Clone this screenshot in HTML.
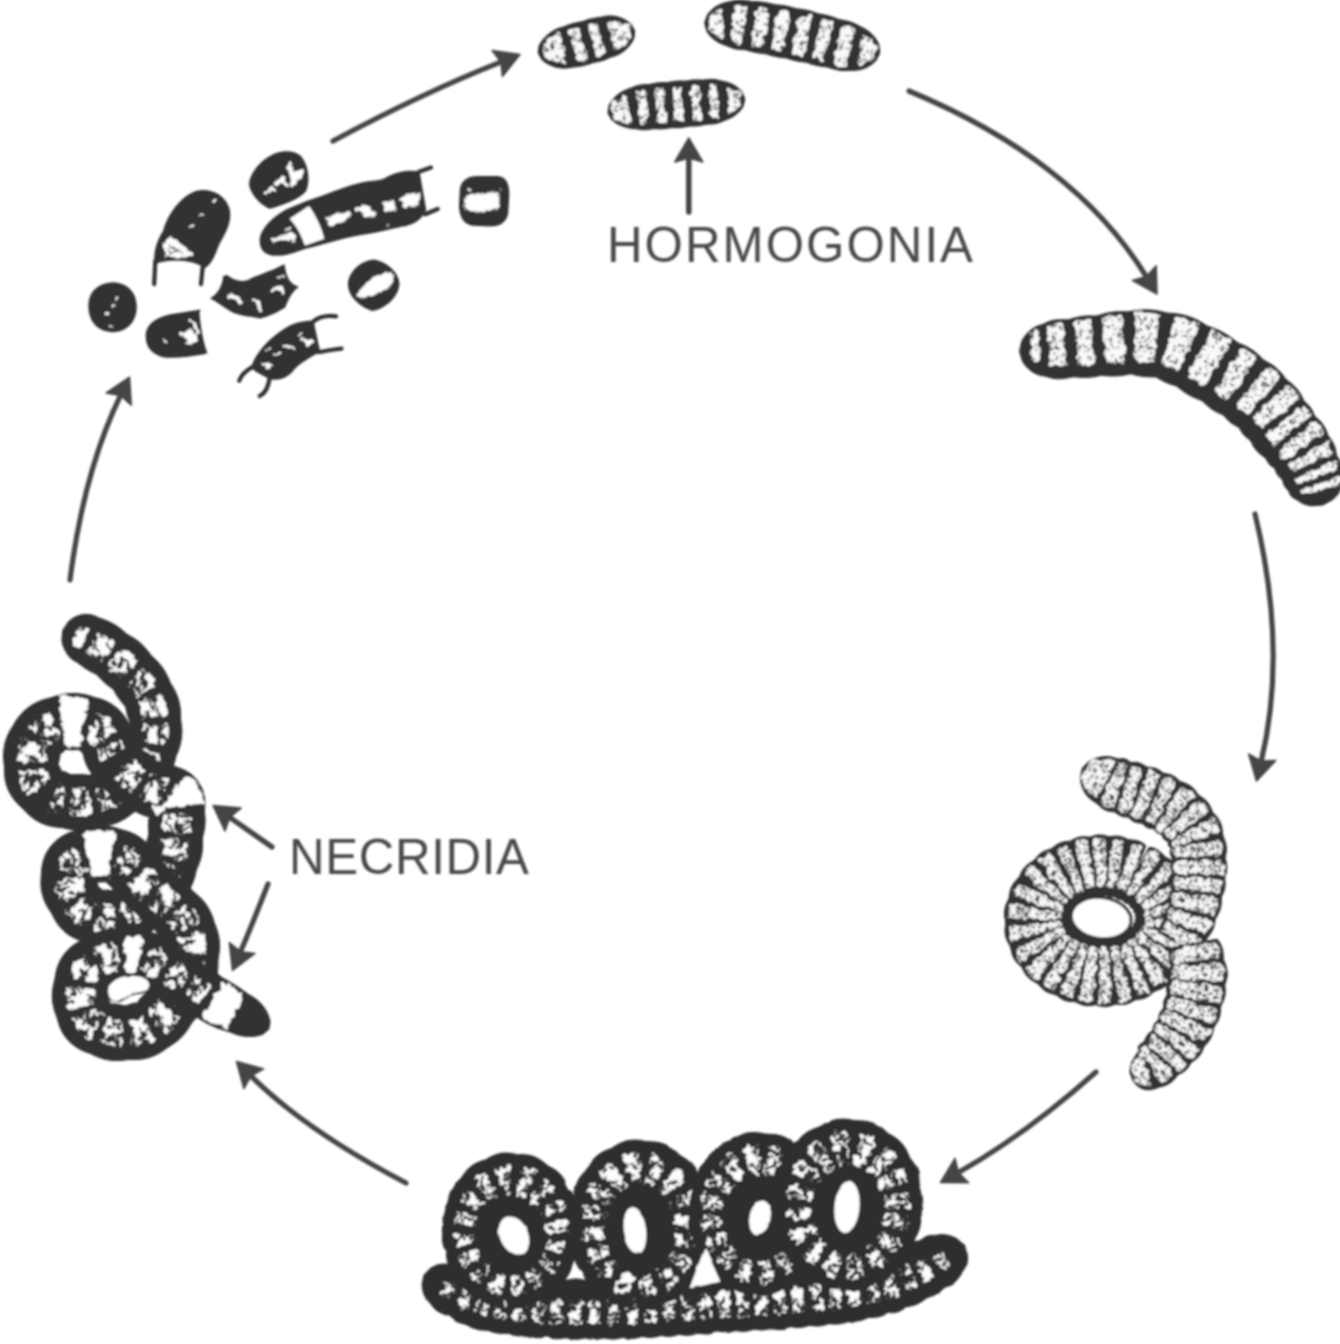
<!DOCTYPE html>
<html><head><meta charset="utf-8"><title>Life cycle</title>
<style>
html,body{margin:0;padding:0;background:#fff;}
body{width:1340px;height:1344px;overflow:hidden;font-family:"Liberation Sans",sans-serif;}
svg{display:block;}
</style></head><body>
<svg width="1340" height="1344" viewBox="0 0 1340 1344">
<defs>
<filter id="soft" x="-2%" y="-2%" width="104%" height="104%"><feGaussianBlur stdDeviation="1.3"/></filter>
<filter id="rough" x="-5%" y="-5%" width="110%" height="110%"><feTurbulence type="fractalNoise" baseFrequency="0.11" numOctaves="2" seed="3" result="n"/><feDisplacementMap in="SourceGraphic" in2="n" scale="7" xChannelSelector="R" yChannelSelector="G"/></filter>
<filter id="rough2" x="-5%" y="-5%" width="110%" height="110%"><feTurbulence type="fractalNoise" baseFrequency="0.2" numOctaves="2" seed="8" result="n"/><feDisplacementMap in="SourceGraphic" in2="n" scale="5" xChannelSelector="R" yChannelSelector="G"/></filter>
<filter id="rough6" x="-5%" y="-5%" width="110%" height="110%"><feTurbulence type="fractalNoise" baseFrequency="0.16" numOctaves="2" seed="4" result="n"/><feDisplacementMap in="SourceGraphic" in2="n" scale="9" xChannelSelector="R" yChannelSelector="G"/></filter>
<filter id="rough7" x="-5%" y="-5%" width="110%" height="110%"><feTurbulence type="fractalNoise" baseFrequency="0.14" numOctaves="2" seed="9" result="n"/><feDisplacementMap in="SourceGraphic" in2="n" scale="8" xChannelSelector="R" yChannelSelector="G"/></filter>
<filter id="wob" x="-5%" y="-5%" width="110%" height="110%"><feTurbulence type="fractalNoise" baseFrequency="0.05" numOctaves="2" seed="5" result="n"/><feDisplacementMap in="SourceGraphic" in2="n" scale="3" xChannelSelector="R" yChannelSelector="G"/></filter>
<pattern id="spk" width="48" height="48" patternUnits="userSpaceOnUse"><rect width="48" height="48" fill="#fbfbfb"/><circle cx="6.4" cy="40.7" r="0.9" fill="#3c3c3c"/><circle cx="12.2" cy="23.8" r="0.8" fill="#3c3c3c"/><circle cx="31.3" cy="37.9" r="0.6" fill="#3c3c3c"/><circle cx="1.4" cy="40.1" r="0.8" fill="#3c3c3c"/><circle cx="36.6" cy="0.1" r="0.8" fill="#3c3c3c"/><circle cx="36.6" cy="48.1" r="0.8" fill="#3c3c3c"/><circle cx="34.6" cy="11" r="1" fill="#3c3c3c"/><circle cx="43.3" cy="1.5" r="0.6" fill="#3c3c3c"/><circle cx="26" cy="45.1" r="0.8" fill="#3c3c3c"/><circle cx="10.4" cy="20.3" r="0.6" fill="#3c3c3c"/><circle cx="10.6" cy="21" r="0.8" fill="#3c3c3c"/><circle cx="11.2" cy="11.1" r="0.7" fill="#3c3c3c"/><circle cx="22.1" cy="13.9" r="0.6" fill="#3c3c3c"/><circle cx="40.2" cy="26.7" r="0.9" fill="#3c3c3c"/><circle cx="8.9" cy="-0.4" r="1" fill="#3c3c3c"/><circle cx="8.9" cy="47.6" r="1" fill="#3c3c3c"/><circle cx="5.8" cy="16" r="0.9" fill="#3c3c3c"/><circle cx="34.1" cy="44.9" r="0.8" fill="#3c3c3c"/><circle cx="39.8" cy="32.2" r="0.7" fill="#3c3c3c"/><circle cx="28.2" cy="42.4" r="1" fill="#3c3c3c"/><circle cx="24.3" cy="28.3" r="0.6" fill="#3c3c3c"/><circle cx="11.7" cy="38.3" r="0.8" fill="#3c3c3c"/><circle cx="8.3" cy="26.3" r="0.9" fill="#3c3c3c"/><circle cx="32.4" cy="18" r="0.8" fill="#3c3c3c"/><circle cx="24.4" cy="37.4" r="0.8" fill="#3c3c3c"/><circle cx="18.9" cy="23.5" r="0.6" fill="#3c3c3c"/><circle cx="2.1" cy="33.8" r="1" fill="#3c3c3c"/><circle cx="28.5" cy="18.9" r="0.7" fill="#3c3c3c"/><circle cx="24.1" cy="-0.9" r="0.9" fill="#3c3c3c"/><circle cx="24.1" cy="47.1" r="0.9" fill="#3c3c3c"/><circle cx="25.9" cy="41.3" r="0.7" fill="#3c3c3c"/><circle cx="24.7" cy="45.7" r="0.9" fill="#3c3c3c"/><circle cx="22" cy="12.9" r="0.8" fill="#3c3c3c"/><circle cx="45.9" cy="0.3" r="1" fill="#3c3c3c"/><circle cx="45.9" cy="48.3" r="1" fill="#3c3c3c"/><circle cx="39.4" cy="42.5" r="0.9" fill="#3c3c3c"/><circle cx="38.8" cy="24.9" r="0.9" fill="#3c3c3c"/><circle cx="20.5" cy="2.7" r="1" fill="#3c3c3c"/><circle cx="27.4" cy="9.6" r="0.8" fill="#3c3c3c"/><circle cx="23.3" cy="17.1" r="0.8" fill="#3c3c3c"/><circle cx="25.8" cy="29.9" r="0.9" fill="#3c3c3c"/><circle cx="22" cy="1.3" r="0.7" fill="#3c3c3c"/><circle cx="8.5" cy="28.1" r="1" fill="#3c3c3c"/><circle cx="38.3" cy="38.3" r="1" fill="#3c3c3c"/><circle cx="12.3" cy="40.4" r="0.9" fill="#3c3c3c"/><circle cx="4" cy="0.8" r="0.6" fill="#3c3c3c"/><circle cx="36.3" cy="12" r="0.6" fill="#3c3c3c"/><circle cx="30" cy="16.5" r="0.6" fill="#3c3c3c"/><circle cx="7.7" cy="25.3" r="0.7" fill="#3c3c3c"/><circle cx="13.1" cy="34.2" r="0.8" fill="#3c3c3c"/><circle cx="15.5" cy="22.7" r="0.6" fill="#3c3c3c"/><circle cx="18.6" cy="20.2" r="0.7" fill="#3c3c3c"/><circle cx="5.2" cy="43.2" r="0.8" fill="#3c3c3c"/><circle cx="10" cy="29.1" r="1" fill="#3c3c3c"/><circle cx="1" cy="0.9" r="0.7" fill="#3c3c3c"/><circle cx="34.5" cy="7.7" r="0.9" fill="#3c3c3c"/><circle cx="32.6" cy="26.1" r="0.7" fill="#3c3c3c"/><circle cx="46.8" cy="38.3" r="0.8" fill="#3c3c3c"/><circle cx="10.7" cy="31.1" r="0.8" fill="#3c3c3c"/><circle cx="27.6" cy="15.4" r="0.9" fill="#3c3c3c"/><circle cx="2.8" cy="14.3" r="1" fill="#3c3c3c"/><circle cx="42" cy="14.7" r="1" fill="#3c3c3c"/><circle cx="14.9" cy="45.1" r="0.9" fill="#3c3c3c"/><circle cx="20" cy="12.1" r="0.6" fill="#3c3c3c"/><circle cx="42.2" cy="1.8" r="1" fill="#3c3c3c"/><circle cx="46.2" cy="27.4" r="0.7" fill="#3c3c3c"/><circle cx="41.7" cy="46.7" r="0.9" fill="#3c3c3c"/><circle cx="24.4" cy="18.1" r="0.8" fill="#3c3c3c"/><circle cx="9.9" cy="32.4" r="0.8" fill="#3c3c3c"/><circle cx="9.3" cy="5" r="0.9" fill="#3c3c3c"/><circle cx="14.2" cy="24" r="0.7" fill="#3c3c3c"/><circle cx="41.8" cy="43.2" r="0.6" fill="#3c3c3c"/><circle cx="9.6" cy="15.7" r="1" fill="#3c3c3c"/><circle cx="37.6" cy="16.3" r="0.7" fill="#3c3c3c"/><circle cx="32.4" cy="40.2" r="1" fill="#3c3c3c"/><circle cx="16.5" cy="42.4" r="0.9" fill="#3c3c3c"/><circle cx="23.3" cy="-0.7" r="0.7" fill="#3c3c3c"/><circle cx="23.3" cy="47.3" r="0.7" fill="#3c3c3c"/><circle cx="34.8" cy="4.1" r="0.7" fill="#3c3c3c"/><circle cx="43.7" cy="10.2" r="0.9" fill="#3c3c3c"/><circle cx="28.8" cy="40.4" r="0.8" fill="#3c3c3c"/><circle cx="16.3" cy="14" r="1" fill="#3c3c3c"/><circle cx="29" cy="45.8" r="1" fill="#3c3c3c"/><circle cx="6.5" cy="26.5" r="0.6" fill="#3c3c3c"/><circle cx="1.9" cy="3.5" r="1" fill="#3c3c3c"/><circle cx="37.8" cy="39.8" r="0.8" fill="#3c3c3c"/><circle cx="29.5" cy="37.5" r="0.8" fill="#3c3c3c"/><circle cx="27.4" cy="10.7" r="0.6" fill="#3c3c3c"/><circle cx="12.8" cy="42.8" r="0.9" fill="#3c3c3c"/><circle cx="44.4" cy="22" r="0.7" fill="#3c3c3c"/><circle cx="37.8" cy="39.7" r="0.6" fill="#3c3c3c"/><circle cx="32.2" cy="4.4" r="0.7" fill="#3c3c3c"/><circle cx="42.5" cy="1.9" r="0.7" fill="#3c3c3c"/><circle cx="-0.6" cy="20.2" r="0.7" fill="#3c3c3c"/><circle cx="47.4" cy="20.2" r="0.7" fill="#3c3c3c"/><circle cx="8" cy="11.6" r="0.9" fill="#3c3c3c"/><circle cx="4.9" cy="43.7" r="0.8" fill="#3c3c3c"/><circle cx="46.6" cy="43.6" r="0.7" fill="#3c3c3c"/><circle cx="12.2" cy="22.9" r="0.6" fill="#3c3c3c"/><circle cx="31.3" cy="1.9" r="0.6" fill="#3c3c3c"/><circle cx="-0.8" cy="14.2" r="0.9" fill="#3c3c3c"/><circle cx="47.2" cy="14.2" r="0.9" fill="#3c3c3c"/></pattern>
<pattern id="spk5" width="48" height="48" patternUnits="userSpaceOnUse"><rect width="48" height="48" fill="#f6f6f6"/><circle cx="29.9" cy="35.6" r="1.2" fill="#383838"/><circle cx="45.2" cy="35.5" r="1.3" fill="#383838"/><circle cx="1.4" cy="22.3" r="1.3" fill="#383838"/><circle cx="31.2" cy="43.2" r="0.8" fill="#383838"/><circle cx="22.5" cy="11.8" r="1" fill="#383838"/><circle cx="27.5" cy="0.6" r="0.8" fill="#383838"/><circle cx="27.5" cy="48.6" r="0.8" fill="#383838"/><circle cx="13.4" cy="44" r="1.2" fill="#383838"/><circle cx="7.7" cy="38.3" r="0.8" fill="#383838"/><circle cx="29.6" cy="6.1" r="0.7" fill="#383838"/><circle cx="41.8" cy="10.1" r="0.8" fill="#383838"/><circle cx="-0.8" cy="41.9" r="0.9" fill="#383838"/><circle cx="47.2" cy="41.9" r="0.9" fill="#383838"/><circle cx="46.2" cy="25.9" r="1.1" fill="#383838"/><circle cx="9.8" cy="45.2" r="1.1" fill="#383838"/><circle cx="46.4" cy="42.9" r="0.9" fill="#383838"/><circle cx="17.3" cy="8" r="0.8" fill="#383838"/><circle cx="3.1" cy="14.5" r="1.1" fill="#383838"/><circle cx="0.2" cy="32.5" r="0.9" fill="#383838"/><circle cx="48.2" cy="32.5" r="0.9" fill="#383838"/><circle cx="14.9" cy="39.3" r="1" fill="#383838"/><circle cx="15.2" cy="23.1" r="1.1" fill="#383838"/><circle cx="2.7" cy="46.8" r="0.7" fill="#383838"/><circle cx="36" cy="40.6" r="0.7" fill="#383838"/><circle cx="37.8" cy="17.6" r="1" fill="#383838"/><circle cx="0.4" cy="2.2" r="0.8" fill="#383838"/><circle cx="48.4" cy="2.2" r="0.8" fill="#383838"/><circle cx="45.8" cy="9.4" r="1.2" fill="#383838"/><circle cx="44.6" cy="45.2" r="0.9" fill="#383838"/><circle cx="17" cy="25.2" r="1.2" fill="#383838"/><circle cx="5.2" cy="35.9" r="1.2" fill="#383838"/><circle cx="41.3" cy="1.8" r="1.3" fill="#383838"/><circle cx="4.4" cy="16.4" r="1.1" fill="#383838"/><circle cx="44.1" cy="16.3" r="1.3" fill="#383838"/><circle cx="26.2" cy="15" r="0.9" fill="#383838"/><circle cx="8.5" cy="3.8" r="0.8" fill="#383838"/><circle cx="33.1" cy="-0.2" r="0.8" fill="#383838"/><circle cx="33.1" cy="47.8" r="0.8" fill="#383838"/><circle cx="2.3" cy="-0.6" r="1" fill="#383838"/><circle cx="2.3" cy="47.4" r="1" fill="#383838"/><circle cx="19.5" cy="11.4" r="1.1" fill="#383838"/><circle cx="39.7" cy="21.9" r="1" fill="#383838"/><circle cx="2.7" cy="44" r="0.7" fill="#383838"/><circle cx="23.7" cy="40.2" r="0.8" fill="#383838"/><circle cx="35.1" cy="45.6" r="1.1" fill="#383838"/><circle cx="37.8" cy="5.1" r="1" fill="#383838"/><circle cx="7.2" cy="40.5" r="0.9" fill="#383838"/><circle cx="21.8" cy="-0" r="1.2" fill="#383838"/><circle cx="21.8" cy="48" r="1.2" fill="#383838"/><circle cx="46.8" cy="21.8" r="1" fill="#383838"/><circle cx="35" cy="23" r="0.9" fill="#383838"/><circle cx="19.4" cy="7" r="0.9" fill="#383838"/><circle cx="-0.6" cy="46.1" r="1.1" fill="#383838"/><circle cx="47.4" cy="46.1" r="1.1" fill="#383838"/><circle cx="24" cy="16.2" r="0.8" fill="#383838"/><circle cx="13.1" cy="37.5" r="1.2" fill="#383838"/><circle cx="17.3" cy="37.7" r="1.2" fill="#383838"/><circle cx="33.3" cy="31.9" r="1.2" fill="#383838"/><circle cx="17.4" cy="33.8" r="0.9" fill="#383838"/><circle cx="23.3" cy="36.9" r="1.1" fill="#383838"/><circle cx="14.1" cy="45.4" r="1.1" fill="#383838"/><circle cx="27.9" cy="0.6" r="1" fill="#383838"/><circle cx="27.9" cy="48.6" r="1" fill="#383838"/><circle cx="12" cy="32.2" r="1" fill="#383838"/><circle cx="39.2" cy="31.1" r="1.2" fill="#383838"/><circle cx="16.7" cy="30.9" r="1.1" fill="#383838"/><circle cx="39.8" cy="16.8" r="1.2" fill="#383838"/><circle cx="41.8" cy="33" r="1.3" fill="#383838"/><circle cx="45.9" cy="24.9" r="1" fill="#383838"/><circle cx="8" cy="40.2" r="1.3" fill="#383838"/><circle cx="22.9" cy="33.2" r="1.1" fill="#383838"/><circle cx="35.1" cy="8.2" r="1.2" fill="#383838"/><circle cx="27.9" cy="31.9" r="1" fill="#383838"/><circle cx="29.9" cy="37.2" r="1.1" fill="#383838"/><circle cx="34.6" cy="1.3" r="0.8" fill="#383838"/><circle cx="21.2" cy="31.2" r="0.8" fill="#383838"/><circle cx="32.9" cy="30.3" r="0.7" fill="#383838"/><circle cx="22.6" cy="10.9" r="0.7" fill="#383838"/><circle cx="6.4" cy="15.2" r="0.8" fill="#383838"/><circle cx="9.3" cy="1.7" r="1" fill="#383838"/><circle cx="18.3" cy="29.4" r="1.1" fill="#383838"/><circle cx="11.4" cy="43.4" r="0.7" fill="#383838"/><circle cx="19.5" cy="13.4" r="0.9" fill="#383838"/><circle cx="5.5" cy="39.9" r="0.9" fill="#383838"/><circle cx="1.7" cy="29.5" r="0.8" fill="#383838"/><circle cx="26.2" cy="16.3" r="1" fill="#383838"/><circle cx="46" cy="39.3" r="1" fill="#383838"/><circle cx="39" cy="30.8" r="0.9" fill="#383838"/><circle cx="6.8" cy="28.6" r="1" fill="#383838"/><circle cx="45.9" cy="46.5" r="1.1" fill="#383838"/><circle cx="16.9" cy="42.9" r="0.7" fill="#383838"/><circle cx="5.2" cy="27.2" r="1.1" fill="#383838"/><circle cx="6.8" cy="30.2" r="1.2" fill="#383838"/><circle cx="18" cy="20.7" r="0.8" fill="#383838"/><circle cx="14" cy="46.7" r="0.9" fill="#383838"/><circle cx="46.1" cy="43.9" r="1.1" fill="#383838"/><circle cx="12.5" cy="-0.9" r="1" fill="#383838"/><circle cx="12.5" cy="47.1" r="1" fill="#383838"/><circle cx="19.9" cy="15.3" r="1.3" fill="#383838"/><circle cx="23.6" cy="13.7" r="1" fill="#383838"/><circle cx="5.9" cy="29.8" r="1" fill="#383838"/><circle cx="14.1" cy="37.5" r="1.2" fill="#383838"/><circle cx="0.6" cy="25.6" r="0.9" fill="#383838"/><circle cx="48.6" cy="25.6" r="0.9" fill="#383838"/><circle cx="44.9" cy="37.5" r="0.8" fill="#383838"/><circle cx="12.8" cy="7.4" r="1.3" fill="#383838"/><circle cx="14.1" cy="29.2" r="1" fill="#383838"/><circle cx="31" cy="29" r="1.1" fill="#383838"/><circle cx="5.7" cy="36.5" r="0.9" fill="#383838"/><circle cx="25.6" cy="16.1" r="0.9" fill="#383838"/><circle cx="25.4" cy="22.3" r="0.9" fill="#383838"/><circle cx="35.8" cy="28.4" r="0.7" fill="#383838"/><circle cx="12.1" cy="21.9" r="1.2" fill="#383838"/><circle cx="42.6" cy="26.2" r="0.7" fill="#383838"/><circle cx="37.4" cy="20.5" r="1" fill="#383838"/><circle cx="34" cy="30.3" r="1" fill="#383838"/><circle cx="43.8" cy="18.5" r="0.9" fill="#383838"/><circle cx="40.9" cy="9.4" r="0.9" fill="#383838"/><circle cx="39.8" cy="3.2" r="1.2" fill="#383838"/><circle cx="33.3" cy="20.8" r="0.9" fill="#383838"/><circle cx="37.5" cy="43.7" r="0.8" fill="#383838"/><circle cx="23" cy="26.4" r="1" fill="#383838"/><circle cx="15.9" cy="7.4" r="1.1" fill="#383838"/><circle cx="39" cy="3.3" r="0.8" fill="#383838"/><circle cx="39.3" cy="38" r="1.1" fill="#383838"/><circle cx="1.2" cy="34.7" r="1.3" fill="#383838"/><circle cx="49.2" cy="34.7" r="1.3" fill="#383838"/><circle cx="-0.1" cy="33.7" r="0.7" fill="#383838"/><circle cx="47.9" cy="33.7" r="0.7" fill="#383838"/><circle cx="40.4" cy="10.5" r="1.1" fill="#383838"/><circle cx="45.7" cy="34.2" r="0.8" fill="#383838"/><circle cx="14" cy="44.1" r="0.8" fill="#383838"/><circle cx="29.3" cy="19.9" r="0.8" fill="#383838"/><circle cx="29.9" cy="2.1" r="0.8" fill="#383838"/><circle cx="18.2" cy="3.5" r="0.7" fill="#383838"/><circle cx="27.6" cy="35.6" r="1.2" fill="#383838"/><circle cx="6.4" cy="20.7" r="0.9" fill="#383838"/><circle cx="28.8" cy="23.5" r="1.3" fill="#383838"/><circle cx="18" cy="2.7" r="1.1" fill="#383838"/><circle cx="7.3" cy="30.3" r="1" fill="#383838"/><circle cx="43.7" cy="26.6" r="1.1" fill="#383838"/><circle cx="12.6" cy="26.5" r="0.9" fill="#383838"/><circle cx="36" cy="24.8" r="0.8" fill="#383838"/><circle cx="11.3" cy="17.8" r="1.1" fill="#383838"/><circle cx="8.6" cy="34.2" r="1.1" fill="#383838"/><circle cx="4.1" cy="32.1" r="0.8" fill="#383838"/><circle cx="6" cy="28.5" r="0.8" fill="#383838"/><circle cx="42.1" cy="23.1" r="0.9" fill="#383838"/><circle cx="38.2" cy="1.4" r="1.1" fill="#383838"/><circle cx="2.6" cy="7.2" r="1.3" fill="#383838"/><circle cx="32.7" cy="10.7" r="0.8" fill="#383838"/><circle cx="46.7" cy="31.9" r="1.2" fill="#383838"/><circle cx="6.7" cy="30" r="0.9" fill="#383838"/><circle cx="11.3" cy="16" r="1.1" fill="#383838"/><circle cx="16.7" cy="18.5" r="0.8" fill="#383838"/><circle cx="39.9" cy="31.1" r="1.2" fill="#383838"/><circle cx="20.8" cy="40.9" r="1" fill="#383838"/><circle cx="28.4" cy="27.5" r="1.1" fill="#383838"/><circle cx="19" cy="4.7" r="0.7" fill="#383838"/><circle cx="9.7" cy="1.9" r="1.2" fill="#383838"/><circle cx="23.1" cy="36.5" r="0.7" fill="#383838"/><circle cx="22.6" cy="42.7" r="1.1" fill="#383838"/><circle cx="20.6" cy="22.3" r="0.8" fill="#383838"/><circle cx="7.4" cy="7.6" r="0.9" fill="#383838"/><circle cx="18.5" cy="42.3" r="0.8" fill="#383838"/><circle cx="12.2" cy="13.3" r="0.8" fill="#383838"/><circle cx="13.8" cy="11.3" r="1" fill="#383838"/><circle cx="1.5" cy="44.4" r="0.9" fill="#383838"/><circle cx="45" cy="33" r="1.1" fill="#383838"/><circle cx="22.6" cy="45.4" r="0.8" fill="#383838"/><circle cx="32.1" cy="14" r="1.1" fill="#383838"/><circle cx="35" cy="7.8" r="0.8" fill="#383838"/><circle cx="1.2" cy="11.1" r="0.7" fill="#383838"/><circle cx="19.3" cy="46.7" r="0.9" fill="#383838"/><circle cx="15" cy="22.5" r="0.9" fill="#383838"/><circle cx="35.2" cy="34.5" r="0.8" fill="#383838"/><circle cx="11.5" cy="32.3" r="1.3" fill="#383838"/><circle cx="31" cy="20.7" r="1.3" fill="#383838"/><circle cx="0.3" cy="2.9" r="1.2" fill="#383838"/><circle cx="48.3" cy="2.9" r="1.2" fill="#383838"/><circle cx="19.7" cy="2.2" r="1" fill="#383838"/><circle cx="-0.5" cy="24.9" r="0.9" fill="#383838"/><circle cx="47.5" cy="24.9" r="0.9" fill="#383838"/><circle cx="4.5" cy="3.4" r="1.2" fill="#383838"/><circle cx="23.6" cy="44.9" r="0.7" fill="#383838"/><circle cx="11.7" cy="2.4" r="0.9" fill="#383838"/><circle cx="2.9" cy="12.3" r="0.9" fill="#383838"/><circle cx="14.7" cy="2.5" r="0.7" fill="#383838"/><circle cx="46.6" cy="8.6" r="1" fill="#383838"/><circle cx="19.3" cy="25.5" r="0.8" fill="#383838"/><circle cx="15.1" cy="5.2" r="1" fill="#383838"/><circle cx="44.2" cy="28.7" r="1.2" fill="#383838"/><circle cx="10.3" cy="0.8" r="1" fill="#383838"/><circle cx="10.3" cy="48.8" r="1" fill="#383838"/><circle cx="23.4" cy="27.4" r="0.9" fill="#383838"/><circle cx="30" cy="34.8" r="1.2" fill="#383838"/><circle cx="14.8" cy="21.6" r="1.2" fill="#383838"/><circle cx="10.8" cy="5.6" r="0.9" fill="#383838"/><circle cx="4.2" cy="37.1" r="1.2" fill="#383838"/><circle cx="15" cy="6.2" r="0.7" fill="#383838"/><circle cx="11.8" cy="4" r="1" fill="#383838"/><circle cx="27.7" cy="11.8" r="0.7" fill="#383838"/><circle cx="33.6" cy="2.3" r="0.8" fill="#383838"/><circle cx="13.7" cy="17.9" r="0.8" fill="#383838"/><circle cx="20.2" cy="15.1" r="1.2" fill="#383838"/><circle cx="26.7" cy="43" r="1.1" fill="#383838"/><circle cx="36.5" cy="27.6" r="1" fill="#383838"/><circle cx="39.2" cy="31.5" r="1.3" fill="#383838"/><circle cx="34.9" cy="33.7" r="0.9" fill="#383838"/><circle cx="39" cy="18.4" r="0.8" fill="#383838"/><circle cx="3.2" cy="8.1" r="0.9" fill="#383838"/><circle cx="32.4" cy="13.7" r="0.7" fill="#383838"/><circle cx="36.7" cy="26.7" r="0.7" fill="#383838"/><circle cx="2.4" cy="6.2" r="0.9" fill="#383838"/><circle cx="41.3" cy="45.6" r="1.1" fill="#383838"/><circle cx="11.1" cy="20.6" r="0.9" fill="#383838"/><circle cx="15.9" cy="0.6" r="1.1" fill="#383838"/><circle cx="15.9" cy="48.6" r="1.1" fill="#383838"/><circle cx="39.7" cy="34.9" r="0.8" fill="#383838"/><circle cx="25.5" cy="8.2" r="1.1" fill="#383838"/><circle cx="21.4" cy="45" r="1.2" fill="#383838"/><circle cx="5.7" cy="15.2" r="1.2" fill="#383838"/><circle cx="22.1" cy="20.8" r="1" fill="#383838"/><circle cx="36.8" cy="44.9" r="1" fill="#383838"/><circle cx="46.5" cy="28.6" r="0.8" fill="#383838"/><circle cx="39.1" cy="20.1" r="0.7" fill="#383838"/><circle cx="46.9" cy="1.6" r="1" fill="#383838"/></pattern>
<pattern id="spk2" width="48" height="48" patternUnits="userSpaceOnUse"><rect width="48" height="48" fill="#f9f9f9"/><circle cx="45.9" cy="45.5" r="0.7" fill="#383838"/><circle cx="4.1" cy="40.1" r="1.1" fill="#383838"/><circle cx="32.1" cy="14.8" r="1" fill="#383838"/><circle cx="29.1" cy="27.9" r="0.7" fill="#383838"/><circle cx="20.7" cy="18.9" r="1" fill="#383838"/><circle cx="-0.2" cy="45.6" r="0.9" fill="#383838"/><circle cx="47.8" cy="45.6" r="0.9" fill="#383838"/><circle cx="21.4" cy="12.9" r="0.7" fill="#383838"/><circle cx="1.3" cy="22.3" r="0.8" fill="#383838"/><circle cx="18.2" cy="42.8" r="0.9" fill="#383838"/><circle cx="26.9" cy="11.3" r="0.7" fill="#383838"/><circle cx="15.6" cy="6.6" r="0.9" fill="#383838"/><circle cx="-0.1" cy="32.4" r="0.8" fill="#383838"/><circle cx="47.9" cy="32.4" r="0.8" fill="#383838"/><circle cx="42.9" cy="38.2" r="1.1" fill="#383838"/><circle cx="43.5" cy="36.6" r="1.1" fill="#383838"/><circle cx="17" cy="-0.9" r="1.2" fill="#383838"/><circle cx="17" cy="47.1" r="1.2" fill="#383838"/><circle cx="7.7" cy="36.2" r="1" fill="#383838"/><circle cx="22.1" cy="25.5" r="0.9" fill="#383838"/><circle cx="44.4" cy="24" r="1.1" fill="#383838"/><circle cx="17" cy="42.4" r="1.1" fill="#383838"/><circle cx="22.1" cy="27.2" r="1.2" fill="#383838"/><circle cx="34.7" cy="23.4" r="0.8" fill="#383838"/><circle cx="15.6" cy="33.6" r="0.7" fill="#383838"/><circle cx="43.6" cy="12.9" r="1.2" fill="#383838"/><circle cx="14.9" cy="46" r="1" fill="#383838"/><circle cx="24.2" cy="24.9" r="1" fill="#383838"/><circle cx="28.2" cy="15" r="0.8" fill="#383838"/><circle cx="24.6" cy="44.8" r="1" fill="#383838"/><circle cx="3.6" cy="39.4" r="1" fill="#383838"/><circle cx="43.6" cy="9.2" r="1.1" fill="#383838"/><circle cx="2.8" cy="31.3" r="0.8" fill="#383838"/><circle cx="10.9" cy="42" r="0.7" fill="#383838"/><circle cx="25.1" cy="41" r="0.8" fill="#383838"/><circle cx="10.1" cy="42.3" r="0.9" fill="#383838"/><circle cx="34.4" cy="1.5" r="0.8" fill="#383838"/><circle cx="8.3" cy="32.3" r="0.7" fill="#383838"/><circle cx="45.8" cy="1.2" r="1.1" fill="#383838"/><circle cx="1" cy="12.3" r="1.1" fill="#383838"/><circle cx="49" cy="12.3" r="1.1" fill="#383838"/><circle cx="7.5" cy="8.8" r="1" fill="#383838"/><circle cx="18.5" cy="2.1" r="1.2" fill="#383838"/><circle cx="7.3" cy="1.7" r="0.8" fill="#383838"/><circle cx="29.5" cy="35.6" r="0.7" fill="#383838"/><circle cx="16.2" cy="1.5" r="0.9" fill="#383838"/><circle cx="36.8" cy="35.5" r="1.1" fill="#383838"/><circle cx="36.3" cy="41.4" r="1" fill="#383838"/><circle cx="22.7" cy="10.8" r="1" fill="#383838"/><circle cx="15.2" cy="4.9" r="0.9" fill="#383838"/><circle cx="42" cy="6.1" r="1" fill="#383838"/><circle cx="18.9" cy="24.7" r="0.7" fill="#383838"/><circle cx="46.1" cy="12.4" r="1" fill="#383838"/><circle cx="20.1" cy="0.9" r="1" fill="#383838"/><circle cx="20.1" cy="48.9" r="1" fill="#383838"/><circle cx="6.7" cy="2.7" r="0.7" fill="#383838"/><circle cx="7.7" cy="4.6" r="1" fill="#383838"/><circle cx="24.4" cy="-0.8" r="1.2" fill="#383838"/><circle cx="24.4" cy="47.2" r="1.2" fill="#383838"/><circle cx="-0.3" cy="11.2" r="0.9" fill="#383838"/><circle cx="47.7" cy="11.2" r="0.9" fill="#383838"/><circle cx="12" cy="28.4" r="1" fill="#383838"/><circle cx="38.4" cy="34.1" r="0.8" fill="#383838"/><circle cx="20.3" cy="25.3" r="0.7" fill="#383838"/><circle cx="1.7" cy="19.6" r="0.7" fill="#383838"/><circle cx="34.7" cy="11.6" r="0.7" fill="#383838"/><circle cx="8.7" cy="11.1" r="0.8" fill="#383838"/><circle cx="25" cy="22.3" r="0.8" fill="#383838"/><circle cx="30.8" cy="10.2" r="1.1" fill="#383838"/><circle cx="46.2" cy="35" r="0.9" fill="#383838"/><circle cx="24.6" cy="27.9" r="0.7" fill="#383838"/><circle cx="20.1" cy="25.2" r="0.7" fill="#383838"/><circle cx="4.5" cy="38.5" r="0.9" fill="#383838"/><circle cx="24.9" cy="44.2" r="1" fill="#383838"/><circle cx="13.9" cy="-0.8" r="0.9" fill="#383838"/><circle cx="13.9" cy="47.2" r="0.9" fill="#383838"/><circle cx="0.9" cy="32.9" r="0.7" fill="#383838"/><circle cx="14.7" cy="40.3" r="1" fill="#383838"/><circle cx="0.8" cy="21.7" r="0.9" fill="#383838"/><circle cx="48.8" cy="21.7" r="0.9" fill="#383838"/><circle cx="23.3" cy="10" r="1" fill="#383838"/><circle cx="3.5" cy="13.6" r="0.9" fill="#383838"/><circle cx="44.9" cy="3.7" r="1.1" fill="#383838"/><circle cx="9.2" cy="27.4" r="0.9" fill="#383838"/><circle cx="22.2" cy="36.2" r="0.9" fill="#383838"/><circle cx="5.8" cy="5.8" r="0.7" fill="#383838"/><circle cx="40.8" cy="30.8" r="1.2" fill="#383838"/><circle cx="33.2" cy="1.2" r="1" fill="#383838"/><circle cx="37.3" cy="34.7" r="0.9" fill="#383838"/><circle cx="17.2" cy="21.9" r="1.1" fill="#383838"/><circle cx="12.9" cy="25.3" r="0.9" fill="#383838"/><circle cx="45.8" cy="38.6" r="1.2" fill="#383838"/><circle cx="40.1" cy="14.2" r="0.8" fill="#383838"/><circle cx="23.5" cy="12.5" r="0.9" fill="#383838"/><circle cx="32.6" cy="44.1" r="1" fill="#383838"/><circle cx="39.3" cy="4.6" r="0.8" fill="#383838"/><circle cx="-0.1" cy="7" r="0.9" fill="#383838"/><circle cx="47.9" cy="7" r="0.9" fill="#383838"/><circle cx="3.2" cy="4.1" r="1.1" fill="#383838"/><circle cx="-0.5" cy="31.1" r="0.7" fill="#383838"/><circle cx="47.5" cy="31.1" r="0.7" fill="#383838"/><circle cx="14.2" cy="11.1" r="1" fill="#383838"/><circle cx="32.7" cy="21.1" r="0.9" fill="#383838"/><circle cx="5.4" cy="26" r="1.2" fill="#383838"/><circle cx="36.3" cy="4.6" r="0.9" fill="#383838"/><circle cx="34.3" cy="12.3" r="1.1" fill="#383838"/><circle cx="22.1" cy="33.8" r="0.9" fill="#383838"/><circle cx="-0.2" cy="37.6" r="1" fill="#383838"/><circle cx="47.8" cy="37.6" r="1" fill="#383838"/><circle cx="6.9" cy="21.2" r="0.7" fill="#383838"/><circle cx="28.6" cy="42.3" r="0.7" fill="#383838"/><circle cx="24.5" cy="23.2" r="0.9" fill="#383838"/><circle cx="34.1" cy="45" r="1" fill="#383838"/><circle cx="22.7" cy="46.2" r="0.8" fill="#383838"/><circle cx="35.8" cy="31.6" r="1.1" fill="#383838"/><circle cx="40.9" cy="10.8" r="1" fill="#383838"/><circle cx="19.3" cy="32" r="1.2" fill="#383838"/><circle cx="30.5" cy="0.6" r="0.9" fill="#383838"/><circle cx="30.5" cy="48.6" r="0.9" fill="#383838"/><circle cx="34.2" cy="42.4" r="1" fill="#383838"/><circle cx="39.2" cy="0.8" r="1.2" fill="#383838"/><circle cx="39.2" cy="48.8" r="1.2" fill="#383838"/><circle cx="35" cy="29.1" r="1.1" fill="#383838"/><circle cx="42.5" cy="4.8" r="1.1" fill="#383838"/><circle cx="36.8" cy="9.6" r="1.1" fill="#383838"/><circle cx="28.1" cy="9.2" r="1.1" fill="#383838"/><circle cx="6.6" cy="29.4" r="0.9" fill="#383838"/><circle cx="12.2" cy="27.2" r="0.9" fill="#383838"/><circle cx="9.8" cy="46.4" r="0.7" fill="#383838"/><circle cx="0.1" cy="23.3" r="1.1" fill="#383838"/><circle cx="48.1" cy="23.3" r="1.1" fill="#383838"/><circle cx="31.6" cy="36.2" r="0.9" fill="#383838"/><circle cx="32.4" cy="16.1" r="0.8" fill="#383838"/><circle cx="24.1" cy="1.3" r="0.7" fill="#383838"/><circle cx="36.2" cy="8.3" r="1.1" fill="#383838"/><circle cx="37.7" cy="19.4" r="1" fill="#383838"/><circle cx="37.8" cy="41.5" r="0.7" fill="#383838"/><circle cx="7.8" cy="18.3" r="0.9" fill="#383838"/><circle cx="14.2" cy="0.5" r="1" fill="#383838"/><circle cx="14.2" cy="48.5" r="1" fill="#383838"/><circle cx="46.4" cy="17.6" r="0.9" fill="#383838"/><circle cx="18.4" cy="21.3" r="1.1" fill="#383838"/><circle cx="14.8" cy="31.2" r="0.9" fill="#383838"/><circle cx="25.9" cy="43.9" r="0.7" fill="#383838"/><circle cx="39.6" cy="14.6" r="1" fill="#383838"/><circle cx="38.2" cy="31.4" r="0.9" fill="#383838"/></pattern>
<pattern id="hat6" width="60" height="60" patternUnits="userSpaceOnUse"><rect width="60" height="60" fill="#fdfdfd"/><path d="M30.7,32.7 L23.6,34.4" stroke="#2e2e2e" stroke-width="3.1" stroke-linecap="round"/><path d="M35.4,6.9 L35.1,15.3" stroke="#2e2e2e" stroke-width="3.7" stroke-linecap="round"/><path d="M1,16.8 L10.3,19.6" stroke="#2e2e2e" stroke-width="3.5" stroke-linecap="round"/><path d="M61,16.8 L70.3,19.6" stroke="#2e2e2e" stroke-width="3.5" stroke-linecap="round"/><path d="M6.8,-1.5 L-1.7,-0.6" stroke="#2e2e2e" stroke-width="3.4" stroke-linecap="round"/><path d="M6.8,58.5 L-1.7,59.4" stroke="#2e2e2e" stroke-width="3.4" stroke-linecap="round"/><path d="M66.8,-1.5 L58.3,-0.6" stroke="#2e2e2e" stroke-width="3.4" stroke-linecap="round"/><path d="M66.8,58.5 L58.3,59.4" stroke="#2e2e2e" stroke-width="3.4" stroke-linecap="round"/><path d="M9.6,-1.3 L9.3,3.1" stroke="#2e2e2e" stroke-width="2.4" stroke-linecap="round"/><path d="M9.6,58.7 L9.3,63.1" stroke="#2e2e2e" stroke-width="2.4" stroke-linecap="round"/><path d="M14.1,-1.7 L14.9,5.3" stroke="#2e2e2e" stroke-width="3.9" stroke-linecap="round"/><path d="M14.1,58.3 L14.9,65.3" stroke="#2e2e2e" stroke-width="3.9" stroke-linecap="round"/><path d="M31.1,34.1 L31.2,42.7" stroke="#2e2e2e" stroke-width="3" stroke-linecap="round"/><path d="M21.6,-0.2 L11.7,-0.1" stroke="#2e2e2e" stroke-width="3.6" stroke-linecap="round"/><path d="M21.6,59.8 L11.7,59.9" stroke="#2e2e2e" stroke-width="3.6" stroke-linecap="round"/><path d="M17.5,12 L20.3,15.6" stroke="#2e2e2e" stroke-width="3.7" stroke-linecap="round"/><path d="M22.2,-14.2 L25.9,-4.2" stroke="#2e2e2e" stroke-width="3.9" stroke-linecap="round"/><path d="M22.2,45.8 L25.9,55.8" stroke="#2e2e2e" stroke-width="3.9" stroke-linecap="round"/><path d="M3.5,11.6 L-3.5,13.6" stroke="#2e2e2e" stroke-width="4.2" stroke-linecap="round"/><path d="M63.5,11.6 L56.5,13.6" stroke="#2e2e2e" stroke-width="4.2" stroke-linecap="round"/><path d="M25.7,0 L22,8.7" stroke="#2e2e2e" stroke-width="2.6" stroke-linecap="round"/><path d="M25.7,60 L22,68.7" stroke="#2e2e2e" stroke-width="2.6" stroke-linecap="round"/><path d="M9.9,19.4 L0.6,20.5" stroke="#2e2e2e" stroke-width="2.3" stroke-linecap="round"/><path d="M69.9,19.4 L60.6,20.5" stroke="#2e2e2e" stroke-width="2.3" stroke-linecap="round"/><path d="M10.1,5.2 L19.5,7" stroke="#2e2e2e" stroke-width="2.4" stroke-linecap="round"/><path d="M10.1,65.2 L19.5,67" stroke="#2e2e2e" stroke-width="2.4" stroke-linecap="round"/><path d="M29.8,24.3 L37.3,29.4" stroke="#2e2e2e" stroke-width="2.3" stroke-linecap="round"/><path d="M37.9,4.3 L39.3,9.7" stroke="#2e2e2e" stroke-width="2.6" stroke-linecap="round"/><path d="M-4.7,44 L1.2,52.4" stroke="#2e2e2e" stroke-width="2.5" stroke-linecap="round"/><path d="M55.3,44 L61.2,52.4" stroke="#2e2e2e" stroke-width="2.5" stroke-linecap="round"/><path d="M24.7,49.1 L22.6,53.4" stroke="#2e2e2e" stroke-width="4.2" stroke-linecap="round"/><path d="M15.2,13.4 L10.4,17.6" stroke="#2e2e2e" stroke-width="2.7" stroke-linecap="round"/><path d="M5.1,2.7 L3.7,8.2" stroke="#2e2e2e" stroke-width="3.3" stroke-linecap="round"/><path d="M5.1,62.7 L3.7,68.2" stroke="#2e2e2e" stroke-width="3.3" stroke-linecap="round"/><path d="M65.1,2.7 L63.7,8.2" stroke="#2e2e2e" stroke-width="3.3" stroke-linecap="round"/><path d="M65.1,62.7 L63.7,68.2" stroke="#2e2e2e" stroke-width="3.3" stroke-linecap="round"/><path d="M26,26.7 L18.6,27.7" stroke="#2e2e2e" stroke-width="3.3" stroke-linecap="round"/><path d="M-12.6,8.6 L-3.4,13.4" stroke="#2e2e2e" stroke-width="3.8" stroke-linecap="round"/><path d="M47.4,8.6 L56.6,13.4" stroke="#2e2e2e" stroke-width="3.8" stroke-linecap="round"/><path d="M18.6,7.5 L11.4,15.3" stroke="#2e2e2e" stroke-width="2.4" stroke-linecap="round"/><path d="M-1.9,49.6 L-4.1,56.2" stroke="#2e2e2e" stroke-width="2.2" stroke-linecap="round"/><path d="M58.1,49.6 L55.9,56.2" stroke="#2e2e2e" stroke-width="2.2" stroke-linecap="round"/><path d="M-0.9,-5.3 L5.6,0.8" stroke="#2e2e2e" stroke-width="2.6" stroke-linecap="round"/><path d="M-0.9,54.7 L5.6,60.8" stroke="#2e2e2e" stroke-width="2.6" stroke-linecap="round"/><path d="M59.1,-5.3 L65.6,0.8" stroke="#2e2e2e" stroke-width="2.6" stroke-linecap="round"/><path d="M59.1,54.7 L65.6,60.8" stroke="#2e2e2e" stroke-width="2.6" stroke-linecap="round"/><path d="M47.8,33.7 L51,37.9" stroke="#2e2e2e" stroke-width="3.6" stroke-linecap="round"/><path d="M5.1,8.8 L3.2,18.6" stroke="#2e2e2e" stroke-width="3.4" stroke-linecap="round"/><path d="M65.1,8.8 L63.2,18.6" stroke="#2e2e2e" stroke-width="3.4" stroke-linecap="round"/><path d="M15.2,53.8 L18.5,56.3" stroke="#2e2e2e" stroke-width="2.6" stroke-linecap="round"/><path d="M23.9,1.9 L29.5,5.4" stroke="#2e2e2e" stroke-width="3.3" stroke-linecap="round"/><path d="M23.9,61.9 L29.5,65.4" stroke="#2e2e2e" stroke-width="3.3" stroke-linecap="round"/><path d="M13,19.9 L2.8,23.6" stroke="#2e2e2e" stroke-width="3.4" stroke-linecap="round"/><path d="M73,19.9 L62.8,23.6" stroke="#2e2e2e" stroke-width="3.4" stroke-linecap="round"/><path d="M39.6,34.2 L43.4,36" stroke="#2e2e2e" stroke-width="2" stroke-linecap="round"/><path d="M56.7,41.8 L52.6,42.3" stroke="#2e2e2e" stroke-width="3.4" stroke-linecap="round"/><path d="M26,39.2 L31.9,48.5" stroke="#2e2e2e" stroke-width="2.2" stroke-linecap="round"/><path d="M37.1,42.8 L28.4,45.6" stroke="#2e2e2e" stroke-width="3.5" stroke-linecap="round"/><path d="M45.6,-9 L49.6,-1.2" stroke="#2e2e2e" stroke-width="4" stroke-linecap="round"/><path d="M45.6,51 L49.6,58.8" stroke="#2e2e2e" stroke-width="4" stroke-linecap="round"/><path d="M-3.8,22 L-11.7,28.1" stroke="#2e2e2e" stroke-width="3.3" stroke-linecap="round"/><path d="M56.2,22 L48.3,28.1" stroke="#2e2e2e" stroke-width="3.3" stroke-linecap="round"/><path d="M38.6,18.9 L36.4,26.9" stroke="#2e2e2e" stroke-width="2.2" stroke-linecap="round"/><path d="M42.6,-2.1 L34.1,1.3" stroke="#2e2e2e" stroke-width="2.9" stroke-linecap="round"/><path d="M42.6,57.9 L34.1,61.3" stroke="#2e2e2e" stroke-width="2.9" stroke-linecap="round"/><path d="M43.2,30 L45,39.7" stroke="#2e2e2e" stroke-width="2.2" stroke-linecap="round"/><path d="M46.2,-1.7 L43.9,5.3" stroke="#2e2e2e" stroke-width="2.5" stroke-linecap="round"/><path d="M46.2,58.3 L43.9,65.3" stroke="#2e2e2e" stroke-width="2.5" stroke-linecap="round"/><path d="M43.7,24.9 L40.1,34.7" stroke="#2e2e2e" stroke-width="2.6" stroke-linecap="round"/><path d="M2.1,15.8 L-0.8,20.4" stroke="#2e2e2e" stroke-width="2.4" stroke-linecap="round"/><path d="M62.1,15.8 L59.2,20.4" stroke="#2e2e2e" stroke-width="2.4" stroke-linecap="round"/><path d="M-6.6,34.6 L-4.7,44.6" stroke="#2e2e2e" stroke-width="2.7" stroke-linecap="round"/><path d="M53.4,34.6 L55.3,44.6" stroke="#2e2e2e" stroke-width="2.7" stroke-linecap="round"/><path d="M38.9,7.2 L41,16.6" stroke="#2e2e2e" stroke-width="4" stroke-linecap="round"/><path d="M53.6,20.1 L52,26.1" stroke="#2e2e2e" stroke-width="2.3" stroke-linecap="round"/><path d="M33.8,48.2 L25.8,52.3" stroke="#2e2e2e" stroke-width="4.1" stroke-linecap="round"/><path d="M16.2,7.2 L17.1,13.1" stroke="#2e2e2e" stroke-width="2.5" stroke-linecap="round"/><path d="M24.8,34.4 L24.9,40.6" stroke="#2e2e2e" stroke-width="3.8" stroke-linecap="round"/><path d="M-3.1,26.7 L1,27.6" stroke="#2e2e2e" stroke-width="3.9" stroke-linecap="round"/><path d="M56.9,26.7 L61,27.6" stroke="#2e2e2e" stroke-width="3.9" stroke-linecap="round"/><path d="M3.2,39.5 L1.8,45.5" stroke="#2e2e2e" stroke-width="3.7" stroke-linecap="round"/><path d="M63.2,39.5 L61.8,45.5" stroke="#2e2e2e" stroke-width="3.7" stroke-linecap="round"/><path d="M0.9,6.1 L1.4,10.2" stroke="#2e2e2e" stroke-width="3.8" stroke-linecap="round"/><path d="M60.9,6.1 L61.4,10.2" stroke="#2e2e2e" stroke-width="3.8" stroke-linecap="round"/><path d="M10.1,7.8 L18.4,9.1" stroke="#2e2e2e" stroke-width="3" stroke-linecap="round"/><path d="M42.2,36.3 L33.4,42.3" stroke="#2e2e2e" stroke-width="3.5" stroke-linecap="round"/><path d="M10.2,27.4 L13.7,29.6" stroke="#2e2e2e" stroke-width="3" stroke-linecap="round"/><path d="M40.7,8.3 L45,13.2" stroke="#2e2e2e" stroke-width="3.5" stroke-linecap="round"/><path d="M33.7,34.5 L28.8,39.2" stroke="#2e2e2e" stroke-width="3.7" stroke-linecap="round"/><path d="M-1.2,4.3 L-10.1,6.2" stroke="#2e2e2e" stroke-width="2.3" stroke-linecap="round"/><path d="M-1.2,64.3 L-10.1,66.2" stroke="#2e2e2e" stroke-width="2.3" stroke-linecap="round"/><path d="M58.8,4.3 L49.9,6.2" stroke="#2e2e2e" stroke-width="2.3" stroke-linecap="round"/><path d="M58.8,64.3 L49.9,66.2" stroke="#2e2e2e" stroke-width="2.3" stroke-linecap="round"/><path d="M30.4,36.6 L24,38.5" stroke="#2e2e2e" stroke-width="3.3" stroke-linecap="round"/><path d="M-3.7,47.2 L-10.8,48.4" stroke="#2e2e2e" stroke-width="3.4" stroke-linecap="round"/><path d="M56.3,47.2 L49.2,48.4" stroke="#2e2e2e" stroke-width="3.4" stroke-linecap="round"/><path d="M15.9,41 L8.7,45.6" stroke="#2e2e2e" stroke-width="3.6" stroke-linecap="round"/><path d="M18.2,-6.3 L7.4,-5.7" stroke="#2e2e2e" stroke-width="3.2" stroke-linecap="round"/><path d="M18.2,53.7 L7.4,54.3" stroke="#2e2e2e" stroke-width="3.2" stroke-linecap="round"/><path d="M52.2,17.8 L42.7,20.6" stroke="#2e2e2e" stroke-width="2.8" stroke-linecap="round"/><path d="M5.7,21.8 L4.2,31.1" stroke="#2e2e2e" stroke-width="3.1" stroke-linecap="round"/><path d="M65.7,21.8 L64.2,31.1" stroke="#2e2e2e" stroke-width="3.1" stroke-linecap="round"/><path d="M-3,47.6 L6.4,49.5" stroke="#2e2e2e" stroke-width="2.4" stroke-linecap="round"/><path d="M57,47.6 L66.4,49.5" stroke="#2e2e2e" stroke-width="2.4" stroke-linecap="round"/><path d="M17.8,46.2 L22.4,48.4" stroke="#2e2e2e" stroke-width="3.1" stroke-linecap="round"/><path d="M46.4,-14 L40.4,-5.2" stroke="#2e2e2e" stroke-width="3.1" stroke-linecap="round"/><path d="M46.4,46 L40.4,54.8" stroke="#2e2e2e" stroke-width="3.1" stroke-linecap="round"/></pattern>
<pattern id="hat7" width="60" height="60" patternUnits="userSpaceOnUse"><rect width="60" height="60" fill="#fdfdfd"/><path d="M29.7,37.3 L27.2,41.6" stroke="#323232" stroke-width="1.8" stroke-linecap="round"/><path d="M26.1,14 L18.8,18.9" stroke="#323232" stroke-width="3" stroke-linecap="round"/><path d="M30.3,38.1 L36.7,41.2" stroke="#323232" stroke-width="2.1" stroke-linecap="round"/><path d="M56.3,2.3 L52.5,4.7" stroke="#323232" stroke-width="3.2" stroke-linecap="round"/><path d="M56.3,62.3 L52.5,64.7" stroke="#323232" stroke-width="3.2" stroke-linecap="round"/><path d="M22,23.3 L18.4,25.3" stroke="#323232" stroke-width="1.9" stroke-linecap="round"/><path d="M-10.3,29 L0.1,32.1" stroke="#323232" stroke-width="3.7" stroke-linecap="round"/><path d="M49.7,29 L60.1,32.1" stroke="#323232" stroke-width="3.7" stroke-linecap="round"/><path d="M3.9,24.1 L9.6,26.7" stroke="#323232" stroke-width="3" stroke-linecap="round"/><path d="M7.2,41.4 L12.4,42.2" stroke="#323232" stroke-width="3.4" stroke-linecap="round"/><path d="M25.1,21.6 L22.9,28.6" stroke="#323232" stroke-width="2.6" stroke-linecap="round"/><path d="M7.2,43 L-3.6,44.1" stroke="#323232" stroke-width="3.1" stroke-linecap="round"/><path d="M67.2,43 L56.4,44.1" stroke="#323232" stroke-width="3.1" stroke-linecap="round"/><path d="M23.8,18.2 L18.9,25.4" stroke="#323232" stroke-width="2" stroke-linecap="round"/><path d="M14.3,17 L13.9,26.6" stroke="#323232" stroke-width="2.8" stroke-linecap="round"/><path d="M0.9,45.6 L2.5,53.1" stroke="#323232" stroke-width="2.2" stroke-linecap="round"/><path d="M60.9,45.6 L62.5,53.1" stroke="#323232" stroke-width="2.2" stroke-linecap="round"/><path d="M27.4,21.7 L23.9,24.8" stroke="#323232" stroke-width="2.9" stroke-linecap="round"/><path d="M7.7,41.4 L13.6,42.1" stroke="#323232" stroke-width="2.5" stroke-linecap="round"/><path d="M37.9,0.4 L38.6,5.8" stroke="#323232" stroke-width="2.4" stroke-linecap="round"/><path d="M37.9,60.4 L38.6,65.8" stroke="#323232" stroke-width="2.4" stroke-linecap="round"/><path d="M28.3,-7.8 L28.9,2.9" stroke="#323232" stroke-width="2.1" stroke-linecap="round"/><path d="M28.3,52.2 L28.9,62.9" stroke="#323232" stroke-width="2.1" stroke-linecap="round"/><path d="M-8.4,19.3 L-0.7,24.4" stroke="#323232" stroke-width="3.6" stroke-linecap="round"/><path d="M51.6,19.3 L59.3,24.4" stroke="#323232" stroke-width="3.6" stroke-linecap="round"/><path d="M2.8,14 L-2,18.2" stroke="#323232" stroke-width="2.3" stroke-linecap="round"/><path d="M62.8,14 L58,18.2" stroke="#323232" stroke-width="2.3" stroke-linecap="round"/><path d="M2.5,-2.7 L-1.5,7.5" stroke="#323232" stroke-width="3.8" stroke-linecap="round"/><path d="M2.5,57.3 L-1.5,67.5" stroke="#323232" stroke-width="3.8" stroke-linecap="round"/><path d="M62.5,-2.7 L58.5,7.5" stroke="#323232" stroke-width="3.8" stroke-linecap="round"/><path d="M62.5,57.3 L58.5,67.5" stroke="#323232" stroke-width="3.8" stroke-linecap="round"/><path d="M27.7,-2.6 L32.7,5.5" stroke="#323232" stroke-width="3.5" stroke-linecap="round"/><path d="M27.7,57.4 L32.7,65.5" stroke="#323232" stroke-width="3.5" stroke-linecap="round"/><path d="M38.7,10.1 L38.1,17.4" stroke="#323232" stroke-width="3.1" stroke-linecap="round"/><path d="M18.2,-4 L13.3,-2.4" stroke="#323232" stroke-width="2.4" stroke-linecap="round"/><path d="M18.2,56 L13.3,57.6" stroke="#323232" stroke-width="2.4" stroke-linecap="round"/><path d="M56.1,16 L48.6,17.4" stroke="#323232" stroke-width="3.2" stroke-linecap="round"/><path d="M40.5,10.6 L44.1,15.1" stroke="#323232" stroke-width="3.2" stroke-linecap="round"/><path d="M44.9,6.7 L38.4,9.1" stroke="#323232" stroke-width="2.3" stroke-linecap="round"/><path d="M26.9,-5.3 L25.3,2.9" stroke="#323232" stroke-width="3.6" stroke-linecap="round"/><path d="M26.9,54.7 L25.3,62.9" stroke="#323232" stroke-width="3.6" stroke-linecap="round"/><path d="M-3.3,41.7 L-1.2,49.6" stroke="#323232" stroke-width="3.6" stroke-linecap="round"/><path d="M56.7,41.7 L58.8,49.6" stroke="#323232" stroke-width="3.6" stroke-linecap="round"/><path d="M45.8,31.9 L48.9,37.7" stroke="#323232" stroke-width="3.3" stroke-linecap="round"/><path d="M37,-3.1 L30.6,5.1" stroke="#323232" stroke-width="3.4" stroke-linecap="round"/><path d="M37,56.9 L30.6,65.1" stroke="#323232" stroke-width="3.4" stroke-linecap="round"/><path d="M-5.6,-10.1 L-6.7,-0.6" stroke="#323232" stroke-width="2.6" stroke-linecap="round"/><path d="M-5.6,49.9 L-6.7,59.4" stroke="#323232" stroke-width="2.6" stroke-linecap="round"/><path d="M54.4,-10.1 L53.3,-0.6" stroke="#323232" stroke-width="2.6" stroke-linecap="round"/><path d="M54.4,49.9 L53.3,59.4" stroke="#323232" stroke-width="2.6" stroke-linecap="round"/><path d="M3,16.8 L8.8,25.6" stroke="#323232" stroke-width="3.2" stroke-linecap="round"/><path d="M63,16.8 L68.8,25.6" stroke="#323232" stroke-width="3.2" stroke-linecap="round"/><path d="M28.9,35.8 L36.1,38.8" stroke="#323232" stroke-width="3.2" stroke-linecap="round"/><path d="M22.7,11.7 L24.6,17.7" stroke="#323232" stroke-width="3.2" stroke-linecap="round"/><path d="M6,1.7 L11,9.1" stroke="#323232" stroke-width="3.3" stroke-linecap="round"/><path d="M6,61.7 L11,69.1" stroke="#323232" stroke-width="3.3" stroke-linecap="round"/><path d="M66,1.7 L71,9.1" stroke="#323232" stroke-width="3.3" stroke-linecap="round"/><path d="M66,61.7 L71,69.1" stroke="#323232" stroke-width="3.3" stroke-linecap="round"/><path d="M38.7,-5.8 L40.4,-2" stroke="#323232" stroke-width="2.8" stroke-linecap="round"/><path d="M38.7,54.2 L40.4,58" stroke="#323232" stroke-width="2.8" stroke-linecap="round"/><path d="M28.2,8 L25,13.5" stroke="#323232" stroke-width="2.3" stroke-linecap="round"/><path d="M16.4,-3.5 L22.9,-3.3" stroke="#323232" stroke-width="2.4" stroke-linecap="round"/><path d="M16.4,56.5 L22.9,56.7" stroke="#323232" stroke-width="2.4" stroke-linecap="round"/><path d="M8.1,22.6 L16.1,29.3" stroke="#323232" stroke-width="2.8" stroke-linecap="round"/><path d="M41.4,5.6 L42.3,13.8" stroke="#323232" stroke-width="3.5" stroke-linecap="round"/><path d="M19.4,25.4 L10.6,29.7" stroke="#323232" stroke-width="2.3" stroke-linecap="round"/><path d="M30.9,41.6 L33.7,49.8" stroke="#323232" stroke-width="3.1" stroke-linecap="round"/><path d="M0.1,30.5 L-3.4,36" stroke="#323232" stroke-width="3.3" stroke-linecap="round"/><path d="M60.1,30.5 L56.6,36" stroke="#323232" stroke-width="3.3" stroke-linecap="round"/><path d="M18,27.2 L20.6,32.8" stroke="#323232" stroke-width="2.1" stroke-linecap="round"/><path d="M12,31.1 L15.1,34.2" stroke="#323232" stroke-width="3.4" stroke-linecap="round"/><path d="M18.2,-7 L16.1,-0.6" stroke="#323232" stroke-width="3.5" stroke-linecap="round"/><path d="M18.2,53 L16.1,59.4" stroke="#323232" stroke-width="3.5" stroke-linecap="round"/><path d="M-10.1,17.6 L-2.3,20.9" stroke="#323232" stroke-width="3.5" stroke-linecap="round"/><path d="M49.9,17.6 L57.7,20.9" stroke="#323232" stroke-width="3.5" stroke-linecap="round"/><path d="M35.4,43.1 L37.6,51.1" stroke="#323232" stroke-width="2.3" stroke-linecap="round"/><path d="M23.2,19.6 L25.6,26" stroke="#323232" stroke-width="3.4" stroke-linecap="round"/><path d="M6.4,8.4 L14,16.2" stroke="#323232" stroke-width="2.8" stroke-linecap="round"/><path d="M66.4,8.4 L74,16.2" stroke="#323232" stroke-width="2.8" stroke-linecap="round"/><path d="M7.7,48.2 L-1.3,52" stroke="#323232" stroke-width="2.5" stroke-linecap="round"/><path d="M67.7,48.2 L58.7,52" stroke="#323232" stroke-width="2.5" stroke-linecap="round"/><path d="M39.5,16.2 L48.6,20.4" stroke="#323232" stroke-width="3.5" stroke-linecap="round"/><path d="M9.6,52.6 L15.7,53" stroke="#323232" stroke-width="1.8" stroke-linecap="round"/><path d="M12.2,7.4 L8.4,12.2" stroke="#323232" stroke-width="2.2" stroke-linecap="round"/><path d="M14.8,17 L7.3,20.4" stroke="#323232" stroke-width="2" stroke-linecap="round"/><path d="M40.5,28.4 L41.7,36" stroke="#323232" stroke-width="3.1" stroke-linecap="round"/><path d="M49.5,27 L46.5,33.6" stroke="#323232" stroke-width="3.1" stroke-linecap="round"/><path d="M23.5,20.4 L23.1,29.4" stroke="#323232" stroke-width="2.4" stroke-linecap="round"/><path d="M-0.5,27.6 L-8.5,31.4" stroke="#323232" stroke-width="3.7" stroke-linecap="round"/><path d="M59.5,27.6 L51.5,31.4" stroke="#323232" stroke-width="3.7" stroke-linecap="round"/><path d="M39.7,21.7 L42.1,29.6" stroke="#323232" stroke-width="3.3" stroke-linecap="round"/><path d="M48,7.3 L52.7,8.2" stroke="#323232" stroke-width="2" stroke-linecap="round"/><path d="M1.7,-1.2 L5.1,2.2" stroke="#323232" stroke-width="3.2" stroke-linecap="round"/><path d="M1.7,58.8 L5.1,62.2" stroke="#323232" stroke-width="3.2" stroke-linecap="round"/><path d="M61.7,-1.2 L65.1,2.2" stroke="#323232" stroke-width="3.2" stroke-linecap="round"/><path d="M61.7,58.8 L65.1,62.2" stroke="#323232" stroke-width="3.2" stroke-linecap="round"/><path d="M41.5,-2.6 L32.4,-1.5" stroke="#323232" stroke-width="3.7" stroke-linecap="round"/><path d="M41.5,57.4 L32.4,58.5" stroke="#323232" stroke-width="3.7" stroke-linecap="round"/><path d="M5.2,12.8 L-1.9,14.5" stroke="#323232" stroke-width="2.2" stroke-linecap="round"/><path d="M65.2,12.8 L58.1,14.5" stroke="#323232" stroke-width="2.2" stroke-linecap="round"/><path d="M45.8,22.3 L45,28.5" stroke="#323232" stroke-width="2.3" stroke-linecap="round"/><path d="M10.6,35.6 L-0.2,37.2" stroke="#323232" stroke-width="3.3" stroke-linecap="round"/><path d="M70.6,35.6 L59.8,37.2" stroke="#323232" stroke-width="3.3" stroke-linecap="round"/><path d="M-7.1,17.5 L-0.9,25.9" stroke="#323232" stroke-width="3" stroke-linecap="round"/><path d="M52.9,17.5 L59.1,25.9" stroke="#323232" stroke-width="3" stroke-linecap="round"/><path d="M37.4,-1.7 L42.9,3.2" stroke="#323232" stroke-width="3.3" stroke-linecap="round"/><path d="M37.4,58.3 L42.9,63.2" stroke="#323232" stroke-width="3.3" stroke-linecap="round"/><path d="M47.9,42.5 L51.2,48.4" stroke="#323232" stroke-width="3.5" stroke-linecap="round"/><path d="M-4.1,26.7 L2.8,31.5" stroke="#323232" stroke-width="2.9" stroke-linecap="round"/><path d="M55.9,26.7 L62.8,31.5" stroke="#323232" stroke-width="2.9" stroke-linecap="round"/><path d="M20.2,10 L23.2,17.7" stroke="#323232" stroke-width="2.1" stroke-linecap="round"/><path d="M34.5,-4.9 L30.5,-0.8" stroke="#323232" stroke-width="2.6" stroke-linecap="round"/><path d="M34.5,55.1 L30.5,59.2" stroke="#323232" stroke-width="2.6" stroke-linecap="round"/></pattern>
</defs>
<rect width="1340" height="1344" fill="#ffffff"/>
<g filter="url(#soft)">
<g id="arrows">
<path d="M333,141 Q425,92 501.8,61.7" fill="none" stroke="#454545" stroke-width="5.2" stroke-linecap="round"/><path d="M520,54.5 L502.4,76.5 L500.9,62 L492.1,50.5 Z" fill="#454545" stroke="#454545" stroke-width="1.5" stroke-linejoin="round"/>
<path d="M909,91 Q1075,160 1146.8,277.3" fill="none" stroke="#454545" stroke-width="5.2" stroke-linecap="round"/><path d="M1157,294 L1132.3,280.4 L1146.3,276.5 L1156.2,265.8 Z" fill="#454545" stroke="#454545" stroke-width="1.5" stroke-linejoin="round"/>
<path d="M1255,514 Q1288,650 1261.1,761.9" fill="none" stroke="#454545" stroke-width="5.2" stroke-linecap="round"/><path d="M1256.5,781 L1248.6,753.9 L1261.3,761.1 L1275.8,760.5 Z" fill="#454545" stroke="#454545" stroke-width="1.5" stroke-linejoin="round"/>
<path d="M1096,1072 Q1025,1135 957.6,1172.9" fill="none" stroke="#454545" stroke-width="5.2" stroke-linecap="round"/><path d="M940.5,1182.5 L955,1158.3 L958.4,1172.5 L968.7,1182.7 Z" fill="#454545" stroke="#454545" stroke-width="1.5" stroke-linejoin="round"/>
<path d="M406,1183 Q305,1130 250.4,1075.4" fill="none" stroke="#454545" stroke-width="5.2" stroke-linecap="round"/><path d="M236.5,1061.5 L263.7,1068.9 L251,1076 L243.9,1088.7 Z" fill="#454545" stroke="#454545" stroke-width="1.5" stroke-linejoin="round"/>
<path d="M70,580 Q84,470 120.9,394.6" fill="none" stroke="#454545" stroke-width="5.2" stroke-linecap="round"/><path d="M129.5,377 L131.3,405.2 L120.5,395.4 L106.2,392.9 Z" fill="#454545" stroke="#454545" stroke-width="1.5" stroke-linejoin="round"/>
<path d="M688.8,212 Q688.8,190 688.8,157.2" fill="none" stroke="#454545" stroke-width="5.5" stroke-linecap="round"/><path d="M688.8,138 L702.8,162 L688.8,158 L674.8,162 Z" fill="#454545" stroke="#454545" stroke-width="1.5" stroke-linejoin="round"/>
<path d="M272,847 Q245,828 229,816.8" fill="none" stroke="#454545" stroke-width="5.2" stroke-linecap="round"/><path d="M213,805.5 L241.1,808.1 L229.8,817.3 L225,831 Z" fill="#454545" stroke="#454545" stroke-width="1.5" stroke-linejoin="round"/>
<path d="M268,884 Q252,925 240.2,952.5" fill="none" stroke="#454545" stroke-width="5.2" stroke-linecap="round"/><path d="M232.5,970.5 L229.3,942.5 L240.6,951.7 L255,953.5 Z" fill="#454545" stroke="#454545" stroke-width="1.5" stroke-linejoin="round"/>
</g>
<g id="frags"><g transform="translate(70,130) scale(0.223881)"><path d="M82,790 C80,725 120,685 190,680 C262,682 300,730 298,795 C296,860 250,905 185,903 C120,900 84,855 82,790Z" fill="#323232"/><path d="M378,600 C370,545 388,495 416,450 C432,385 490,297 562,272 C630,255 698,292 714,356 C724,410 696,460 670,505 C650,548 642,592 602,618 C560,582 450,570 378,600Z" fill="#323232"/><path d="M381,585 L376,688 M594,600 L585,688" stroke="#323232" stroke-width="19" stroke-linecap="round" fill="none"/><path d="M800,245 C798,200 850,130 920,103 C962,88 1012,93 1034,120 C1064,158 1074,222 1056,270 C1034,304 962,332 892,352 C860,342 806,292 800,245Z" fill="#323232"/><path d="M625,752 C652,740 682,700 684,652 L702,648 C742,680 782,682 812,660 C862,640 922,620 957,598 L966,640 C976,672 992,690 1022,700 C992,722 972,760 962,792 C932,812 892,832 850,842 C800,832 760,832 720,812 C690,792 660,772 625,752Z" fill="#323232"/><path d="M338,922 C338,860 400,830 470,820 L584,802 L578,816 C582,862 592,940 614,996 L600,1002 C540,1012 470,1022 420,1016 C368,1002 338,972 338,922Z" fill="#323232"/><path d="M808,1062 C830,990 900,920 970,880 C1000,862 1050,850 1088,853 L1118,992 C1080,1012 1022,1042 992,1082 C962,1112 920,1122 890,1112 C860,1096 830,1082 808,1062Z" fill="#323232"/><path d="M1085,857 C1110,836 1150,828 1188,832 M1112,992 C1150,986 1190,976 1213,976 M812,1060 C780,1080 762,1100 756,1120 M892,1106 C886,1150 872,1176 848,1188" stroke="#323232" stroke-width="19" stroke-linecap="round" fill="none"/></g><g transform="translate(240,130) scale(0.223881)"><path d="M88,500 C84,450 140,390 210,353 L300,316 C380,293 460,253 530,238 C580,223 620,230 650,213 C700,183 760,178 802,184 L832,357 C812,402 770,427 720,432 C680,442 620,457 570,464 C500,472 400,502 290,532 C240,552 170,572 130,557 C100,547 90,527 88,500Z" fill="#323232"/><path d="M797,188 L853,168 M827,376 L883,353" stroke="#323232" stroke-width="19" stroke-linecap="round" fill="none"/><path d="M222,396 L308,340 C338,382 362,430 376,486 L290,516 C274,468 254,430 222,396Z" fill="#fff"/><path d="M982,262 C988,226 1020,206 1060,206 L1150,206 C1188,208 1203,240 1203,290 L1198,372 C1192,412 1160,431 1120,431 L1040,428 C1000,422 980,392 978,340Z" fill="#323232"/><path d="M482,690 C482,640 530,585 597,578 C660,588 712,640 712,690 C708,745 650,800 590,808 C535,790 484,745 482,690Z" fill="#323232"/></g><g filter="url(#rough2)"><g transform="translate(70,130) scale(0.223881)"><path d="M420,505 L450,478 L548,552 L524,568 L428,562Z" fill="#fff" stroke="#fff" stroke-width="6" stroke-linejoin="round"/><path d="M445,515 L470,530 M455,545 L480,540 M490,535 L500,552 M440,535 L448,550" stroke="#323232" stroke-width="7" stroke-linecap="round" fill="none"/><path d="M160,822 L172,812" fill="#fff" stroke="#fff" stroke-width="9" stroke-linecap="round" stroke-linejoin="round"/><path d="M186,790 L196,782" fill="#fff" stroke="#fff" stroke-width="9" stroke-linecap="round" stroke-linejoin="round"/><path d="M206,762 L212,748" fill="#fff" stroke="#fff" stroke-width="8" stroke-linecap="round" stroke-linejoin="round"/><path d="M178,876 L192,876" fill="#fff" stroke="#fff" stroke-width="8" stroke-linecap="round" stroke-linejoin="round"/><path d="M540,432 L552,425" fill="#fff" stroke="#fff" stroke-width="8" stroke-linecap="round" stroke-linejoin="round"/><path d="M578,384 L590,376" fill="#fff" stroke="#fff" stroke-width="8" stroke-linecap="round" stroke-linejoin="round"/><path d="M640,322 L650,312" fill="#fff" stroke="#fff" stroke-width="10" stroke-linecap="round" stroke-linejoin="round"/><path d="M878,282 L900,262 L912,270" fill="#fff" stroke="#fff" stroke-width="16" stroke-linecap="round" stroke-linejoin="round"/><path d="M920,238 L950,218 L965,240" fill="#fff" stroke="#fff" stroke-width="18" stroke-linecap="round" stroke-linejoin="round"/><path d="M975,170 L1000,200 L1035,185 L1010,225 L990,245" fill="#fff" stroke="#fff" stroke-width="20" stroke-linecap="round" stroke-linejoin="round"/><path d="M980,150 L990,170" fill="#fff" stroke="#fff" stroke-width="12" stroke-linecap="round" stroke-linejoin="round"/><path d="M715,742 L745,748 L760,772" fill="#fff" stroke="#fff" stroke-width="16" stroke-linecap="round" stroke-linejoin="round"/><path d="M822,760 L845,770 L848,802" fill="#fff" stroke="#fff" stroke-width="13" stroke-linecap="round" stroke-linejoin="round"/><path d="M905,712 L945,700 L948,722" fill="#fff" stroke="#fff" stroke-width="16" stroke-linecap="round" stroke-linejoin="round"/><path d="M935,660 L955,650" fill="#fff" stroke="#fff" stroke-width="8" stroke-linecap="round" stroke-linejoin="round"/><path d="M500,912 L540,900 L565,935 L530,948" fill="#fff" stroke="#fff" stroke-width="20" stroke-linecap="round" stroke-linejoin="round"/><path d="M535,850 L560,870 L570,905" fill="#fff" stroke="#fff" stroke-width="12" stroke-linecap="round" stroke-linejoin="round"/><path d="M420,940 L430,942" fill="#fff" stroke="#fff" stroke-width="9" stroke-linecap="round" stroke-linejoin="round"/><path d="M862,1045 L900,1050 L880,1062" fill="#fff" stroke="#fff" stroke-width="13" stroke-linecap="round" stroke-linejoin="round"/><path d="M915,1003 L935,995" fill="#fff" stroke="#fff" stroke-width="10" stroke-linecap="round" stroke-linejoin="round"/><path d="M960,965 L1000,975" fill="#fff" stroke="#fff" stroke-width="12" stroke-linecap="round" stroke-linejoin="round"/><path d="M1035,935 L1080,948 L1060,960" fill="#fff" stroke="#fff" stroke-width="14" stroke-linecap="round" stroke-linejoin="round"/><path d="M880,985 L892,975" fill="#fff" stroke="#fff" stroke-width="7" stroke-linecap="round" stroke-linejoin="round"/><path d="M1020,918 L1035,912" fill="#fff" stroke="#fff" stroke-width="7" stroke-linecap="round" stroke-linejoin="round"/></g><g transform="translate(240,130) scale(0.223881)"><path d="M150,492 L190,478 L235,462 L238,492" fill="#fff" stroke="#fff" stroke-width="16" stroke-linecap="round" stroke-linejoin="round"/><path d="M205,448 L225,440" fill="#fff" stroke="#fff" stroke-width="8" stroke-linecap="round" stroke-linejoin="round"/><path d="M392,398 L430,385 L485,372 L470,395 L400,420" fill="#fff" stroke="#fff" stroke-width="20" stroke-linecap="round" stroke-linejoin="round"/><path d="M522,352 L560,345 L600,375 L560,378" fill="#fff" stroke="#fff" stroke-width="20" stroke-linecap="round" stroke-linejoin="round"/><path d="M645,330 L680,322 L685,352 L650,355" fill="#fff" stroke="#fff" stroke-width="18" stroke-linecap="round" stroke-linejoin="round"/><path d="M722,312 L760,295 L795,290 L790,325 L735,335" fill="#fff" stroke="#fff" stroke-width="22" stroke-linecap="round" stroke-linejoin="round"/><path d="M655,425 L660,425" fill="#fff" stroke="#fff" stroke-width="7" stroke-linecap="round" stroke-linejoin="round"/><path d="M1015,305 L1060,295 L1145,290 L1145,338 L1080,356 L1015,346 L1015,305 L1080,320 L1135,320" fill="#fff" stroke="#fff" stroke-width="26" stroke-linecap="round" stroke-linejoin="round"/><path d="M1020,265 L1025,268" fill="#fff" stroke="#fff" stroke-width="10" stroke-linecap="round" stroke-linejoin="round"/><path d="M1165,268 L1168,270" fill="#fff" stroke="#fff" stroke-width="7" stroke-linecap="round" stroke-linejoin="round"/><path d="M540,735 L580,690 L640,655 L670,650 L660,690 L600,720 L560,735 L610,690" fill="#fff" stroke="#fff" stroke-width="30" stroke-linecap="round" stroke-linejoin="round"/></g></g></g>
<g id="hormogonia"><path d="M538.1,52.9 L541.8,59.5 L544.7,62 L547.6,63.8 L550.4,65.2 L553.2,66.3 L555.9,67.2 L558.6,67.7 L561.3,68.1 L564,68.2 L566.8,68.1 L569.4,67.8 L572,67.3 L574.6,66.9 L577.1,66.7 L579.7,66.3 L582.2,65.9 L584.7,65.3 L587.1,64.6 L589.5,63.9 L591.9,63 L594.4,62.4 L596.9,61.9 L599.5,61.4 L601.9,60.7 L604.2,60 L606.5,59.1 L608.8,58.1 L610.9,57.1 L613.2,56.5 L615.4,55.8 L617.5,54.9 L619.7,53.8 L621.9,52.5 L624,51 L626.1,49.1 L628.2,47.1 L630.2,44.7 L632.1,41.9 L633.9,38.3 L634.8,30.6 L634.8,30.6 L630.8,24 L627.7,21.5 L624.8,19.7 L622,18.4 L619.2,17.3 L616.4,16.6 L613.7,16.1 L611,15.9 L608.4,15.9 L605.7,16.2 L603.1,16.7 L600.5,17.3 L597.9,17.6 L595.3,18 L592.8,18.4 L590.4,19 L588,19.6 L585.8,20.3 L583.5,21.2 L581.2,21.8 L578.8,22.2 L576.4,22.7 L574,23.2 L571.6,23.9 L569.3,24.6 L567.1,25.5 L564.9,26.4 L562.6,27.1 L560.4,27.7 L558.1,28.5 L556,29.4 L553.9,30.5 L551.7,31.8 L549.5,33.4 L547.4,35.1 L545.3,37.1 L543.2,39.4 L541.2,42.1 L539.2,45.5 L538.1,52.9Z" fill="#323232" stroke="#323232" stroke-width="1" stroke-linejoin="round"/><g filter="url(#rough)"><path d="M545.3,56.3 L547.8,57.7 L550.2,58.8 L552.6,59.7 L555,60.4 L557.4,60.9 L559.7,61.2 L562.1,61.4 L564.4,61.3 L558.9,35.6 L557,36.5 L555,37.5 L553.1,38.7 L551.2,40 L549.2,41.5 L547.3,43.2 L545.5,45.1 L543.6,47.3Z" fill="url(#spk2)" stroke="url(#spk2)" stroke-width="4" stroke-linejoin="round"/><path d="M578.3,59.5 L580.5,59.1 L582.6,58.6 L584.6,58.1 L577.3,29.6 L575.3,30.1 L573.3,30.7 L571.3,31.3Z" fill="url(#spk2)" stroke="url(#spk2)" stroke-width="4" stroke-linejoin="round"/><path d="M597.9,54.6 L599.7,54.1 L601.4,53.6 L603.1,53 L595.4,25 L593.6,25.4 L591.9,25.8 L590.2,26.3Z" fill="url(#spk2)" stroke="url(#spk2)" stroke-width="4" stroke-linejoin="round"/><path d="M615.3,48.4 L617.4,47.4 L619.5,46.2 L621.6,44.8 L623.6,43.2 L625.6,41.4 L627.6,39.3 L629.5,36.8 L627.4,27.2 L624.7,25.7 L622,24.6 L619.4,23.8 L616.8,23.2 L614.2,22.9 L611.7,22.7 L609.2,22.8Z" fill="url(#spk2)" stroke="url(#spk2)" stroke-width="4" stroke-linejoin="round"/></g><path d="M704.6,23.1 L706.9,31.4 L709.3,34.8 L711.7,37.4 L714.1,39.5 L716.5,41.2 L718.9,42.6 L721.3,43.8 L723.6,44.7 L725.9,45.5 L728.2,46.4 L730.3,47.3 L732.5,48.1 L734.8,48.8 L737.1,49.2 L739.3,49.4 L741.4,49.6 L743.5,49.7 L745.7,49.8 L747.8,50.5 L750.1,51.1 L752.3,51.7 L754.6,52.3 L756.9,52.7 L759.3,53.1 L761.6,53.4 L764,53.6 L766.4,54 L768.7,54.8 L771.1,55.5 L773.4,56.1 L775.8,56.6 L778.2,57.1 L780.6,57.4 L783,57.7 L785.4,57.9 L787.8,58.5 L790.1,59.3 L792.4,59.9 L794.7,60.5 L797,61 L799.2,61.4 L801.5,61.7 L803.8,62 L806.2,62.3 L808.5,63.1 L810.8,63.9 L813.2,64.6 L815.6,65.2 L818.2,65.8 L820.7,66.2 L823.1,66.5 L825.5,66.8 L827.9,67.2 L830.3,68 L832.7,68.7 L835.1,69.3 L837.7,69.9 L840.2,70.4 L842.8,70.6 L845.5,70.7 L848.2,70.6 L850.9,70.4 L853.6,70.4 L856.2,70.2 L858.9,69.9 L861.6,69.2 L864.3,68.4 L867.1,67.2 L869.9,65.6 L872.8,63.6 L875.8,60.8 L879.8,53.2 L879.8,53.2 L878.9,44.7 L877.1,40.9 L875.1,38 L873.1,35.5 L871,33.4 L868.8,31.6 L866.7,30 L864.5,28.7 L862.3,27.5 L860.1,26.6 L858,25.3 L855.8,24.2 L853.7,23.2 L851.5,22.3 L849.2,21.6 L846.9,21 L844.5,20.5 L842.1,20 L839.7,19.6 L837.3,18.9 L835,17.9 L832.5,17.1 L830.2,16.3 L827.9,15.7 L825.6,15.1 L823.2,14.6 L820.7,14.2 L818.2,13.8 L815.8,12.9 L813.2,12 L810.7,11.2 L808.1,10.5 L805.6,10 L803,9.5 L800.5,9.2 L798,8.9 L795.5,8.5 L793.1,7.8 L790.6,7.1 L788.2,6.5 L785.7,5.9 L783.2,5.5 L780.7,5.2 L778.2,5 L775.6,4.8 L773.2,4.3 L770.7,3.7 L768.2,3.1 L765.7,2.6 L763.1,2.2 L760.5,1.9 L757.9,1.7 L755.2,1.6 L752.4,1.6 L749.7,1 L746.9,0.5 L744.1,0.2 L741.3,-0 L738.7,0 L736.1,0.3 L733.3,0.7 L730.5,1.4 L727.8,2.1 L725.2,2.6 L722.6,3.4 L720.1,4.4 L717.5,5.7 L714.9,7.2 L712.4,9.2 L709.9,11.7 L707.3,15 L704.6,23.1Z" fill="#323232" stroke="#323232" stroke-width="1" stroke-linejoin="round"/><g filter="url(#rough)"><path d="M711.2,29.5 L713.5,31.7 L715.9,33.5 L718.3,35 L720.6,36.2 L721.5,10.9 L718.9,12 L716.4,13.3 L713.9,15 L711.5,17.1Z" fill="url(#spk2)" stroke="url(#spk2)" stroke-width="4" stroke-linejoin="round"/><path d="M733.3,41 L735.1,41.5 L737,41.9 L738.8,42.2 L740.6,42.3 L744.2,7.4 L742,7.2 L739.9,7.1 L737.9,7.2 L735.8,7.4Z" fill="url(#spk2)" stroke="url(#spk2)" stroke-width="4" stroke-linejoin="round"/><path d="M752.9,44.5 L754.7,44.9 L756.6,45.3 L758.4,45.7 L760.3,46 L766.7,10.1 L764.7,9.7 L762.7,9.4 L760.7,9.1 L758.6,8.9Z" fill="url(#spk2)" stroke="url(#spk2)" stroke-width="4" stroke-linejoin="round"/><path d="M773.3,48.6 L775.2,49.1 L777.1,49.5 L779,49.9 L780.9,50.2 L788.1,13.9 L786.2,13.4 L784.2,13 L782.3,12.7 L780.3,12.4Z" fill="url(#spk2)" stroke="url(#spk2)" stroke-width="4" stroke-linejoin="round"/><path d="M793.9,52.9 L795.8,53.4 L797.6,53.8 L799.4,54.1 L801.3,54.4 L809.6,18.4 L807.6,17.8 L805.6,17.3 L803.6,16.9 L801.6,16.6Z" fill="url(#spk2)" stroke="url(#spk2)" stroke-width="4" stroke-linejoin="round"/><path d="M814.1,57.4 L816,57.9 L818,58.4 L820,58.8 L822,59.1 L830.5,23.9 L828.6,23.4 L826.8,22.8 L824.9,22.3 L823,21.9Z" fill="url(#spk2)" stroke="url(#spk2)" stroke-width="4" stroke-linejoin="round"/><path d="M835.1,61.9 L837.5,62.5 L839.9,63 L842.4,63.4 L844.9,63.6 L852.5,30.4 L850.3,29.5 L848.1,28.8 L845.8,28.2 L843.5,27.6Z" fill="url(#spk2)" stroke="url(#spk2)" stroke-width="4" stroke-linejoin="round"/><path d="M859.3,63 L861.8,62.5 L864.3,61.8 L866.8,60.8 L869.4,59.6 L872.1,58 L874.4,45.9 L872.5,43.5 L870.6,41.4 L868.6,39.6 L866.6,38 L864.5,36.6Z" fill="url(#spk2)" stroke="url(#spk2)" stroke-width="4" stroke-linejoin="round"/></g><path d="M607.9,113.1 L611.7,119.7 L614.7,122.1 L617.5,123.9 L620.2,125.3 L622.9,126.3 L625.5,127.2 L628,127.8 L630.4,128.3 L632.9,128.6 L635.2,128.8 L637.5,129 L639.8,129.4 L642,129.7 L644.4,129.8 L646.6,129.7 L648.9,129.4 L651.3,129 L653.6,128.7 L656.1,128.8 L658.5,128.9 L660.9,128.9 L663.4,128.8 L665.8,128.6 L668.2,128.2 L670.7,127.7 L673.2,127.7 L675.7,127.8 L678.2,127.7 L680.7,127.6 L683.1,127.3 L685.5,126.9 L687.9,126.4 L690.3,126.1 L692.8,126.1 L695.3,126.1 L697.7,125.9 L700.1,125.6 L702.6,125.1 L705,124.6 L707.5,124.2 L709.9,124.1 L712.4,124 L714.9,123.7 L717.3,123.2 L719.7,122.5 L722.1,121.5 L724.5,120.4 L726.9,119.6 L729.3,118.6 L731.7,117.4 L734,116 L736.3,114.2 L738.6,112.2 L740.9,109.7 L743.1,106.4 L744.9,98.9 L744.9,98.9 L741.9,91.7 L739.2,88.9 L736.5,86.8 L733.9,85.1 L731.3,83.8 L728.8,82.8 L726.2,82 L723.7,81.4 L721.2,81 L718.7,80.3 L716.2,79.7 L713.7,79.4 L711.2,79.3 L708.8,79.4 L706.3,79.7 L703.9,80.1 L701.4,80 L699,79.9 L696.5,79.9 L694,79.9 L691.6,80.1 L689.1,80.5 L686.7,80.9 L684.2,81.1 L681.7,81 L679.2,80.9 L676.7,81.1 L674.3,81.3 L671.9,81.7 L669.5,82.1 L667.1,82.5 L664.6,82.5 L662.1,82.5 L659.7,82.6 L657.2,82.9 L654.7,83.3 L652.2,83.8 L649.8,84.4 L647.2,84.5 L644.7,84.6 L642.1,84.8 L639.4,85.2 L636.9,85.8 L634.2,86.7 L631.6,87.8 L629.1,88.7 L626.6,89.6 L624.2,90.7 L621.7,92 L619.4,93.5 L617.1,95.3 L614.9,97.3 L612.8,99.6 L610.8,102.3 L609,105.6 L607.9,113.1Z" fill="#323232" stroke="#323232" stroke-width="1" stroke-linejoin="round"/><g filter="url(#rough)"><path d="M615.2,116.4 L617.6,117.8 L620,118.8 L622.3,119.7 L624.6,120.4 L626.8,121 L629,121.4 L625,97.8 L623,98.9 L620.9,100.2 L619,101.7 L617.1,103.3 L615.2,105.2 L613.4,107.4Z" fill="url(#spk2)" stroke="url(#spk2)" stroke-width="4" stroke-linejoin="round"/><path d="M642.2,122.8 L644.2,122.8 L646.4,122.7 L643.2,91.7 L640.9,92 L638.6,92.5Z" fill="url(#spk2)" stroke="url(#spk2)" stroke-width="4" stroke-linejoin="round"/><path d="M659.5,122 L661.7,121.9 L663.9,121.7 L661.4,89.5 L659.1,89.7 L656.9,90Z" fill="url(#spk2)" stroke="url(#spk2)" stroke-width="4" stroke-linejoin="round"/><path d="M677.5,120.8 L679.7,120.6 L681.9,120.4 L679.1,87.9 L676.9,88.1 L674.7,88.3Z" fill="url(#spk2)" stroke="url(#spk2)" stroke-width="4" stroke-linejoin="round"/><path d="M695.2,119.1 L697.4,118.9 L699.6,118.6 L697.1,86.8 L694.9,86.9 L692.7,87.1Z" fill="url(#spk2)" stroke="url(#spk2)" stroke-width="4" stroke-linejoin="round"/><path d="M713.1,116.9 L715.3,116.6 L717.4,116.1 L715,86.5 L712.8,86.3 L710.6,86.3Z" fill="url(#spk2)" stroke="url(#spk2)" stroke-width="4" stroke-linejoin="round"/><path d="M730.6,110.7 L732.7,109.5 L734.8,108.1 L736.8,106.4 L738.9,104.4 L738,94.5 L735.7,92.8 L733.4,91.5 L731.1,90.4 L728.8,89.5Z" fill="url(#spk2)" stroke="url(#spk2)" stroke-width="4" stroke-linejoin="round"/></g></g>
<g id="worm4"><path d="M1019.5,351.5 L1022.4,361.1 L1025,365.1 L1027.7,368 L1030.3,370.3 L1032.9,372.2 L1035.5,373.6 L1038.2,374.7 L1040.8,375.5 L1043.5,375.9 L1046,376.3 L1048.7,377.2 L1051.4,377.9 L1054,378.5 L1056.7,378.8 L1059.3,378.8 L1061.9,378.7 L1064.4,378.4 L1066.9,378 L1069.5,377.5 L1072,377 L1074.6,376.8 L1077.1,377.1 L1079.7,377.3 L1082.2,377.4 L1084.7,377.5 L1087.2,377.4 L1089.7,377.3 L1092.2,377 L1094.6,376.7 L1097.1,376.2 L1099.4,375.7 L1101.9,375.3 L1104.3,375.6 L1106.9,375.8 L1109.7,376 L1112.5,376 L1115.1,376 L1117.6,375.9 L1120,375.7 L1122.3,375.4 L1124.6,375.1 L1126.7,374.7 L1128.6,374.3 L1130.4,373.9 L1132.5,374.2 L1134.2,374.7 L1135.8,375.2 L1137.8,375.6 L1140.1,376 L1142.3,376.3 L1144.3,376.6 L1146.6,376.7 L1148.4,376.8 L1150.2,376.9 L1151.9,376.9 L1154,376.9 L1155.5,376.9 L1156.9,377.6 L1158.7,378.5 L1159.8,379.3 L1161.5,380.2 L1162.6,380.8 L1164.2,381.6 L1165.4,382.2 L1167.2,382.9 L1168.7,383.5 L1170.7,384.2 L1172.7,384.9 L1174.5,385.4 L1176.6,386.1 L1178.2,387.4 L1180.1,388.9 L1181.9,390.3 L1183.7,391.6 L1185.7,392.9 L1187.8,394.2 L1189.8,395.4 L1192,396.5 L1194.2,397.5 L1196.3,398.4 L1198.2,399.2 L1200.4,400 L1202.5,401 L1204,402.5 L1205.8,404.2 L1207.4,405.6 L1209.2,407.1 L1210.9,408.5 L1212.8,409.8 L1214.7,410.9 L1216.6,412 L1218.7,413 L1220.8,413.9 L1222.9,414.8 L1224.6,416.4 L1226.1,418.1 L1227.6,419.7 L1229.1,421.2 L1230.6,422.5 L1231.9,423.5 L1233.6,424.5 L1235.3,425.5 L1237,426.4 L1238.8,427.3 L1239.9,429 L1240.9,430.7 L1241.7,432.1 L1242.6,433.4 L1243.7,434.8 L1245.1,436.1 L1246.6,437.5 L1248.4,438.9 L1250.3,440.4 L1251.5,442.5 L1252.6,444.7 L1253.9,447 L1255.6,449.3 L1257.6,451.6 L1259.7,453.6 L1262,455.5 L1264.3,457.2 L1266.2,459 L1267.4,461.2 L1268.5,463 L1269.5,464.4 L1270.5,465.5 L1271.6,466.3 L1273,467.2 L1274.7,468.4 L1275.4,470 L1275.9,471.7 L1276.7,473.4 L1277.8,475.1 L1279.2,476.7 L1280.9,478.4 L1282.6,479.9 L1283.1,481.9 L1283.7,484 L1284.5,485.9 L1285.7,487.7 L1287.2,489.5 L1288.9,491.2 L1289.6,493.4 L1290.6,495.5 L1292.2,497.1 L1294.4,498.5 L1297.3,500.1 L1299.8,501.7 L1302.4,503.4 L1306.2,504.8 L1311.4,505.9 L1323,505 L1323,505 L1333.1,499.4 L1336.9,495.6 L1339.2,492.3 L1340.4,489.2 L1341.4,486 L1342.7,482.8 L1343.4,479.5 L1343.3,476.4 L1342.6,473.8 L1341.6,471.3 L1341.5,468.4 L1341.2,465.5 L1340.5,462.6 L1339.4,459.9 L1338,457.5 L1336.3,454.9 L1335.9,451.9 L1335.4,449.1 L1334.5,446.2 L1333.3,443.5 L1331.8,440.8 L1329.9,438.1 L1328,435.4 L1327,432.4 L1325.6,429.2 L1323.8,425.9 L1321.8,423 L1319.6,420.6 L1317.5,418.6 L1315.4,416.9 L1314.1,414.9 L1313.2,412.8 L1312.3,410.8 L1311.3,409 L1310.2,407.3 L1308.8,405.7 L1307.1,403.9 L1305.3,402.2 L1303.5,400.3 L1302.4,397.8 L1301.1,395.2 L1299.6,392.6 L1297.8,390.1 L1295.7,387.6 L1293.3,385.2 L1290.7,382.9 L1288.2,381 L1285.8,379.2 L1284,376.6 L1282.1,374.1 L1280,371.7 L1277.8,369.5 L1275.3,367.3 L1273,365.5 L1270.5,363.9 L1268,362.5 L1265.5,361.1 L1263.2,359.8 L1261.3,357.7 L1259.3,355.7 L1257.3,353.9 L1255.1,352.1 L1252.9,350.4 L1250.6,349 L1248.2,347.5 L1245.8,346.3 L1243.2,345.1 L1240.7,344 L1238,342.9 L1235.8,341.3 L1233.7,339.6 L1231.3,337.8 L1229.1,336.3 L1226.9,334.8 L1224.7,333.5 L1222.4,332.2 L1220.1,331 L1217.7,329.9 L1215.1,328.9 L1212.6,327.9 L1210,327 L1207.2,326 L1204.8,324.5 L1202.2,322.8 L1199.7,321.4 L1197.1,320 L1194,318.6 L1191.2,317.4 L1187.7,316.2 L1184.6,315.4 L1180.9,314.5 L1177.8,314 L1174.1,313.5 L1171,313.3 L1167.4,313.1 L1164.1,312.3 L1161.2,311.6 L1157.9,310.9 L1154.7,310.4 L1151.6,310.1 L1148.9,309.9 L1145.9,309.9 L1143.1,309.9 L1140.5,310.1 L1137.5,310.4 L1134.1,310.8 L1130.7,311.3 L1127.8,311.8 L1124.7,311.7 L1121.6,311.6 L1118.7,311.7 L1116,311.8 L1113.3,312.1 L1110.7,312.4 L1108.3,312.8 L1105.9,313.3 L1103.7,313.9 L1101.6,314.5 L1099.2,315.2 L1096.6,315.9 L1094.1,315.9 L1091.5,315.9 L1089,315.9 L1086.4,316 L1083.9,316.2 L1081.4,316.5 L1078.9,317 L1076.5,317.5 L1074,318.1 L1071.6,318.8 L1069.2,319.5 L1066.8,319.8 L1064.3,319.8 L1061.9,319.7 L1059.4,319.8 L1057,319.9 L1054.6,320.1 L1052.2,320.6 L1049.9,321.2 L1047.6,322.1 L1045.3,323.2 L1042.9,324.4 L1040.5,325 L1038.2,325.8 L1035.8,326.8 L1033.5,328.1 L1031.1,329.8 L1028.7,331.9 L1026.3,334.4 L1023.9,337.5 L1021.6,341.7 L1019.5,351.5Z" fill="#323232" stroke="#323232" stroke-width="1" stroke-linejoin="round"/><g filter="url(#rough)"><path d="M1033.5,357.9 L1035.3,358.9 L1037.1,359.6 L1035.8,332.1 L1034.1,333.1 L1032.4,334.1Z" fill="url(#spk2)" stroke="url(#spk2)" stroke-width="4" stroke-linejoin="round"/><path d="M1052.6,363.5 L1055,363.8 L1057.4,363.9 L1059.8,363.8 L1062.1,363.6 L1064.4,363.2 L1061.2,324.9 L1058.9,325 L1056.6,325.1 L1054.4,325.4 L1052.2,325.9 L1050,326.5Z" fill="url(#spk2)" stroke="url(#spk2)" stroke-width="4" stroke-linejoin="round"/><path d="M1079.6,362.4 L1081.8,362.5 L1084.1,362.6 L1086.4,362.5 L1088.6,362.3 L1090.8,362.1 L1093,361.8 L1089.2,321.1 L1087,321.2 L1084.7,321.4 L1082.4,321.6 L1080.2,322 L1078,322.4 L1075.8,323Z" fill="url(#spk2)" stroke="url(#spk2)" stroke-width="4" stroke-linejoin="round"/><path d="M1108.1,360.8 L1110.3,360.8 L1112.6,360.8 L1114.9,360.7 L1117.1,360.5 L1119.2,360.2 L1121.3,359.9 L1123.3,359.6 L1119.5,316.9 L1117,317 L1114.6,317.1 L1112.4,317.4 L1110.2,317.7 L1108.1,318.2 L1106.1,318.6 L1104,319.1Z" fill="url(#spk2)" stroke="url(#spk2)" stroke-width="4" stroke-linejoin="round"/><path d="M1136.4,359.3 L1138.6,359.7 L1141,360.1 L1143.3,360.3 L1145.5,360.5 L1147.8,360.7 L1150,360.7 L1152.1,360.7 L1157.3,316.1 L1154.3,315.6 L1151.3,315.3 L1148.6,315.1 L1145.7,315.1 L1143,315.1 L1140.4,315.3 L1137.5,315.6Z" fill="url(#spk2)" stroke="url(#spk2)" stroke-width="4" stroke-linejoin="round"/><path d="M1164.2,363.3 L1166.2,364.2 L1167.8,365 L1169.8,365.9 L1171.5,366.6 L1173.5,367.4 L1175.4,368 L1177.6,368.8 L1197.3,326 L1194.8,324.7 L1191.9,323.3 L1189.1,322.2 L1185.8,321.1 L1182.9,320.3 L1179.4,319.5 L1176.4,319Z" fill="url(#spk2)" stroke="url(#spk2)" stroke-width="4" stroke-linejoin="round"/><path d="M1190,375 L1192,376.4 L1193.9,377.6 L1196,378.9 L1198.1,380 L1200.3,381.1 L1202.6,382.1 L1204.7,383 L1228.4,342.1 L1226.1,340.5 L1224,339.1 L1221.9,337.8 L1219.7,336.6 L1217.4,335.5 L1214.9,334.3 L1212.5,333.4Z" fill="url(#spk2)" stroke="url(#spk2)" stroke-width="4" stroke-linejoin="round"/><path d="M1216.8,390.3 L1218.5,391.7 L1220.2,393 L1221.9,394.2 L1223.8,395.3 L1225.6,396.4 L1227.6,397.4 L1254.8,358.6 L1253,357 L1251,355.5 L1249,354.1 L1246.9,352.7 L1244.8,351.6 L1242.6,350.5Z" fill="url(#spk2)" stroke="url(#spk2)" stroke-width="4" stroke-linejoin="round"/><path d="M1239.2,405.4 L1240.8,406.8 L1242.4,408.1 L1244.1,409.3 L1245.9,410.5 L1247.7,411.5 L1278.4,377.8 L1276.6,375.6 L1274.6,373.6 L1272.5,371.7 L1270.3,370 L1268,368.4Z" fill="url(#spk2)" stroke="url(#spk2)" stroke-width="4" stroke-linejoin="round"/><path d="M1254.9,418.1 L1255.9,419.8 L1257,421.4 L1258.2,423.1 L1259.7,424.7 L1261.2,426.3 L1297,398.5 L1295.6,396.1 L1294.2,393.9 L1292.3,391.6 L1290.2,389.4 L1287.9,387.3Z" fill="url(#spk2)" stroke="url(#spk2)" stroke-width="4" stroke-linejoin="round"/><path d="M1267.4,435 L1268.7,437.3 L1270.2,439.4 L1272,441.6 L1274,443.4 L1308.6,414.9 L1307.6,412.9 L1306.7,411.3 L1305.3,409.5 L1303.8,407.8Z" fill="url(#spk2)" stroke="url(#spk2)" stroke-width="4" stroke-linejoin="round"/><path d="M1281,451.9 L1282,453.4 L1283,454.8 L1284,456.1 L1285,457.1 L1321.3,432.1 L1319.8,429.4 L1318.4,427.3 L1316.9,425.3 L1315.3,423.5Z" fill="url(#spk2)" stroke="url(#spk2)" stroke-width="4" stroke-linejoin="round"/><path d="M1290,464.9 L1290.7,466.5 L1291.7,468.1 L1292.8,469.6 L1330.6,451 L1329.9,448.7 L1329.1,446.5 L1327.9,444.3Z" fill="url(#spk2)" stroke="url(#spk2)" stroke-width="4" stroke-linejoin="round"/><path d="M1297.3,478.7 L1297.9,480.6 L1298.7,482.3 L1336.3,467.2 L1335.7,464.8 L1334.9,462.7Z" fill="url(#spk2)" stroke="url(#spk2)" stroke-width="4" stroke-linejoin="round"/><path d="M1303.3,491.7 L1303.9,492.5 L1304.8,493.3 L1338.4,482 L1338.6,480.6 L1338.5,479.1Z" fill="url(#spk2)" stroke="url(#spk2)" stroke-width="4" stroke-linejoin="round"/></g></g>
<g id="worm5"><path d="M1120.9,898.6 L1123,900.8 L1124.6,902.4 L1125.9,903.4 L1126.6,903.5 L1128,903.6 L1129.3,904.1 L1129.7,905.7 L1130.1,906.8 L1130.8,907.6 L1131.9,908.3 L1133.2,908.5 L1133.7,909.4 L1133.7,910.9 L1133.7,911.9 L1134.2,912.6 L1135,913.2 L1136.2,913.6 L1135.8,914.6 L1135.3,915.6 L1135.1,916.5 L1135.4,917.1 L1136.1,917.5 L1136.9,918.2 L1135.8,919 L1135.1,919.6 L1134.7,920.3 L1134.9,921 L1135.6,921.6 L1135.6,922.4 L1134.4,922.8 L1133.5,923.3 L1133.1,923.9 L1133.2,924.8 L1133.5,926 L1132.6,926.8 L1131.3,926.9 L1130.4,927.3 L1129.7,928.1 L1129.5,929.2 L1129.4,930.6 L1127.9,930.7 L1126.4,930.8 L1125.4,931.1 L1124.5,932 L1123.8,933.3 L1123.1,934.4 L1121.5,934.1 L1120,934 L1118.7,934.3 L1117.6,935.2 L1116.6,936.4 L1115.3,937 L1113.7,936.4 L1112.2,936.1 L1110.9,936.4 L1109.7,937.2 L1108.4,938.3 L1106.9,938.1 L1105.3,937.3 L1103.9,936.9 L1102.5,937.1 L1101.1,937.8 L1099.6,938.8 L1098.3,937.7 L1097,936.8 L1095.7,936.3 L1094.1,936.4 L1092.6,937 L1091.1,937.2 L1090,935.9 L1089,934.9 L1087.7,934.4 L1086.3,934.4 L1084.7,934.7 L1083.7,934.3 L1083,932.9 L1082.1,931.9 L1081,931.3 L1079.8,931.3 L1078.1,931.5 L1077.5,930.3 L1077.3,929.1 L1076.7,928.1 L1075.9,927.6 L1074.5,927.4 L1073.2,927.3 L1073.4,926 L1073.5,925 L1073.2,924.3 L1072.4,923.7 L1071.2,923.4 L1070.5,922.9 L1071.2,922.2 L1071.5,921.4 L1071.3,920.8 L1070.6,920.2 L1069.6,919.7 L1069.6,919 L1070.4,918.3 L1070.8,918 L1070.7,917.3 L1070.1,916.5 L1069.2,915.6 L1070,915 L1071,914.5 L1071.4,913.9 L1071.5,913.1 L1071.1,911.9 L1070.9,910.7 L1072.2,910.5 L1073.3,909.9 L1074,909.2 L1074.3,908.2 L1074.5,906.7 L1075.1,905.7 L1076.6,905.5 L1077.8,905.2 L1078.8,904.4 L1079.6,903.1 L1080.3,901.6 L1081.5,901.2 L1083.1,901.3 L1084.5,901 L1085.7,900.2 L1086.8,899.1 L1087.9,897.7 L1089.6,897.9 L1091.2,898.2 L1092.6,898.1 L1094,897.5 L1095.4,896.4 L1096.8,895.6 L1098.6,896.3 L1100.1,896.8 L1101.6,896.8 L1103.2,896.4 L1104.7,895.6 L1106.3,895.6 L1107.7,896.6 L1109.1,897.2 L1110.8,897.4 L1112.4,897.1 L1114,896.6 L1115.4,897.4 L1116.6,898.6 L1117.2,899.2 L1118.9,899.6 L1121.1,899.8 L1124.1,900.1 L1145.8,845.9 L1144.2,844.2 L1141.8,842.5 L1138.8,841.2 L1134.8,840.2 L1131.1,839.9 L1127.7,839.5 L1124.5,837.8 L1121.1,836.7 L1117.9,836.1 L1114.4,836.1 L1110.8,836.6 L1107.4,836.3 L1104,835.4 L1100.5,834.9 L1097,835.1 L1093.6,835.9 L1090.4,837.1 L1086.9,836.9 L1083.3,836.7 L1079.8,837 L1076.4,838 L1073.2,839.5 L1070.1,841.2 L1066.4,841.4 L1062.9,842 L1059.5,843.2 L1056.4,844.9 L1053.5,847.2 L1050.3,849.2 L1046.7,850.2 L1043.3,851.7 L1040.2,853.7 L1037.4,856.4 L1035.1,859.4 L1032,861.8 L1028.7,863.8 L1025.6,866.4 L1023,869.6 L1021.1,872.9 L1019.5,876.8 L1016.7,879.8 L1013.9,883 L1011.7,886.6 L1010.3,890.6 L1009.5,894.8 L1008.8,899 L1006.8,902.9 L1005.3,907 L1004.5,911.3 L1004.6,916 L1005.3,920.3 L1005.6,924.6 L1005,929 L1005.1,933.4 L1006,937.6 L1007.7,941.7 L1010,945.7 L1011.2,949.8 L1012.1,954 L1013.6,957.8 L1015.9,961.3 L1018.8,964.5 L1022,967.2 L1023.8,971 L1025.8,974.5 L1028.4,977.6 L1031.5,980 L1035,982 L1038.3,984 L1040.7,987 L1043.7,989.8 L1046.8,991.9 L1050.3,993.3 L1054,994.2 L1057.5,995.8 L1060.5,998.2 L1063.7,1000 L1067.2,1001.1 L1070.9,1001.6 L1074.6,1001.6 L1078,1003 L1081.3,1004.6 L1084.7,1005.5 L1088.3,1005.8 L1092,1005.4 L1095.6,1004.7 L1099.1,1005.9 L1102.7,1006.6 L1106.3,1006.7 L1109.9,1006.1 L1113.2,1004.9 L1116.7,1004.1 L1120.4,1004.5 L1124,1004.5 L1127.6,1003.7 L1131,1002.3 L1134.2,1000.3 L1137.6,999.4 L1141.4,999 L1144.9,998 L1148.2,996.4 L1151.2,994.1 L1154,991.5 L1157.7,990.1 L1161.2,988.8 L1164.4,986.9 L1167.5,984.2 L1169.9,981.2 L1172.1,978.1 L1175.7,976.1 L1178.9,973.5 L1181.5,970.7 L1183.7,967.2 L1185.4,963.3 L1187.3,959.9 L1190.1,956.8 L1192.5,953.2 L1194.1,949.3 L1195.1,945.2 L1195.5,940.8 L1196.8,936.8 L1198.5,932.6 L1199.5,928.4 L1199.7,924.1 L1199.1,919.7 L1198,915.5 L1198.4,911.2 L1198.4,906.7 L1197.8,902.5 L1196.4,898.4 L1194.3,894.7 L1192.3,891 L1191.4,886.9 L1190,882.9 L1188,879.3 L1185.4,876.2 L1182.5,873.6 L1179.9,870.5 L1178,867 L1175.7,863.9 L1172.8,861.3 L1169.5,859.1 L1166.1,857.5 L1163.4,855 L1160.7,852.2 L1157.1,849.7 L1154.2,848.2 L1151.3,847.5 L1149,847.4Z" fill="#323232" stroke="#323232" stroke-width="1" stroke-linejoin="round"/><g filter="url(#rough)"><path d="M1129.2,891.4 L1130.7,892.8 L1132.2,893.7 L1133.5,894.1 L1158.6,857.2 L1155.6,854.8 L1152.8,853.2 L1150.1,852.2Z" fill="url(#spk5)" stroke="url(#spk5)" stroke-width="3" stroke-linejoin="round"/><path d="M1137.3,897.2 L1138.1,898.6 L1139.2,899.7 L1140.5,900.6 L1174.2,870.4 L1172.2,867.6 L1169.7,865.3 L1166.8,863.4Z" fill="url(#spk5)" stroke="url(#spk5)" stroke-width="3" stroke-linejoin="round"/><path d="M1143.2,904.2 L1143.5,905.8 L1144.1,907 L1145.2,908.1 L1186.5,888.1 L1185.2,884.7 L1183.3,881.5 L1181,878.8Z" fill="url(#spk5)" stroke="url(#spk5)" stroke-width="3" stroke-linejoin="round"/><path d="M1146.4,911.9 L1146.3,913.4 L1146.4,914.6 L1147,915.8 L1193.5,909.6 L1193.2,905.7 L1192.3,902 L1190.9,898.6Z" fill="url(#spk5)" stroke="url(#spk5)" stroke-width="3" stroke-linejoin="round"/><path d="M1147,919.5 L1146.4,920.9 L1146.1,922 L1146.3,923.3 L1193.2,932.6 L1194.2,928.8 L1194.6,924.9 L1194.3,921.2Z" fill="url(#spk5)" stroke="url(#spk5)" stroke-width="3" stroke-linejoin="round"/><path d="M1145,927 L1144,927.9 L1143.5,929 L1143.2,930.4 L1185.9,954 L1187.9,951 L1189.4,947.4 L1190.3,943.7Z" fill="url(#spk5)" stroke="url(#spk5)" stroke-width="3" stroke-linejoin="round"/><path d="M1140.7,933.8 L1139.4,934.5 L1138.4,935.5 L1137.7,936.9 L1173.1,971.7 L1175.8,969.5 L1178.2,966.6 L1180,963.5Z" fill="url(#spk5)" stroke="url(#spk5)" stroke-width="3" stroke-linejoin="round"/><path d="M1134.2,939.7 L1132.7,940.2 L1131.4,941 L1130.3,942.2 L1157,985.1 L1160.1,983.6 L1162.9,981.6 L1165.3,979Z" fill="url(#spk5)" stroke="url(#spk5)" stroke-width="3" stroke-linejoin="round"/><path d="M1126,944.4 L1124.2,944.6 L1122.8,945.1 L1121.4,946.1 L1139.1,994.3 L1142.4,993.5 L1145.5,992.1 L1148.1,990.3Z" fill="url(#spk5)" stroke="url(#spk5)" stroke-width="3" stroke-linejoin="round"/><path d="M1116.6,947.5 L1114.9,947.3 L1113.2,947.6 L1111.7,948.4 L1120.1,999.5 L1123.4,999.4 L1126.5,998.7 L1129.6,997.4Z" fill="url(#spk5)" stroke="url(#spk5)" stroke-width="3" stroke-linejoin="round"/><path d="M1106.6,948.9 L1104.9,948.5 L1103.2,948.5 L1101.5,949 L1100.6,1001.1 L1103.9,1001.6 L1107,1001.5 L1110.3,1000.8Z" fill="url(#spk5)" stroke="url(#spk5)" stroke-width="3" stroke-linejoin="round"/><path d="M1096.4,948.6 L1094.8,947.9 L1093.2,947.6 L1091.4,947.8 L1081.2,999.1 L1084.2,1000.2 L1087.5,1000.7 L1090.7,1000.6Z" fill="url(#spk5)" stroke="url(#spk5)" stroke-width="3" stroke-linejoin="round"/><path d="M1086.6,946.7 L1085.1,945.7 L1083.6,945.1 L1082,945.1 L1062.1,993.3 L1065,995 L1068.2,996.1 L1071.4,996.6Z" fill="url(#spk5)" stroke="url(#spk5)" stroke-width="3" stroke-linejoin="round"/><path d="M1077.5,943 L1076.4,941.9 L1075,941.1 L1073.5,940.7 L1044.3,983.5 L1046.9,985.9 L1049.8,987.7 L1053,988.9Z" fill="url(#spk5)" stroke="url(#spk5)" stroke-width="3" stroke-linejoin="round"/><path d="M1069.9,938.1 L1069.1,936.8 L1068,935.8 L1066.6,935.1 L1028.5,969.3 L1030.5,972.3 L1033,974.8 L1035.9,976.9Z" fill="url(#spk5)" stroke="url(#spk5)" stroke-width="3" stroke-linejoin="round"/><path d="M1064,932 L1063.6,930.6 L1062.9,929.6 L1061.8,928.7 L1016.4,950.7 L1017.5,954.2 L1019.4,957.6 L1021.7,960.4Z" fill="url(#spk5)" stroke="url(#spk5)" stroke-width="3" stroke-linejoin="round"/><path d="M1060.3,925.3 L1060.3,923.9 L1060,922.8 L1059.3,921.8 L1010.1,928.3 L1010.2,932.3 L1010.9,936.2 L1012.3,939.7Z" fill="url(#spk5)" stroke="url(#spk5)" stroke-width="3" stroke-linejoin="round"/><path d="M1058.8,918.2 L1059.3,916.9 L1059.4,915.8 L1059,914.5 L1011.3,905.1 L1010.1,908.8 L1009.5,912.7 L1009.7,916.5Z" fill="url(#spk5)" stroke="url(#spk5)" stroke-width="3" stroke-linejoin="round"/><path d="M1059.8,910.7 L1060.7,909.7 L1061.1,908.6 L1061.3,907 L1019.5,884 L1017.4,886.9 L1015.7,890.4 L1014.6,894.1Z" fill="url(#spk5)" stroke="url(#spk5)" stroke-width="3" stroke-linejoin="round"/><path d="M1063.4,903.4 L1064.6,902.4 L1065.5,901.3 L1066.1,899.8 L1032.9,867 L1030.1,869.2 L1027.6,871.9 L1025.8,874.9Z" fill="url(#spk5)" stroke="url(#spk5)" stroke-width="3" stroke-linejoin="round"/><path d="M1069.5,896.5 L1071,895.9 L1072.3,894.9 L1073.3,893.6 L1049.1,854.6 L1046.1,856 L1043.3,857.8 L1040.8,860.2Z" fill="url(#spk5)" stroke="url(#spk5)" stroke-width="3" stroke-linejoin="round"/><path d="M1077.7,890.9 L1079.5,890.5 L1081,889.8 L1082.4,888.7 L1066.9,846.3 L1063.7,847 L1060.6,848.3 L1058,849.9Z" fill="url(#spk5)" stroke="url(#spk5)" stroke-width="3" stroke-linejoin="round"/><path d="M1087.5,887 L1089.3,887 L1091.1,886.6 L1092.7,885.8 L1085.4,841.8 L1082.2,841.8 L1079.2,842.4 L1076.1,843.6Z" fill="url(#spk5)" stroke="url(#spk5)" stroke-width="3" stroke-linejoin="round"/><path d="M1098.1,885 L1099.8,885.4 L1101.7,885.3 L1103.5,884.8 L1104.3,840.6 L1101.1,840.1 L1098,840.1 L1094.9,840.7Z" fill="url(#spk5)" stroke="url(#spk5)" stroke-width="3" stroke-linejoin="round"/><path d="M1108.9,885.1 L1110.7,885.8 L1112.4,886 L1114.3,885.9 L1122.9,842.6 L1120,841.6 L1116.8,841.1 L1113.8,841.2Z" fill="url(#spk5)" stroke="url(#spk5)" stroke-width="3" stroke-linejoin="round"/><path d="M1119.5,887.2 L1120.7,888.1 L1122.4,888.8 L1124.4,889.1 L1141.3,848.2 L1138.8,846.7 L1135.9,845.6 L1132.3,844.9Z" fill="url(#spk5)" stroke="url(#spk5)" stroke-width="3" stroke-linejoin="round"/></g><ellipse cx="1101.1" cy="918.1" rx="30" ry="20.5" fill="#fff" stroke="#323232" stroke-width="3" transform="rotate(8 1101.1 918.1)"/><path d="M1082.4,768.1 L1080.4,777 L1080.8,781.5 L1081.6,785.1 L1082.8,788.4 L1084.1,791.2 L1085.7,793.8 L1087.4,796.1 L1089.3,798.1 L1091.5,799.9 L1093.8,801.5 L1096.2,802.9 L1098.5,804.9 L1101,807.3 L1103.4,809.1 L1106.3,810.4 L1109.2,811.2 L1112.2,811.6 L1114.9,812 L1117.1,813.7 L1119.2,815.1 L1121.4,816.2 L1123.5,816.8 L1125.7,817 L1128,817 L1129.6,818.2 L1131,819.7 L1133,821.1 L1135.3,822.2 L1137.8,822.8 L1140.3,823.1 L1142.6,823.7 L1144.3,825.3 L1146.2,826.8 L1147.9,827.8 L1149.7,828.3 L1151.9,828.6 L1153.7,828.6 L1154.6,829.8 L1155.8,831.4 L1156.5,832.3 L1157.4,832.8 L1158.8,833.3 L1160.9,834 L1162,835 L1162.5,836.6 L1163.1,838 L1164,839.1 L1165.1,839.9 L1166.8,841.1 L1168.3,841.6 L1168.3,843.2 L1168.3,844.6 L1168.5,845.7 L1169,846.4 L1169.7,846.7 L1170.8,847.3 L1171,848.3 L1170.5,849.6 L1170.2,851.1 L1170.2,852.6 L1170.6,854.3 L1171.3,856.5 L1172.2,858.5 L1172.1,860.7 L1171.4,863 L1171,865.5 L1170.9,867.5 L1171.1,869.4 L1171.7,871.3 L1172.4,873.6 L1172.1,875.6 L1171.3,877.6 L1170.8,879.6 L1170.6,881.7 L1170.7,884 L1171.1,886.2 L1171.7,888.5 L1171.1,890.6 L1170.2,892.6 L1169.6,894.5 L1169.1,896.4 L1168.8,898.4 L1168.8,900.5 L1168.9,902.7 L1169.1,904.9 L1168,906.8 L1166.9,908.5 L1166,910.5 L1165.3,912.6 L1165,914.8 L1165,916.5 L1165.1,918.4 L1164,919.6 L1162.6,921.1 L1161.4,922.9 L1160.5,924.7 L1159.7,926.9 L1159,929.4 L1158.1,932.6 L1196.7,954.4 L1198.4,953.2 L1200.3,951.5 L1202.1,949.4 L1203.7,947 L1204.9,944.3 L1205.9,941.5 L1207,938.2 L1209.1,935.6 L1211.1,932.7 L1212.5,930.2 L1213.6,927.6 L1214.3,924.9 L1214.8,921.8 L1215.2,919 L1216.8,916.4 L1218.2,913.8 L1219.5,911 L1220.4,908.2 L1221,905.2 L1221.3,902.2 L1221.3,899.3 L1221.5,896.5 L1222.9,893.8 L1224,891.1 L1224.7,888.5 L1225.1,885.6 L1225.1,882.7 L1224.8,879.7 L1224.8,876.7 L1225.8,874 L1226.5,871 L1226.9,867.8 L1226.7,864.9 L1226.3,862.3 L1225.5,859.7 L1225.2,856.9 L1225.9,853.9 L1226.4,851.1 L1226.4,847.8 L1225.9,844.4 L1224.9,840.9 L1223.5,837.3 L1222.5,833.5 L1222.2,829.3 L1221.2,825 L1219.6,821.1 L1217.6,817.8 L1215.1,814.8 L1212.4,812.1 L1211.1,808.6 L1209.8,805.7 L1207.8,802.7 L1205.4,800 L1202.6,797.8 L1199.5,795.9 L1197.1,793.4 L1195.4,790.8 L1193,788.1 L1189.9,785.6 L1186.4,783.7 L1183.4,782.6 L1179.9,781.4 L1177.4,779 L1175.1,777.1 L1172.4,775.5 L1169.6,774.4 L1166.9,773.8 L1164,773.5 L1161.8,772.1 L1159.6,770.4 L1157.5,769.2 L1155.2,768.3 L1152.6,767.8 L1149.4,767.4 L1146.3,766.8 L1143.9,765.2 L1141.4,763.8 L1138.8,762.8 L1136.2,762.3 L1133.6,762.3 L1131,762.4 L1129,761.3 L1127.2,760 L1125.5,759.1 L1123.7,758.7 L1121.5,758.6 L1119.4,758.9 L1117.2,758.8 L1115,758 L1112.9,757.4 L1110.6,756.9 L1108.1,756.6 L1105.5,756.6 L1102.6,756.8 L1099.6,757.3 L1096.3,758.2 L1092.8,759.5 L1088.8,761.5 L1082.4,768.1Z" fill="#323232" stroke="#323232" stroke-width="1" stroke-linejoin="round"/><g filter="url(#rough)"><path d="M1083.2,776.6 L1083.9,779.9 L1084.8,782.9 L1086,785.6 L1087.2,788 L1088.7,790.2 L1090.3,792.2 L1092,793.9 L1093.9,795.5 L1095.8,796.8 L1112.8,762.6 L1110.7,762 L1108.6,761.5 L1106.4,761.2 L1104,761.1 L1101.6,761.2 L1098.9,761.5 L1096.1,762.1 L1093.2,762.9 L1089.9,764.1Z" fill="url(#spk5)" stroke="url(#spk5)" stroke-width="3" stroke-linejoin="round"/><path d="M1102.4,802.1 L1104.7,803.9 L1107.1,805.3 L1109.4,806.1 L1112,806.6 L1126.2,765.3 L1124.6,764.3 L1122.8,763.6 L1121.1,763.3 L1119.3,763.4Z" fill="url(#spk5)" stroke="url(#spk5)" stroke-width="3" stroke-linejoin="round"/><path d="M1119.2,809.2 L1121.1,810.5 L1123.1,811.4 L1125,811.9 L1127.1,812.2 L1141.7,769.7 L1139.6,768.5 L1137.3,767.7 L1135,767.2 L1132.7,767.1Z" fill="url(#spk5)" stroke="url(#spk5)" stroke-width="3" stroke-linejoin="round"/><path d="M1132.6,814.6 L1134.1,815.8 L1136,817 L1138.2,817.8 L1140.4,818.2 L1158.2,775.5 L1156.3,774.3 L1154.4,773.4 L1152.2,772.8 L1149.6,772.3Z" fill="url(#spk5)" stroke="url(#spk5)" stroke-width="3" stroke-linejoin="round"/><path d="M1146.6,820.9 L1148.3,822.2 L1149.9,823 L1151.7,823.7 L1153.4,823.9 L1174.5,783 L1172.2,781.2 L1170,780 L1167.6,779 L1165.2,778.5Z" fill="url(#spk5)" stroke="url(#spk5)" stroke-width="3" stroke-linejoin="round"/><path d="M1157.8,826.3 L1158.9,827.6 L1159.6,828.3 L1161,829.1 L1162.4,829.6 L1192.2,794.9 L1190.2,792.5 L1188.1,790.7 L1185.2,788.8 L1182.6,787.6Z" fill="url(#spk5)" stroke="url(#spk5)" stroke-width="3" stroke-linejoin="round"/><path d="M1166.2,833.1 L1166.8,834.4 L1167.8,835.8 L1168.8,836.7 L1170,837.3 L1206.6,810.5 L1205.1,807.7 L1203.3,805.1 L1201.4,803.2 L1198.9,801.3Z" fill="url(#spk5)" stroke="url(#spk5)" stroke-width="3" stroke-linejoin="round"/><path d="M1172.6,841.2 L1172.7,842.4 L1173.3,843.9 L1173.8,844.6 L1174.6,845.1 L1217.3,830.8 L1216.5,827.1 L1215.3,823.8 L1213.9,821.3 L1211.9,818.7Z" fill="url(#spk5)" stroke="url(#spk5)" stroke-width="3" stroke-linejoin="round"/><path d="M1175.5,848.5 L1175.3,850.1 L1175.2,851.3 L1175.4,852.9 L1175.8,854.3 L1176.4,856.1 L1220.9,853.9 L1221.3,851.6 L1221.4,849 L1221.2,846.6 L1220.6,843.8 L1219.8,841.4Z" fill="url(#spk5)" stroke="url(#spk5)" stroke-width="3" stroke-linejoin="round"/><path d="M1176.6,862.5 L1176.2,864.5 L1176,866.3 L1176,868.1 L1176.2,869.6 L1176.7,871.4 L1220.9,873.2 L1221.4,870.9 L1221.7,868.4 L1221.7,866.1 L1221.5,863.9 L1221,861.9Z" fill="url(#spk5)" stroke="url(#spk5)" stroke-width="3" stroke-linejoin="round"/><path d="M1176.6,877.4 L1176.1,879.2 L1175.7,881 L1175.7,882.7 L1175.8,884.6 L1176.1,886.4 L1218.1,892.6 L1219,890.4 L1219.6,888.3 L1220,885.9 L1220.1,883.7 L1219.9,881.5Z" fill="url(#spk5)" stroke="url(#spk5)" stroke-width="3" stroke-linejoin="round"/><path d="M1175.5,892.9 L1174.9,894.6 L1174.4,896.2 L1174,898 L1173.8,899.7 L1173.7,901.5 L1173.8,903.3 L1212.3,914.4 L1213.5,912.1 L1214.5,909.9 L1215.3,907.5 L1215.8,905.2 L1216.2,902.7 L1216.3,900.3Z" fill="url(#spk5)" stroke="url(#spk5)" stroke-width="3" stroke-linejoin="round"/><path d="M1172.2,909.4 L1171.3,911.1 L1170.6,912.7 L1170.1,914.4 L1169.8,916.1 L1169.7,917.8 L1205.2,932.5 L1206.6,930.5 L1207.7,928.5 L1208.6,926.4 L1209.3,924.2 L1209.7,922Z" fill="url(#spk5)" stroke="url(#spk5)" stroke-width="3" stroke-linejoin="round"/><path d="M1167.7,922.8 L1166.7,924.1 L1165.7,925.6 L1164.9,927.2 L1164.2,929 L1163.6,930.9 L1194.9,949.9 L1196.4,948.4 L1197.8,946.7 L1199,944.8 L1200,942.8 L1200.9,940.6Z" fill="url(#spk5)" stroke="url(#spk5)" stroke-width="3" stroke-linejoin="round"/></g><path d="M1169.8,947.8 L1169.4,950.9 L1169,953.7 L1168.8,956.2 L1168.8,958.4 L1169.1,960.6 L1169.6,962.6 L1170.3,964.5 L1170.7,966.3 L1169.8,968.1 L1168.9,969 L1168.3,970.7 L1167.9,972.2 L1167.8,974 L1168.3,975.6 L1169,977.6 L1169,979.7 L1168.1,981.4 L1167.3,983.4 L1166.8,985.4 L1166.5,987.5 L1166.6,989.5 L1166.8,991.7 L1167.2,993.9 L1166.6,995.7 L1165.5,997.5 L1164.5,999.4 L1164,1001 L1163.7,1002.9 L1163.7,1004.7 L1163.8,1006.7 L1163.3,1008.6 L1162,1009.9 L1160.8,1011.5 L1159.9,1013 L1159.2,1014.9 L1158.9,1016.7 L1158.6,1018.8 L1158.1,1020.5 L1156.4,1021.8 L1155.2,1023 L1154.2,1024.6 L1153.6,1026.2 L1153.2,1028 L1152.8,1030.3 L1151.4,1031.5 L1149.8,1032.6 L1148.2,1034.1 L1147,1035.8 L1145.9,1037.8 L1144.9,1040.2 L1143.7,1042.2 L1141.8,1043.3 L1140.3,1044.3 L1139.3,1045.3 L1138.3,1046.7 L1138.2,1048.1 L1138.4,1049.5 L1138.8,1049.9 L1139,1050.4 L1138.4,1051.6 L1137,1053.5 L1135.5,1055.8 L1133.7,1058.8 L1131.5,1062.8 L1129.8,1072 L1129.8,1072 L1132.9,1080.7 L1135.7,1084.3 L1138.8,1086.9 L1142.2,1088.7 L1145.6,1089.7 L1149.9,1089.8 L1154.7,1088.8 L1159.6,1087 L1164.1,1085.9 L1167.9,1084.3 L1170.7,1082.5 L1173.4,1080.3 L1175.5,1077.9 L1177.1,1075.6 L1179.4,1074 L1181.9,1072.8 L1184.2,1071.4 L1186.4,1069.4 L1188.2,1067.3 L1189.8,1064.7 L1191.6,1062.1 L1194.3,1060.5 L1196.9,1058.4 L1199.2,1056 L1201,1053.5 L1202.5,1050.6 L1203.4,1047.7 L1205.3,1045.1 L1207.4,1042.9 L1209.4,1040.3 L1210.9,1037.8 L1212.1,1034.8 L1212.9,1031.9 L1213.5,1028.6 L1214.7,1025.9 L1216.6,1023.3 L1218.2,1020.4 L1219.3,1017.6 L1220.1,1014.5 L1220.5,1011.5 L1220.5,1008.6 L1221,1005.5 L1222.4,1002.9 L1223.6,1000.3 L1224.5,997.4 L1225.1,994.6 L1225.3,991.7 L1225.2,988.8 L1224.8,985.6 L1225.4,982.7 L1226.4,979.8 L1227.2,976.5 L1227.3,973.4 L1226.9,969.9 L1226.1,966.7 L1224.9,962.7 L1223.5,959.6 L1223.3,956.5 L1223.1,953.5 L1222.8,950.7 L1222.1,948 L1221.1,945.4 L1219.9,943 L1218.6,940.9 L1217.2,939.2Z" fill="#323232" stroke="#323232" stroke-width="1" stroke-linejoin="round"/><g filter="url(#rough)"><path d="M1174.2,951.2 L1173.9,953.7 L1173.8,956.1 L1173.9,958.3 L1174.3,960.4 L1174.8,962.4 L1218.2,955.4 L1217.9,952.6 L1217.4,950 L1216.6,947.4 L1215.5,945.1 L1214.2,942.9Z" fill="url(#spk5)" stroke="url(#spk5)" stroke-width="3" stroke-linejoin="round"/><path d="M1174.6,967.8 L1173.9,969.4 L1173.3,970.9 L1173,972.7 L1173,974.4 L1173.5,976.4 L1221.2,979.8 L1222,977 L1222.2,973.8 L1221.9,970.8 L1221.2,967.5 L1220.2,964.2Z" fill="url(#spk5)" stroke="url(#spk5)" stroke-width="3" stroke-linejoin="round"/><path d="M1173.1,982.2 L1172.3,984.2 L1171.8,986.2 L1171.5,988.3 L1171.6,990.3 L1171.8,992.5 L1217.5,1001.8 L1218.6,999.2 L1219.5,996.5 L1220,993.9 L1220.2,991 L1220.1,988.3Z" fill="url(#spk5)" stroke="url(#spk5)" stroke-width="3" stroke-linejoin="round"/><path d="M1170.6,998.5 L1169.7,1000 L1169.1,1001.6 L1168.7,1003.2 L1168.5,1004.9 L1168.5,1006.6 L1211.6,1021.8 L1213,1019.6 L1214,1017.2 L1214.8,1014.8 L1215.3,1012.4 L1215.5,1009.9Z" fill="url(#spk5)" stroke="url(#spk5)" stroke-width="3" stroke-linejoin="round"/><path d="M1166.7,1011.9 L1165.6,1013.3 L1164.7,1014.8 L1164,1016.3 L1163.6,1017.9 L1163.2,1019.7 L1202.5,1040.9 L1204.1,1039 L1205.5,1036.9 L1206.7,1034.7 L1207.6,1032.3 L1208.2,1029.9Z" fill="url(#spk5)" stroke="url(#spk5)" stroke-width="3" stroke-linejoin="round"/><path d="M1160.5,1024.6 L1159.4,1026 L1158.4,1027.4 L1157.8,1028.9 L1157.3,1030.7 L1191,1056.8 L1193.1,1055.2 L1195.1,1053 L1196.7,1050.8 L1197.9,1048.4Z" fill="url(#spk5)" stroke="url(#spk5)" stroke-width="3" stroke-linejoin="round"/><path d="M1154.1,1035.6 L1152.6,1036.9 L1151.3,1038.3 L1150.3,1040 L1149.3,1042 L1177.7,1069.6 L1179.7,1068.4 L1181.7,1066.8 L1183.5,1065 L1184.9,1063Z" fill="url(#spk5)" stroke="url(#spk5)" stroke-width="3" stroke-linejoin="round"/><path d="M1145.2,1047.1 L1143.7,1048.1 L1142.7,1049.1 L1141.7,1050.4 L1141,1051.9 L1162.2,1081.3 L1165.1,1080.1 L1167.6,1078.6 L1169.8,1076.6 L1171.6,1074.7Z" fill="url(#spk5)" stroke="url(#spk5)" stroke-width="3" stroke-linejoin="round"/><path d="M1140.6,1055 L1139.7,1056 L1138.8,1057.4 L1137.3,1059.2 L1135.7,1061.4 L1133.9,1064.2 L1135,1079 L1137.6,1081.4 L1140.4,1083.2 L1143.3,1084.4 L1146.7,1084.9 L1149.9,1084.8Z" fill="url(#spk5)" stroke="url(#spk5)" stroke-width="3" stroke-linejoin="round"/></g></g>
<g id="worm6"><g filter="url(#wob)"><path d="M424,1275 L422.1,1283.9 L422.4,1288.4 L423.2,1292 L424.3,1295.1 L425.7,1297.8 L427.4,1300.1 L429.3,1302.1 L431.1,1304.3 L432.8,1306.7 L434.8,1308.8 L436.9,1310.7 L439.3,1312.1 L441.8,1313.3 L444.4,1314.4 L447.1,1315.4 L449.5,1317.3 L452,1319.1 L454.7,1320.6 L457.5,1322 L460.5,1323 L463.5,1323.8 L466.4,1324.3 L469.1,1325.5 L471.6,1327 L474.3,1328.2 L477,1329.3 L479.7,1329.9 L482.5,1330.1 L485.4,1330.2 L488.2,1330.4 L490.8,1331.4 L493.4,1332.3 L496.1,1333 L498.8,1333.4 L501.5,1333.5 L504.2,1333.4 L506.9,1333.2 L509.5,1333.9 L512.1,1334.8 L514.7,1335.4 L517.3,1335.8 L519.9,1335.9 L522.5,1335.8 L525.2,1335.5 L527.8,1335.7 L530.4,1336.5 L532.9,1337.1 L535.5,1337.5 L538.2,1337.7 L540.9,1337.6 L543.6,1337.3 L546.3,1336.8 L548.9,1337.5 L551.5,1338.2 L554.1,1338.6 L556.6,1338.8 L559.3,1338.7 L561.9,1338.3 L564.5,1337.9 L567.2,1338 L569.8,1338.6 L572.4,1339 L574.9,1339.2 L577.5,1339.2 L580.1,1338.9 L582.7,1338.4 L585.2,1337.9 L587.8,1338.5 L590.3,1339 L592.9,1339.3 L595.5,1339.3 L598,1339.1 L600.6,1338.6 L603.1,1338 L605.8,1338.2 L608.4,1338.7 L611,1339 L613.5,1339.1 L616.2,1338.9 L618.7,1338.4 L621.3,1337.8 L623.9,1337.4 L626.4,1337.9 L629,1338.2 L631.6,1338.4 L634.1,1338.3 L636.7,1337.9 L639.2,1337.3 L641.7,1336.6 L644.2,1336.8 L646.8,1337.2 L649.3,1337.4 L651.9,1337.4 L654.4,1337.1 L656.9,1336.6 L659.3,1335.9 L661.8,1335.6 L664.4,1336 L666.9,1336.3 L669.4,1336.4 L671.9,1336.2 L674.4,1335.7 L676.8,1335.1 L679.3,1334.3 L681.8,1334.7 L684.3,1335.1 L686.9,1335.3 L689.4,1335.2 L691.9,1334.9 L694.4,1334.3 L696.9,1333.6 L699.4,1333.4 L702,1333.8 L704.5,1334 L707.1,1334.1 L709.6,1333.8 L712,1333.3 L714.5,1332.6 L717,1331.9 L719.6,1332.4 L722.1,1332.7 L724.6,1332.8 L727.1,1332.6 L729.6,1332.2 L732.1,1331.6 L734.5,1330.8 L737.1,1330.8 L739.6,1331.2 L742.1,1331.4 L744.6,1331.4 L747.1,1331.1 L749.6,1330.5 L752,1329.8 L754.5,1329.2 L757.1,1329.6 L759.6,1329.9 L762.1,1330 L764.5,1329.8 L766.9,1329.4 L769.3,1328.8 L771.7,1328 L774.2,1328.1 L776.7,1328.5 L779.2,1328.7 L781.7,1328.7 L784.2,1328.4 L786.6,1327.8 L789.1,1327.1 L791.6,1326.7 L794.1,1327.2 L796.7,1327.5 L799.2,1327.5 L801.7,1327.3 L804.3,1326.8 L806.7,1326.2 L809.3,1325.4 L811.9,1325.7 L814.6,1326 L817.1,1326.1 L819.7,1326 L822.3,1325.5 L825,1324.9 L827.4,1324.1 L830.1,1323.7 L832.8,1324 L835.6,1324.1 L838.4,1324 L840.9,1323.6 L843.6,1322.9 L846.2,1322 L848.9,1321 L851.7,1321.2 L854.4,1321.3 L857.2,1321.1 L859.6,1320.7 L862.3,1320 L864.9,1319 L867.4,1317.9 L870.1,1317.5 L872.9,1317.5 L875.6,1317.3 L878.3,1316.9 L880.9,1316.2 L883.4,1315.2 L885.9,1314 L888.4,1312.9 L891.2,1312.8 L893.9,1312.6 L896.6,1312.2 L899.2,1311.3 L901.6,1310.1 L904,1308.7 L906.3,1307.2 L908.9,1306.4 L912,1305.7 L914.8,1304.9 L917.5,1303.9 L920,1302.5 L922.5,1300.9 L925.1,1299.1 L927.5,1297.5 L930.2,1296.7 L933,1295.7 L935.4,1294.5 L937.8,1293.1 L940.1,1291.4 L942.1,1289.7 L944.1,1287.8 L946.5,1286.8 L948.8,1285.8 L951.1,1284.8 L953.3,1283.4 L955.7,1281.3 L957.6,1279.1 L959.5,1276.4 L961.4,1274 L963.3,1271.8 L965,1269.3 L966.3,1266.3 L967.1,1263 L967.5,1259.1 L967.3,1254.4 L964,1245 L964,1245 L956.5,1238.4 L952.2,1236.5 L948.4,1235.4 L945.2,1234.8 L942.3,1234.6 L939.7,1234.8 L937.4,1235.3 L935.1,1235.4 L932.7,1235.3 L930.2,1235.5 L928.2,1235.8 L926,1236.7 L923.8,1238 L921.8,1239.4 L919.7,1240.7 L917.3,1241.1 L914.9,1241.6 L912.7,1242.1 L910.5,1242.9 L908.5,1243.9 L906.8,1244.9 L904.9,1246.1 L902.7,1246.6 L900.7,1246.6 L898.5,1246.9 L896.4,1247.3 L894.4,1248 L892.5,1248.8 L890.8,1249.7 L888.7,1250.4 L886.2,1250.3 L883.8,1250.4 L881.5,1250.6 L879.2,1251.1 L877.1,1252 L875,1253.1 L873,1254.3 L870.6,1254.5 L868.3,1254.6 L866,1254.8 L863.7,1255.2 L861.6,1255.9 L859.4,1256.8 L857.3,1257.9 L855.1,1258.5 L852.8,1258.4 L850.5,1258.4 L848.2,1258.6 L845.7,1259.1 L843.6,1259.8 L841.4,1260.7 L839.3,1261.7 L837,1261.5 L834.7,1261.3 L832.5,1261.3 L830,1261.6 L827.8,1262.1 L825.7,1262.8 L823.5,1263.7 L821.2,1263.9 L818.6,1263.6 L816.3,1263.4 L813.9,1263.4 L811.6,1263.7 L809.2,1264.3 L806.8,1265.1 L804.5,1265.8 L802,1265.4 L799.5,1265.1 L797.1,1265 L794.6,1265.1 L792.2,1265.5 L789.8,1266.2 L787.3,1267 L784.9,1267 L782.3,1266.6 L779.8,1266.4 L777.3,1266.4 L774.8,1266.7 L772.3,1267.3 L769.8,1268 L767.3,1268.6 L764.8,1268.1 L762.2,1267.9 L759.6,1267.8 L757.1,1268.1 L754.6,1268.5 L752.2,1269.2 L749.7,1270 L747.2,1269.9 L744.7,1269.6 L742.2,1269.4 L739.7,1269.5 L737.2,1269.9 L734.8,1270.5 L732.3,1271.3 L729.9,1271.6 L727.4,1271.2 L724.8,1271 L722.4,1271 L719.9,1271.2 L717.4,1271.7 L715,1272.4 L712.6,1273.2 L710.1,1272.9 L707.6,1272.6 L705.1,1272.5 L702.6,1272.6 L700.2,1272.9 L697.7,1273.6 L695.3,1274.3 L692.8,1274.5 L690.3,1274.1 L687.9,1273.9 L685.4,1273.9 L682.9,1274.1 L680.5,1274.6 L678,1275.3 L675.6,1276 L673.1,1275.5 L670.5,1275.2 L668,1275.1 L665.5,1275.2 L663.1,1275.6 L660.6,1276.2 L658.2,1277 L655.7,1277 L653.2,1276.6 L650.7,1276.4 L648.2,1276.4 L645.7,1276.6 L643.3,1277.2 L640.9,1277.8 L638.4,1278.4 L636,1277.9 L633.5,1277.6 L631.1,1277.5 L628.6,1277.6 L626.2,1278 L623.8,1278.6 L621.3,1279.3 L618.9,1279.1 L616.5,1278.6 L614.1,1278.4 L611.7,1278.4 L609.2,1278.6 L606.9,1279 L604.5,1279.6 L602.2,1279.9 L599.7,1279.4 L597.3,1279 L594.9,1278.8 L592.4,1278.9 L590,1279.2 L587.5,1279.7 L585.1,1280.3 L582.7,1279.8 L580.3,1279.3 L577.9,1279 L575.5,1278.9 L573,1279.1 L570.6,1279.4 L568.3,1280 L565.9,1280 L563.5,1279.4 L561.2,1278.9 L558.8,1278.6 L556.3,1278.6 L554,1278.8 L551.6,1279.2 L549.2,1279.7 L546.9,1279 L544.6,1278.4 L542.3,1277.9 L540,1277.7 L537.7,1277.8 L535.2,1278 L532.8,1278.4 L530.5,1278.1 L528.2,1277.3 L525.9,1276.7 L523.5,1276.3 L521.1,1276.2 L518.8,1276.3 L516.4,1276.5 L514,1276.6 L511.8,1275.8 L509.6,1275 L507.3,1274.5 L505.1,1274.1 L502.8,1274 L500.5,1274.1 L498.2,1274.3 L496.1,1273.7 L494,1272.8 L491.9,1272 L489.8,1271.6 L487.6,1271.5 L485.4,1271.7 L483.1,1271.9 L481,1271.8 L479.1,1271 L477.3,1270.3 L475.6,1269.8 L473.7,1269.4 L471.7,1269.2 L469.6,1269 L467.4,1269 L465.5,1268 L463.6,1266.9 L461.7,1265.9 L459.5,1265.2 L457.2,1264.8 L454.7,1264.6 L452,1264.7 L449.4,1264.5 L447,1264.2 L444.3,1264 L441.3,1264.3 L438,1265 L434.4,1266.2 L430.4,1268.3 L424,1275Z" fill="#2e2e2e" stroke="#2e2e2e" stroke-width="1" stroke-linejoin="round"/></g><g filter="url(#rough6)"><path d="M440.6,1293 L442.4,1294.9 L444.3,1296.6 L446.5,1297.9 L448.7,1298.9 L454.4,1286.9 L452.3,1285.8 L450.1,1285 L447.7,1284.4 L445.2,1284.2Z" fill="url(#hat6)" stroke="url(#hat6)" stroke-width="2" stroke-linejoin="round"/><path d="M457.2,1303.7 L459.4,1305.2 L461.8,1306.4 L464.3,1307.4 L466.8,1308.2 L471.7,1291.6 L469.5,1290.9 L467.4,1290.3 L465.1,1289.8 L462.8,1289.5Z" fill="url(#hat6)" stroke="url(#hat6)" stroke-width="2" stroke-linejoin="round"/><path d="M475.7,1311.6 L478.1,1312.7 L480.5,1313.7 L483,1314.3 L485.5,1314.5 L489.5,1294.3 L487.3,1293.5 L485.1,1293.1 L482.7,1293 L480.4,1293Z" fill="url(#hat6)" stroke="url(#hat6)" stroke-width="2" stroke-linejoin="round"/><path d="M494.8,1316.2 L497.3,1316.9 L499.7,1317.4 L502.2,1317.6 L504.7,1317.7 L507.4,1297.1 L505.1,1296.4 L502.8,1296 L500.5,1295.8 L498.1,1295.8Z" fill="url(#hat6)" stroke="url(#hat6)" stroke-width="2" stroke-linejoin="round"/><path d="M513.8,1318.8 L516.2,1319.5 L518.6,1319.8 L521.1,1320 L523.5,1319.9 L525.6,1299.1 L523.3,1298.5 L520.9,1298.2 L518.6,1298 L516.2,1298.1Z" fill="url(#hat6)" stroke="url(#hat6)" stroke-width="2" stroke-linejoin="round"/><path d="M532.7,1320.8 L535.1,1321.3 L537.6,1321.7 L540,1321.7 L542.5,1321.6 L543.8,1300.5 L541.5,1300 L539.1,1299.7 L536.8,1299.7 L534.4,1299.8Z" fill="url(#hat6)" stroke="url(#hat6)" stroke-width="2" stroke-linejoin="round"/><path d="M551.8,1322.1 L554.1,1322.5 L556.6,1322.8 L559,1322.7 L561.5,1322.5 L562.1,1301.2 L559.7,1300.8 L557.4,1300.6 L555,1300.6 L552.6,1300.9Z" fill="url(#hat6)" stroke="url(#hat6)" stroke-width="2" stroke-linejoin="round"/><path d="M570.7,1322.7 L573.1,1323.1 L575.5,1323.3 L577.9,1323.2 L580.4,1322.9 L580.5,1301.4 L578.1,1301 L575.7,1300.9 L573.4,1301 L571,1301.3Z" fill="url(#hat6)" stroke="url(#hat6)" stroke-width="2" stroke-linejoin="round"/><path d="M589.5,1322.9 L591.9,1323.2 L594.3,1323.3 L596.7,1323.2 L599.2,1322.9 L598.9,1301.2 L596.5,1300.9 L594.1,1300.8 L591.8,1300.9 L589.4,1301.3Z" fill="url(#hat6)" stroke="url(#hat6)" stroke-width="2" stroke-linejoin="round"/><path d="M608.3,1322.7 L610.8,1323 L613.2,1323.1 L615.6,1322.9 L618.1,1322.5 L617.2,1300.6 L614.9,1300.4 L612.5,1300.3 L610.1,1300.5 L607.8,1301Z" fill="url(#hat6)" stroke="url(#hat6)" stroke-width="2" stroke-linejoin="round"/><path d="M627.2,1322.1 L629.6,1322.4 L632,1322.4 L634.4,1322.1 L636.8,1321.7 L635.6,1299.7 L633.2,1299.5 L630.9,1299.5 L628.5,1299.7 L626.1,1300.2Z" fill="url(#hat6)" stroke="url(#hat6)" stroke-width="2" stroke-linejoin="round"/><path d="M645.9,1321.2 L648.3,1321.4 L650.7,1321.4 L653.1,1321.2 L655.5,1320.7 L654.1,1298.5 L651.7,1298.3 L649.3,1298.4 L646.9,1298.6 L644.6,1299.1Z" fill="url(#hat6)" stroke="url(#hat6)" stroke-width="2" stroke-linejoin="round"/><path d="M664.5,1320.2 L666.9,1320.4 L669.3,1320.4 L671.6,1320.1 L674,1319.6 L672.6,1297.2 L670.2,1297.1 L667.8,1297.1 L665.4,1297.4 L663.1,1297.9Z" fill="url(#hat6)" stroke="url(#hat6)" stroke-width="2" stroke-linejoin="round"/><path d="M683,1319.1 L685.4,1319.3 L687.8,1319.3 L690.2,1319 L692.6,1318.5 L691.1,1296 L688.7,1295.8 L686.3,1295.8 L683.9,1296.1 L681.6,1296.6Z" fill="url(#hat6)" stroke="url(#hat6)" stroke-width="2" stroke-linejoin="round"/><path d="M701.6,1317.9 L704,1318.1 L706.4,1318.1 L708.8,1317.8 L711.2,1317.3 L709.5,1294.6 L707.1,1294.4 L704.7,1294.5 L702.4,1294.8 L700,1295.3Z" fill="url(#hat6)" stroke="url(#hat6)" stroke-width="2" stroke-linejoin="round"/><path d="M720.2,1316.7 L722.6,1316.8 L725,1316.8 L727.4,1316.5 L729.8,1316 L728,1293.1 L725.6,1292.9 L723.2,1293 L720.8,1293.3 L718.5,1293.8Z" fill="url(#hat6)" stroke="url(#hat6)" stroke-width="2" stroke-linejoin="round"/><path d="M738.8,1315.3 L741.2,1315.5 L743.6,1315.4 L745.9,1315.1 L748.3,1314.6 L746.4,1291.5 L744,1291.3 L741.6,1291.4 L739.3,1291.8 L736.9,1292.3Z" fill="url(#hat6)" stroke="url(#hat6)" stroke-width="2" stroke-linejoin="round"/><path d="M757.3,1313.9 L759.7,1314.1 L762.1,1314 L764.4,1313.7 L766.8,1313.2 L765,1289.9 L762.5,1289.8 L760.1,1289.8 L757.8,1290.2 L755.4,1290.7Z" fill="url(#hat6)" stroke="url(#hat6)" stroke-width="2" stroke-linejoin="round"/><path d="M775.6,1312.6 L778.1,1312.8 L780.4,1312.7 L782.8,1312.5 L785.2,1312 L783.5,1288.5 L781.1,1288.3 L778.7,1288.4 L776.3,1288.7 L774,1289.2Z" fill="url(#hat6)" stroke="url(#hat6)" stroke-width="2" stroke-linejoin="round"/><path d="M794.2,1311.4 L796.6,1311.6 L799,1311.5 L801.4,1311.2 L803.8,1310.7 L802,1287.1 L799.6,1286.9 L797.2,1287 L794.8,1287.3 L792.5,1287.8Z" fill="url(#hat6)" stroke="url(#hat6)" stroke-width="2" stroke-linejoin="round"/><path d="M812.9,1310 L815.3,1310.2 L817.8,1310.1 L820.2,1309.7 L822.6,1309.2 L820.3,1285.4 L817.8,1285.3 L815.5,1285.4 L813.2,1285.7 L810.8,1286.3Z" fill="url(#hat6)" stroke="url(#hat6)" stroke-width="2" stroke-linejoin="round"/><path d="M831.8,1308.2 L834.4,1308.3 L836.9,1308.1 L839.4,1307.6 L841.7,1307 L838.3,1283.1 L835.8,1283.1 L833.5,1283.3 L831.3,1283.7 L829,1284.4Z" fill="url(#hat6)" stroke="url(#hat6)" stroke-width="2" stroke-linejoin="round"/><path d="M850.9,1305.5 L853.5,1305.4 L856,1305.1 L858.4,1304.6 L860.8,1303.7 L856,1279.9 L853.7,1280 L851.4,1280.4 L849.1,1280.9 L846.9,1281.7Z" fill="url(#hat6)" stroke="url(#hat6)" stroke-width="2" stroke-linejoin="round"/><path d="M869.9,1301.9 L872.4,1301.7 L874.9,1301.2 L877.3,1300.5 L879.6,1299.6 L873.7,1275.9 L871.4,1276.1 L869.1,1276.6 L866.8,1277.2 L864.6,1278.1Z" fill="url(#hat6)" stroke="url(#hat6)" stroke-width="2" stroke-linejoin="round"/><path d="M888.7,1297.3 L891.2,1297 L893.6,1296.4 L895.9,1295.4 L898.2,1294.2 L891.2,1271.4 L888.8,1271.6 L886.5,1271.9 L884.3,1272.7 L882.2,1273.6Z" fill="url(#hat6)" stroke="url(#hat6)" stroke-width="2" stroke-linejoin="round"/><path d="M907,1290.6 L909.5,1289.9 L911.9,1288.9 L914.1,1287.7 L916.3,1286.2 L908.6,1267.1 L906.3,1267.4 L904,1267.9 L901.9,1268.6 L899.8,1269.5Z" fill="url(#hat6)" stroke="url(#hat6)" stroke-width="2" stroke-linejoin="round"/><path d="M924.9,1281.7 L927.2,1280.7 L929.5,1279.6 L931.5,1278.2 L933.5,1276.6 L925.6,1261 L923.3,1261.6 L921,1262.3 L918.9,1263.2 L916.9,1264.3Z" fill="url(#hat6)" stroke="url(#hat6)" stroke-width="2" stroke-linejoin="round"/><path d="M941.3,1271.7 L943.4,1270.7 L945.5,1269.4 L947.5,1267.8 L949.3,1265.7 L942.9,1254.5 L940.5,1254.8 L938.1,1255.4 L936,1256.4 L933.9,1257.6Z" fill="url(#hat6)" stroke="url(#hat6)" stroke-width="2" stroke-linejoin="round"/></g><g filter="url(#wob)"><path d="M512.7,1253.2 L510,1251.9 L508.7,1251.1 L509.2,1250.9 L508.7,1250.7 L508.2,1250.9 L507.3,1251.1 L506.3,1251.2 L506.1,1250.1 L506.1,1249.3 L505.7,1248.6 L504.9,1247.9 L504.1,1247.6 L503,1247.2 L502.2,1246.6 L502.2,1245.3 L502.2,1244.2 L502,1243.2 L501.4,1242.2 L500.7,1241.4 L499.7,1240.4 L499.2,1239.2 L499.6,1238 L499.9,1236.7 L500,1235.4 L499.7,1234.4 L499.2,1233.2 L498.6,1231.9 L498.8,1230.6 L499.8,1229.6 L500.7,1228.5 L501.4,1227.4 L501.7,1226.5 L501.8,1225.3 L501.6,1224.2 L502.4,1223.3 L503.7,1222.9 L504.8,1222.3 L505.5,1221.8 L506,1221 L506.1,1220.1 L506.1,1219.2 L507,1219.1 L508.1,1219.3 L508.9,1219.5 L509.4,1219.4 L509.7,1219 L509.5,1218.5 L509.6,1217.6 L510.3,1218.1 L510.5,1218.9 L510.9,1219.3 L510.9,1219.4 L511.1,1219 L511,1218.4 L511.4,1217.6 L511.3,1218.4 L511.2,1219.1 L511.3,1219.4 L511.6,1219.5 L511.9,1219.1 L512.6,1218.5 L513.4,1218.2 L513.4,1219.1 L513.3,1219.7 L513.6,1220.2 L514.3,1220.6 L515.2,1220.7 L516.3,1220.7 L517.3,1221 L517.3,1222.2 L517.3,1223.1 L517.6,1223.9 L518.4,1224.7 L519.4,1225.5 L520.6,1226.1 L521.3,1227.2 L521,1228.2 L520.9,1229.5 L521.1,1230.6 L521.6,1231.6 L522.4,1232.8 L523.3,1234.1 L523.4,1235.4 L522.6,1236.4 L521.9,1237.6 L521.5,1238.8 L521.5,1239.8 L521.6,1241.1 L521.8,1242.5 L521.3,1243.4 L520.1,1244.2 L519.3,1244.9 L518.7,1245.6 L518.3,1246.6 L518.2,1247.7 L518.2,1248.8 L517.3,1249.2 L516.3,1249.3 L515.4,1249.5 L514.8,1249.8 L514.4,1250.5 L514.3,1251.2 L513.9,1252.1 L513.1,1251.8 L512.6,1251.3 L511.9,1251.1 L511.7,1251.2 L512.1,1251.4 L510.8,1252 L507.9,1252.7 L507.1,1307 L509.2,1307.8 L512.8,1308.4 L518.3,1308.4 L522.9,1307.6 L527.1,1306.3 L531.4,1304.4 L535.2,1302.3 L539.4,1301.2 L543.6,1299.5 L547.4,1297.4 L550.8,1294.9 L553.8,1291.9 L556.4,1288.6 L558.9,1285.3 L562.1,1282.7 L565,1279.7 L567.3,1276.6 L569.3,1273.1 L570.8,1269.4 L571.8,1265.7 L573.2,1261.9 L575.1,1258.6 L576.6,1255.2 L577.8,1251.4 L578.4,1247.7 L578.5,1244 L578.2,1240 L578.6,1236.3 L579.6,1232.7 L580.2,1228.9 L580.4,1224.9 L580,1221.2 L579.1,1217.5 L577.8,1213.7 L577.3,1209.9 L577,1205.8 L576.3,1201.9 L575.1,1198.2 L573.2,1194.5 L570.9,1191 L568.3,1187.9 L566.4,1184.1 L564.5,1180.2 L562.1,1176.5 L559.4,1173.4 L556,1170.5 L552,1168 L548,1166 L544.5,1163 L540.8,1160.2 L536.6,1157.7 L532.2,1156 L527.6,1155 L522.6,1154.6 L517.6,1154.8 L513,1153.7 L508,1153 L503.2,1153.1 L498.2,1153.9 L493.8,1155.4 L489.3,1157.6 L485.3,1160 L480.8,1161.2 L476.4,1163.1 L472.4,1165.4 L468.9,1168.2 L465.9,1171.5 L463.3,1175.1 L460.8,1178.6 L457.6,1181.5 L454.7,1184.6 L452.5,1187.9 L450.6,1191.7 L449.3,1195.5 L448.5,1199.6 L447.4,1203.3 L445.6,1206.9 L444.2,1210.5 L443.3,1214.4 L443,1218.2 L443.1,1222 L443.6,1226 L443.5,1229.6 L442.8,1233.3 L442.4,1237 L442.5,1241 L443.2,1244.7 L444.3,1248.3 L445.8,1251.9 L446.5,1255.6 L447,1259.3 L447.9,1263.2 L449.3,1266.8 L451.3,1270.3 L453.7,1273.5 L456.3,1276.4 L458.2,1279.9 L460.2,1283.5 L462.6,1286.9 L465.3,1289.8 L468.6,1292.4 L472.4,1294.8 L476.3,1296.6 L479.6,1299.3 L483.1,1301.9 L487.1,1304.1 L491.2,1305.6 L496.5,1306.7 L500.2,1306.9 L502.4,1306.5Z" fill="#2e2e2e" stroke="#2e2e2e" stroke-width="1" stroke-linejoin="round"/></g><g filter="url(#rough6)"><path d="M503.6,1276.7 L501.9,1275.9 L500.2,1275.2 L498.4,1274.7 L496.5,1274.2 L488.9,1289.7 L491.3,1291.1 L493.9,1292.3 L496.9,1293.2 L500,1293.6Z" fill="url(#hat6)" stroke="url(#hat6)" stroke-width="2" stroke-linejoin="round"/><path d="M489.5,1269.6 L488.3,1268.1 L487,1266.7 L485.6,1265.4 L484.1,1264.1 L470.7,1275.1 L472.3,1277.4 L474.1,1279.5 L476.1,1281.3 L478.4,1282.9Z" fill="url(#hat6)" stroke="url(#hat6)" stroke-width="2" stroke-linejoin="round"/><path d="M479.3,1257.1 L478.8,1255.2 L478.1,1253.4 L477.2,1251.7 L476.2,1250 L459.9,1255.7 L460.5,1258.3 L461.4,1260.7 L462.6,1263.1 L464.1,1265.2Z" fill="url(#hat6)" stroke="url(#hat6)" stroke-width="2" stroke-linejoin="round"/><path d="M474.1,1241.7 L474.2,1239.7 L474.1,1237.8 L473.8,1235.9 L473.4,1234 L456.1,1234.2 L455.9,1236.8 L456,1239.4 L456.4,1242 L457.1,1244.5Z" fill="url(#hat6)" stroke="url(#hat6)" stroke-width="2" stroke-linejoin="round"/><path d="M474.4,1225.4 L475.3,1223.7 L476,1221.9 L476.5,1220.1 L476.9,1218.2 L457.9,1212.4 L457,1214.9 L456.5,1217.5 L456.3,1220.1 L456.4,1222.8Z" fill="url(#hat6)" stroke="url(#hat6)" stroke-width="2" stroke-linejoin="round"/><path d="M480.8,1210.9 L482.1,1209.5 L483.3,1208.1 L484.3,1206.7 L485.2,1205.1 L466.8,1191.2 L465,1193.4 L463.5,1195.8 L462.3,1198.4 L461.5,1201Z" fill="url(#hat6)" stroke="url(#hat6)" stroke-width="2" stroke-linejoin="round"/><path d="M491,1199.8 L492.6,1199.1 L494.1,1198.3 L495.6,1197.3 L496.8,1196.2 L484.4,1174.2 L481.6,1175.5 L479.2,1177.1 L476.9,1179.2 L474.9,1181.5Z" fill="url(#hat6)" stroke="url(#hat6)" stroke-width="2" stroke-linejoin="round"/><path d="M503.8,1193.7 L505.5,1193.8 L507.1,1193.7 L508.6,1193.4 L510.2,1192.9 L509.4,1166.6 L506.2,1166.4 L503,1166.7 L499.9,1167.5 L496.9,1168.6Z" fill="url(#hat6)" stroke="url(#hat6)" stroke-width="2" stroke-linejoin="round"/><path d="M517.3,1193.7 L518.8,1194.4 L520.3,1195 L521.8,1195.5 L523.5,1195.8 L535,1172.4 L532.5,1170.8 L529.6,1169.4 L526.6,1168.5 L523.4,1168Z" fill="url(#hat6)" stroke="url(#hat6)" stroke-width="2" stroke-linejoin="round"/><path d="M530,1199.5 L531.1,1200.8 L532.3,1202 L533.7,1203.1 L535.2,1204.1 L554,1188.6 L552.4,1186.1 L550.7,1183.8 L548.6,1181.8 L546.1,1180Z" fill="url(#hat6)" stroke="url(#hat6)" stroke-width="2" stroke-linejoin="round"/><path d="M540.1,1210.3 L540.8,1212 L541.6,1213.6 L542.6,1215.2 L543.7,1216.7 L564.1,1209.6 L563.7,1206.9 L562.9,1204.2 L561.8,1201.7 L560.4,1199.4Z" fill="url(#hat6)" stroke="url(#hat6)" stroke-width="2" stroke-linejoin="round"/><path d="M546.6,1224.5 L546.7,1226.4 L547,1228.3 L547.5,1230.1 L548.1,1232 L566.4,1231.8 L566.8,1229.1 L566.9,1226.5 L566.7,1223.9 L566.2,1221.3Z" fill="url(#hat6)" stroke="url(#hat6)" stroke-width="2" stroke-linejoin="round"/><path d="M548.1,1240.6 L547.4,1242.5 L546.9,1244.3 L546.6,1246.2 L546.4,1248.2 L562.9,1253.2 L563.9,1250.8 L564.7,1248.3 L565.1,1245.7 L565.2,1243.1Z" fill="url(#hat6)" stroke="url(#hat6)" stroke-width="2" stroke-linejoin="round"/><path d="M543.2,1256.1 L542,1257.6 L540.9,1259.2 L539.9,1260.9 L539.1,1262.6 L552.9,1273 L554.7,1271.1 L556.3,1268.8 L557.6,1266.5 L558.5,1264Z" fill="url(#hat6)" stroke="url(#hat6)" stroke-width="2" stroke-linejoin="round"/><path d="M533.3,1268.9 L531.7,1269.8 L530.1,1270.9 L528.6,1272 L527.1,1273.3 L535.6,1288.3 L538.3,1287.2 L540.6,1285.7 L542.8,1283.9 L544.8,1281.8Z" fill="url(#hat6)" stroke="url(#hat6)" stroke-width="2" stroke-linejoin="round"/><path d="M519.4,1276.5 L517.5,1276.6 L515.6,1276.8 L513.8,1277.1 L512,1277.5 L512.1,1294.8 L515.2,1295 L518.3,1294.8 L521.2,1294.2 L523.9,1293.2Z" fill="url(#hat6)" stroke="url(#hat6)" stroke-width="2" stroke-linejoin="round"/></g><ellipse cx="511" cy="1233" rx="18" ry="25" fill="#2e2e2e"/><g filter="url(#wob)"><ellipse cx="514" cy="1235.5" rx="14" ry="20" fill="#fff" transform="rotate(-25 514 1235.5)"/></g><g filter="url(#wob)"><path d="M642.3,1252.3 L639.5,1251 L638.5,1250.2 L639,1250 L638.7,1249.8 L638.2,1249.8 L637.6,1250 L636.7,1250.2 L636.2,1249.8 L636.1,1248.8 L635.8,1247.8 L635.3,1247 L634.7,1246.5 L633.8,1245.9 L632.6,1245.3 L631.6,1244.6 L631.6,1243.2 L631.6,1241.9 L631.4,1240.7 L631,1239.5 L630.3,1238.3 L629.4,1237.2 L628.4,1235.9 L628.4,1234.6 L628.8,1233.2 L629,1231.6 L629,1230.3 L628.8,1228.8 L628.3,1227.4 L627.7,1226 L627.5,1224.5 L628.5,1223.2 L629.4,1221.8 L630.2,1220.6 L630.7,1219.3 L630.9,1218.1 L630.9,1216.8 L630.8,1215.3 L631.8,1214.4 L633.1,1213.6 L634.1,1212.9 L634.9,1212.2 L635.4,1211.3 L635.7,1210.3 L635.8,1209.2 L636.3,1208.5 L637.6,1208.4 L638.5,1208.5 L639.3,1208.4 L639.6,1208.2 L639.7,1207.8 L639.6,1207.2 L639.5,1206.4 L640,1207.1 L640.4,1207.7 L640.5,1208.2 L640.5,1208.4 L640.1,1208.2 L640,1207.7 L640,1206.9 L639.7,1206.9 L639.6,1207.6 L639.5,1208.2 L639.4,1208.4 L639.6,1208.3 L639.9,1207.9 L640.5,1207.4 L641.3,1207 L641.2,1207.8 L641.3,1208.6 L641.5,1209.2 L642.1,1209.7 L642.9,1210.1 L643.9,1210.2 L645.2,1210.6 L645.7,1211.5 L645.7,1212.6 L646,1213.9 L646.4,1214.9 L647.1,1215.9 L648,1216.8 L649.3,1217.9 L650.2,1218.9 L650,1220.5 L649.9,1221.8 L650,1223.2 L650.3,1224.5 L650.9,1225.9 L651.7,1227.2 L652.6,1228.8 L652.2,1230.1 L651.4,1231.5 L650.8,1232.8 L650.4,1234.2 L650.3,1235.5 L650.4,1237 L650.7,1238.4 L650.5,1239.7 L649.3,1240.8 L648.4,1241.7 L647.6,1242.7 L647.1,1243.7 L646.8,1244.8 L646.6,1246 L646.6,1247.3 L645.6,1247.7 L644.5,1248 L643.5,1248.4 L643,1248.7 L642.6,1249.2 L642.5,1249.9 L642.3,1250.7 L641.9,1251.1 L641.2,1250.6 L640.8,1250.3 L640.4,1250.1 L640.1,1250.2 L641,1250.5 L639.8,1251.1 L636.8,1251.7 L636,1307.9 L638,1308.7 L641.8,1309.3 L647.7,1309.3 L652.3,1308.6 L656.8,1307.3 L661,1305.4 L665,1303.1 L669,1301.2 L673.2,1299.5 L677.2,1297.5 L680.8,1295 L684,1292 L686.6,1288.9 L688.9,1285.6 L691.1,1282 L694,1279.3 L696.6,1276.4 L698.9,1273.3 L700.7,1269.9 L702.1,1266.4 L703.2,1262.7 L703.8,1259.1 L705.2,1255.7 L706.9,1252.4 L708.2,1249.1 L709.1,1245.5 L709.6,1242 L709.6,1238.3 L709.4,1234.8 L709.3,1231.1 L710.3,1227.7 L711,1224 L711.4,1220.5 L711.3,1216.8 L710.8,1213.3 L709.9,1209.7 L708.7,1206.3 L708.5,1202.5 L708.4,1198.8 L707.8,1195 L706.8,1191.2 L705.3,1187.6 L703.5,1184.4 L701.2,1181.2 L699.2,1177.8 L697.8,1173.9 L695.9,1170 L693.6,1166.5 L690.9,1163.3 L687.6,1160.3 L684,1157.8 L680,1155.5 L676.7,1152.2 L673.1,1149 L669,1146.4 L664.6,1144.3 L659.8,1142.8 L654.9,1142 L649.9,1141.8 L644.6,1141.3 L639.7,1140.3 L634.6,1140 L629.3,1140.5 L624.4,1141.6 L619.7,1143.4 L615.4,1145.8 L611.3,1148.5 L606.8,1150.1 L602.5,1152.1 L598.6,1154.6 L595.1,1157.6 L592.2,1160.8 L589.6,1164.5 L587.6,1168.2 L585.1,1171.4 L582.3,1174.4 L579.9,1177.6 L577.9,1181 L576.4,1184.7 L575.4,1188.5 L574.7,1192.4 L574.1,1196.2 L572.5,1199.4 L571.2,1202.9 L570.3,1206.6 L569.8,1210.1 L569.8,1213.9 L570.2,1217.4 L570.8,1221.1 L570.4,1224.6 L569.7,1228.2 L569.4,1231.7 L569.5,1235.2 L570,1238.8 L570.9,1242.2 L572.2,1245.7 L573.2,1249.2 L573.5,1252.8 L574,1256.5 L574.9,1260 L576.3,1263.5 L578.1,1266.8 L580.3,1269.9 L582.8,1272.9 L584.3,1276.5 L586,1280 L588,1283.4 L590.6,1286.7 L593.5,1289.5 L596.8,1292 L600.5,1294.3 L604,1296.8 L607.3,1299.8 L611,1302.4 L615,1304.6 L619.3,1306.2 L624.6,1307.4 L628.5,1307.6 L630.6,1307.3Z" fill="#2e2e2e" stroke="#2e2e2e" stroke-width="1" stroke-linejoin="round"/></g><g filter="url(#rough6)"><path d="M632.7,1275.7 L630.8,1274.7 L629,1273.9 L627,1273.1 L624.9,1272.5 L615.3,1289.1 L618.1,1291 L621.2,1292.6 L624.9,1293.8 L628.5,1294.4Z" fill="url(#hat6)" stroke="url(#hat6)" stroke-width="2" stroke-linejoin="round"/><path d="M618.3,1267.5 L617,1265.7 L615.6,1264 L614.1,1262.4 L612.5,1260.9 L596.8,1271.9 L598.4,1274.7 L600.3,1277.3 L602.6,1279.5 L605.3,1281.6Z" fill="url(#hat6)" stroke="url(#hat6)" stroke-width="2" stroke-linejoin="round"/><path d="M608.2,1253.6 L607.6,1251.4 L606.9,1249.3 L606,1247.2 L605,1245.2 L586.6,1250.7 L587.2,1253.7 L588,1256.6 L589.3,1259.4 L590.9,1261.9Z" fill="url(#hat6)" stroke="url(#hat6)" stroke-width="2" stroke-linejoin="round"/><path d="M603.1,1236.9 L603.2,1234.6 L603.1,1232.4 L602.8,1230.1 L602.3,1227.9 L583.2,1228.1 L582.9,1231.1 L582.9,1234 L583.4,1236.9 L584.2,1239.9Z" fill="url(#hat6)" stroke="url(#hat6)" stroke-width="2" stroke-linejoin="round"/><path d="M603.2,1219.4 L604.1,1217.3 L604.9,1215.1 L605.4,1213 L605.8,1210.8 L584.7,1205.1 L583.8,1208 L583.2,1211 L583.1,1214 L583.3,1217Z" fill="url(#hat6)" stroke="url(#hat6)" stroke-width="2" stroke-linejoin="round"/><path d="M609.2,1203.3 L610.7,1201.6 L612,1199.9 L613,1198.1 L614,1196.1 L593.1,1182.5 L591.2,1185 L589.6,1187.8 L588.5,1190.9 L587.8,1193.9Z" fill="url(#hat6)" stroke="url(#hat6)" stroke-width="2" stroke-linejoin="round"/><path d="M619.3,1190.4 L621.1,1189.5 L622.8,1188.4 L624.3,1187.1 L625.6,1185.8 L610.9,1162.9 L607.7,1164.7 L604.9,1166.9 L602.5,1169.4 L600.4,1172.3Z" fill="url(#hat6)" stroke="url(#hat6)" stroke-width="2" stroke-linejoin="round"/><path d="M632.1,1183 L634,1183 L635.9,1182.8 L637.6,1182.4 L639.3,1181.9 L638.4,1153.7 L634.5,1153.5 L630.5,1153.9 L627,1154.9 L623.4,1156.5Z" fill="url(#hat6)" stroke="url(#hat6)" stroke-width="2" stroke-linejoin="round"/><path d="M646.1,1182.6 L647.7,1183.6 L649.3,1184.3 L651,1184.9 L653,1185.3 L666.8,1161.1 L663.9,1159 L660.5,1157.2 L656.8,1156 L653,1155.3Z" fill="url(#hat6)" stroke="url(#hat6)" stroke-width="2" stroke-linejoin="round"/><path d="M659,1189.4 L660.1,1191 L661.4,1192.5 L662.9,1193.8 L664.7,1195.2 L686,1180 L684.5,1177 L682.6,1174.2 L680.3,1171.7 L677.5,1169.4Z" fill="url(#hat6)" stroke="url(#hat6)" stroke-width="2" stroke-linejoin="round"/><path d="M669.2,1201.6 L669.8,1203.7 L670.7,1205.6 L671.7,1207.5 L673,1209.4 L695.4,1202.7 L695.1,1199.5 L694.4,1196.5 L693.2,1193.5 L691.7,1190.8Z" fill="url(#hat6)" stroke="url(#hat6)" stroke-width="2" stroke-linejoin="round"/><path d="M675.6,1217.3 L675.7,1219.5 L676,1221.7 L676.5,1223.9 L677.2,1226.1 L697.3,1225.8 L697.8,1222.9 L698,1219.9 L697.8,1216.9 L697.2,1213.9Z" fill="url(#hat6)" stroke="url(#hat6)" stroke-width="2" stroke-linejoin="round"/><path d="M677.2,1234.7 L676.5,1236.8 L676,1239 L675.7,1241.3 L675.5,1243.5 L694,1248.6 L695.1,1245.7 L695.9,1242.9 L696.2,1239.9 L696.2,1236.9Z" fill="url(#hat6)" stroke="url(#hat6)" stroke-width="2" stroke-linejoin="round"/><path d="M672.7,1251.6 L671.4,1253.5 L670.3,1255.4 L669.3,1257.4 L668.5,1259.5 L684.5,1270 L686.5,1267.6 L688.1,1264.9 L689.4,1262.1 L690.3,1259.2Z" fill="url(#hat6)" stroke="url(#hat6)" stroke-width="2" stroke-linejoin="round"/><path d="M663.3,1266 L661.4,1267.3 L659.7,1268.6 L658.1,1270 L656.5,1271.6 L666.9,1287.7 L670,1286.1 L672.6,1284.2 L675,1281.9 L677.1,1279.3Z" fill="url(#hat6)" stroke="url(#hat6)" stroke-width="2" stroke-linejoin="round"/><path d="M649.2,1275.1 L647.1,1275.4 L645,1275.7 L642.9,1276.1 L640.9,1276.6 L640.9,1295.7 L644.9,1296 L648.6,1295.6 L652,1294.7 L655.3,1293.3Z" fill="url(#hat6)" stroke="url(#hat6)" stroke-width="2" stroke-linejoin="round"/></g><ellipse cx="640" cy="1227" rx="18" ry="30" fill="#2e2e2e"/><g filter="url(#wob)"><ellipse cx="635" cy="1230" rx="11" ry="23" fill="#fff" transform="rotate(-8 635 1230)"/></g><g filter="url(#wob)"><path d="M760.9,1238.7 L758.1,1237.5 L757,1236.6 L757.3,1236.4 L757.1,1236.3 L756.5,1236.3 L755.7,1236.5 L754.8,1236.8 L754.4,1236 L754.1,1234.9 L753.8,1234.1 L753.3,1233.5 L752.5,1232.9 L751.6,1232.5 L750.4,1232 L749.9,1230.9 L750,1229.7 L749.9,1228.5 L749.5,1227.4 L749,1226.3 L748.1,1225.3 L747.1,1224.3 L746.7,1223 L747.2,1221.7 L747.4,1220.3 L747.5,1219 L747.3,1217.8 L746.8,1216.4 L746.2,1215 L746,1213.7 L747,1212.5 L748,1211.3 L748.7,1210.2 L749.1,1209.1 L749.3,1207.9 L749.3,1206.7 L749.3,1205.4 L750.6,1204.7 L751.8,1204.1 L752.8,1203.4 L753.5,1202.7 L753.8,1202 L754,1200.9 L754,1200 L755.2,1199.8 L756.2,1200 L756.9,1200.1 L757.6,1199.9 L757.9,1199.5 L757.9,1199 L757.9,1198.2 L758.4,1198.4 L758.6,1199.2 L758.9,1199.7 L759.1,1199.9 L758.9,1199.7 L759,1199.2 L759.2,1198.4 L759.1,1198.4 L759.1,1199.2 L759.2,1199.8 L759.3,1200 L759.3,1199.8 L759.8,1199.4 L760.5,1198.9 L761.1,1198.8 L761.3,1199.8 L761.3,1200.5 L761.6,1200.9 L762.3,1201.4 L763.1,1201.5 L764.4,1201.7 L765.4,1202 L765.4,1203.1 L765.5,1204.3 L765.9,1205.3 L766.5,1206.2 L767.3,1206.8 L768.5,1207.8 L769.8,1208.7 L769.6,1210 L769.4,1211.3 L769.5,1212.5 L769.8,1213.7 L770.3,1214.9 L771.2,1216.2 L772.1,1217.5 L771.7,1219 L770.9,1220.2 L770.3,1221.4 L769.9,1222.6 L769.9,1223.9 L770,1225.2 L770.2,1226.6 L769.7,1227.7 L768.6,1228.6 L767.7,1229.4 L767.1,1230.2 L766.6,1231.2 L766.4,1232.3 L766.3,1233.4 L765.8,1234.4 L764.7,1234.5 L763.8,1234.6 L763,1235 L762.5,1235.5 L762.2,1236.2 L761.9,1237 L761.5,1237.7 L761,1237.1 L760.3,1236.8 L759.8,1236.6 L759.4,1236.7 L760,1237 L758.7,1237.5 L755.8,1238.2 L755,1293.5 L757.1,1294.2 L760.8,1294.9 L766.4,1294.9 L770.9,1294.2 L775.2,1292.9 L779.4,1291.1 L783.4,1288.7 L787.6,1287.3 L791.7,1285.8 L795.6,1283.7 L799.1,1281.3 L802.1,1278.5 L804.9,1275.2 L807.3,1271.8 L809.9,1268.9 L812.9,1266.1 L815.5,1263.1 L817.7,1259.9 L819.5,1256.3 L820.8,1252.7 L821.7,1248.9 L822.9,1245.4 L824.7,1242.1 L826.2,1238.6 L827.3,1235 L827.9,1231.3 L828.1,1227.6 L827.8,1223.9 L827.8,1220.4 L828.8,1216.7 L829.6,1213 L829.9,1209.2 L829.7,1205.5 L829.1,1201.8 L828,1198.1 L826.8,1194.5 L826.8,1190.6 L826.5,1186.9 L825.6,1182.9 L824.3,1179.2 L822.5,1175.7 L820.3,1172.4 L817.7,1169.3 L816,1165.4 L814.3,1161.6 L812,1157.9 L809.3,1154.6 L806,1151.6 L802.3,1149.1 L798.5,1147 L794.9,1144.2 L791.3,1141.1 L787.4,1138.5 L782.8,1136.4 L778.2,1135.1 L773.4,1134.4 L768.5,1134.3 L763.5,1133.7 L758.7,1132.8 L753.8,1132.5 L748.6,1132.9 L743.9,1134 L739.4,1135.8 L734.9,1138.2 L730.8,1140.4 L726.4,1141.9 L722.2,1143.8 L718.3,1146.3 L715,1149.1 L712,1152.5 L709.5,1156.2 L707.3,1159.7 L704.2,1162.7 L701.4,1165.7 L699,1169.1 L697.2,1172.7 L695.9,1176.4 L695,1180.3 L694.5,1184.2 L692.7,1187.7 L691.3,1191.2 L690.2,1194.8 L689.5,1198.6 L689.4,1202.3 L689.7,1206.1 L690.3,1209.9 L689.8,1213.5 L689.2,1217.2 L688.9,1220.7 L689,1224.5 L689.7,1228.1 L690.7,1231.7 L692.1,1235.2 L692.9,1238.8 L693.3,1242.6 L694.1,1246.3 L695.3,1249.9 L697,1253.3 L699.1,1256.5 L701.6,1259.7 L703.8,1262.8 L705.5,1266.4 L707.6,1270 L710,1273.1 L713,1276.1 L716.4,1278.6 L720,1280.7 L723.7,1282.8 L726.9,1285.7 L730.6,1288.3 L734.5,1290.4 L739,1292 L744.1,1293.1 L747.8,1293.3 L750,1292.9Z" fill="#2e2e2e" stroke="#2e2e2e" stroke-width="1" stroke-linejoin="round"/></g><g filter="url(#rough6)"><path d="M751.6,1262.2 L749.8,1261.3 L747.9,1260.6 L746,1259.9 L744,1259.3 L735.5,1275.4 L738.1,1277.1 L741.1,1278.5 L744.4,1279.5 L747.8,1280Z" fill="url(#hat6)" stroke="url(#hat6)" stroke-width="2" stroke-linejoin="round"/><path d="M737.1,1254.6 L735.9,1253 L734.5,1251.4 L733,1250 L731.4,1248.6 L717,1259.7 L718.6,1262.2 L720.5,1264.6 L722.8,1266.6 L725.3,1268.4Z" fill="url(#hat6)" stroke="url(#hat6)" stroke-width="2" stroke-linejoin="round"/><path d="M726.9,1241.4 L726.3,1239.4 L725.6,1237.4 L724.7,1235.5 L723.6,1233.6 L706.3,1239.3 L706.9,1242.1 L707.8,1244.8 L709.1,1247.4 L710.7,1249.8Z" fill="url(#hat6)" stroke="url(#hat6)" stroke-width="2" stroke-linejoin="round"/><path d="M721.6,1225.3 L721.7,1223.2 L721.6,1221.1 L721.3,1219 L720.9,1216.9 L702.7,1217.1 L702.4,1219.9 L702.4,1222.7 L702.9,1225.5 L703.6,1228.3Z" fill="url(#hat6)" stroke="url(#hat6)" stroke-width="2" stroke-linejoin="round"/><path d="M721.8,1208.4 L722.7,1206.4 L723.5,1204.4 L724,1202.4 L724.4,1200.4 L704.4,1194.5 L703.4,1197.3 L702.9,1200.1 L702.7,1203 L702.9,1205.8Z" fill="url(#hat6)" stroke="url(#hat6)" stroke-width="2" stroke-linejoin="round"/><path d="M728.1,1193 L729.5,1191.4 L730.8,1189.9 L731.9,1188.2 L732.8,1186.5 L713.2,1172.6 L711.3,1175 L709.8,1177.6 L708.6,1180.4 L707.8,1183.3Z" fill="url(#hat6)" stroke="url(#hat6)" stroke-width="2" stroke-linejoin="round"/><path d="M738.4,1181 L740.1,1180.2 L741.7,1179.3 L743.2,1178.2 L744.6,1176.9 L731.2,1154.4 L728.2,1155.9 L725.5,1157.8 L723.1,1160.1 L721,1162.6Z" fill="url(#hat6)" stroke="url(#hat6)" stroke-width="2" stroke-linejoin="round"/><path d="M751.3,1174.3 L753.2,1174.4 L754.9,1174.2 L756.6,1173.9 L758.3,1173.4 L757.5,1146.1 L754,1145.9 L750.3,1146.3 L747,1147.2 L743.8,1148.5Z" fill="url(#hat6)" stroke="url(#hat6)" stroke-width="2" stroke-linejoin="round"/><path d="M765.2,1174.1 L766.8,1175 L768.4,1175.7 L770.1,1176.1 L771.9,1176.5 L784.6,1152.7 L781.7,1150.8 L778.5,1149.2 L775.2,1148.2 L771.8,1147.6Z" fill="url(#hat6)" stroke="url(#hat6)" stroke-width="2" stroke-linejoin="round"/><path d="M778.2,1180.4 L779.4,1181.9 L780.7,1183.2 L782.1,1184.4 L783.8,1185.6 L803.7,1170.1 L802.2,1167.4 L800.3,1164.8 L798,1162.5 L795.4,1160.5Z" fill="url(#hat6)" stroke="url(#hat6)" stroke-width="2" stroke-linejoin="round"/><path d="M788.5,1191.9 L789.2,1193.8 L790.1,1195.6 L791.1,1197.3 L792.3,1199 L813.7,1192 L813.3,1189.1 L812.5,1186.2 L811.4,1183.4 L809.8,1180.9Z" fill="url(#hat6)" stroke="url(#hat6)" stroke-width="2" stroke-linejoin="round"/><path d="M795.1,1206.9 L795.2,1208.9 L795.5,1211 L796,1213 L796.7,1215.1 L815.8,1214.8 L816.3,1212 L816.5,1209.2 L816.2,1206.4 L815.7,1203.5Z" fill="url(#hat6)" stroke="url(#hat6)" stroke-width="2" stroke-linejoin="round"/><path d="M796.6,1223.7 L795.9,1225.7 L795.4,1227.8 L795.1,1229.8 L794.9,1232 L812.4,1237.1 L813.5,1234.4 L814.2,1231.7 L814.6,1228.9 L814.7,1226.1Z" fill="url(#hat6)" stroke="url(#hat6)" stroke-width="2" stroke-linejoin="round"/><path d="M791.8,1239.9 L790.6,1241.7 L789.4,1243.4 L788.5,1245.2 L787.6,1247.2 L802.4,1257.8 L804.4,1255.5 L806,1253.1 L807.3,1250.5 L808.3,1247.8Z" fill="url(#hat6)" stroke="url(#hat6)" stroke-width="2" stroke-linejoin="round"/><path d="M782.1,1253.5 L780.3,1254.6 L778.6,1255.8 L777,1257.1 L775.5,1258.5 L784.8,1274.2 L787.6,1272.8 L790.2,1271.1 L792.5,1269.1 L794.6,1266.8Z" fill="url(#hat6)" stroke="url(#hat6)" stroke-width="2" stroke-linejoin="round"/><path d="M767.9,1261.8 L765.8,1262 L763.8,1262.3 L761.9,1262.6 L759.9,1263.1 L759.9,1281.3 L763.4,1281.5 L766.9,1281.2 L770.1,1280.5 L773,1279.3Z" fill="url(#hat6)" stroke="url(#hat6)" stroke-width="2" stroke-linejoin="round"/></g><ellipse cx="759" cy="1216" rx="18.5" ry="27.5" fill="#2e2e2e"/><g filter="url(#wob)"><ellipse cx="760" cy="1217.5" rx="10.5" ry="17" fill="#fff" transform="rotate(12 760 1217.5)"/></g><g filter="url(#wob)"><path d="M850,1231.3 L847.2,1230 L845.9,1229.1 L846.2,1228.8 L846.2,1228.7 L845.7,1228.7 L845,1228.9 L844,1229.1 L843.4,1228.8 L843.2,1227.7 L843,1226.9 L842.6,1226.1 L841.9,1225.5 L841,1225 L840,1224.5 L838.8,1224 L838.6,1222.7 L838.7,1221.5 L838.6,1220.3 L838.2,1219.2 L837.6,1218 L836.8,1217.1 L835.7,1215.9 L835.2,1214.7 L835.6,1213.4 L835.9,1211.9 L836.1,1210.7 L835.9,1209.3 L835.6,1208.1 L835,1206.6 L834.3,1205.3 L835,1203.9 L836,1202.8 L836.8,1201.5 L837.5,1200.4 L837.8,1199.1 L837.9,1198 L837.9,1196.6 L838,1195.4 L839.3,1194.8 L840.5,1194.1 L841.6,1193.3 L842.2,1192.6 L842.6,1191.8 L842.8,1190.8 L842.9,1189.8 L843.6,1189.6 L844.8,1189.6 L845.8,1189.6 L846.3,1189.7 L846.7,1189.3 L846.8,1188.9 L846.9,1188.1 L846.9,1187.5 L847.4,1188.2 L847.8,1188.9 L847.9,1189.3 L847.9,1189.5 L847.9,1189.2 L847.9,1188.7 L848.2,1187.9 L848.3,1187.9 L848.2,1188.7 L848.2,1189.3 L848.1,1189.5 L848.2,1189.4 L848.6,1189.1 L849.4,1188.6 L850.2,1188.1 L850.3,1189 L850.2,1189.7 L850.5,1190.4 L851,1190.9 L851.6,1191 L852.6,1191.3 L853.9,1191.5 L854.7,1192.1 L854.7,1193.2 L854.9,1194.5 L855.2,1195.4 L855.8,1196.3 L856.7,1197.1 L857.8,1198.1 L859.1,1198.9 L859.1,1200.3 L858.9,1201.6 L858.9,1202.9 L859.1,1204.1 L859.6,1205.4 L860.3,1206.6 L861.2,1208.1 L861.6,1209.4 L860.8,1210.8 L860.1,1211.9 L859.6,1213.3 L859.3,1214.4 L859.3,1215.6 L859.4,1217.1 L859.7,1218.5 L859,1219.7 L857.9,1220.5 L857,1221.3 L856.3,1222.2 L855.9,1223.1 L855.7,1224.2 L855.6,1225.4 L855.3,1226.6 L854.1,1226.8 L853.1,1227 L852.4,1227.2 L851.7,1227.7 L851.4,1228.2 L851,1229 L850.9,1229.9 L850.4,1230 L849.7,1229.5 L849.2,1229.2 L848.9,1229 L848.8,1229.1 L849.1,1229.5 L847.7,1230.1 L844.7,1230.7 L843.8,1288.9 L845.8,1289.7 L849.4,1290.3 L854.7,1290.5 L859.6,1289.9 L864.1,1288.7 L868.4,1286.9 L872.5,1284.7 L876.5,1282.8 L880.8,1281.4 L884.7,1279.6 L888.5,1277.3 L891.7,1274.7 L894.8,1271.5 L897.3,1268.2 L899.5,1264.8 L902.4,1262.1 L905.3,1259.3 L907.8,1256.2 L910,1252.9 L911.7,1249.3 L913,1245.6 L913.9,1241.9 L914.9,1238.4 L916.8,1235 L918.3,1231.7 L919.5,1228.1 L920.3,1224.4 L920.6,1220.8 L920.5,1217 L920.1,1213.4 L920.8,1209.7 L921.7,1206.1 L922.3,1202.3 L922.4,1198.7 L922.1,1194.9 L921.4,1191.3 L920.3,1187.6 L919.2,1184.1 L919.1,1180.2 L918.8,1176.4 L918,1172.5 L916.7,1168.7 L914.9,1165.1 L912.9,1161.9 L910.3,1158.7 L908.5,1155.1 L906.9,1151.3 L904.8,1147.5 L902.1,1143.9 L899.2,1140.8 L895.8,1138.1 L891.9,1135.6 L888,1133.5 L884.6,1130.2 L881,1127.4 L876.9,1124.8 L872.4,1122.9 L867.6,1121.6 L862.7,1120.9 L857.7,1120.8 L852.8,1120.3 L848.2,1119.3 L843.2,1119 L838.1,1119.3 L833.2,1120.3 L828.5,1121.9 L824.1,1124.2 L820,1126.8 L815.5,1128.3 L811.3,1130 L807.1,1132.3 L803.6,1134.9 L800.2,1138.1 L797.6,1141.6 L795.3,1145.2 L792.7,1148.7 L789.7,1151.6 L787,1154.8 L784.7,1158.1 L782.9,1161.8 L781.7,1165.4 L780.8,1169.4 L780.2,1173.3 L778.6,1176.9 L777.1,1180.2 L775.9,1183.9 L775.2,1187.5 L774.9,1191.3 L775,1195 L775.5,1198.8 L775.8,1202.4 L775,1206.1 L774.5,1209.7 L774.4,1213.5 L774.7,1217 L775.4,1220.7 L776.5,1224.2 L778,1227.7 L778.6,1231.4 L779,1235.1 L779.8,1238.8 L780.9,1242.3 L782.6,1245.9 L784.6,1249.2 L787,1252.3 L789.5,1255.3 L791.1,1259 L793,1262.5 L795.3,1265.9 L798,1268.9 L801.1,1271.6 L804.7,1274.1 L808.4,1276.1 L811.9,1278.7 L815.2,1281.4 L818.9,1283.9 L823,1286 L827.6,1287.6 L832.8,1288.6 L836.4,1288.7 L838.5,1288.3Z" fill="#2e2e2e" stroke="#2e2e2e" stroke-width="1" stroke-linejoin="round"/></g><g filter="url(#rough6)"><path d="M840.7,1254.7 L838.8,1253.8 L836.8,1253 L834.8,1252.3 L832.7,1251.7 L822.5,1270.2 L825.6,1272.2 L828.9,1273.8 L832.5,1274.9 L836.3,1275.4Z" fill="url(#hat6)" stroke="url(#hat6)" stroke-width="2" stroke-linejoin="round"/><path d="M826.1,1247.1 L824.7,1245.2 L823.3,1243.5 L821.7,1242 L820,1240.5 L803.1,1253.3 L804.9,1256.1 L807,1258.8 L809.4,1261.1 L812.2,1263Z" fill="url(#hat6)" stroke="url(#hat6)" stroke-width="2" stroke-linejoin="round"/><path d="M815.6,1233.5 L815,1231.3 L814.2,1229.1 L813.2,1227.1 L812.1,1225 L791.9,1231.4 L792.5,1234.5 L793.6,1237.6 L795,1240.5 L796.8,1243.2Z" fill="url(#hat6)" stroke="url(#hat6)" stroke-width="2" stroke-linejoin="round"/><path d="M810.1,1216.9 L810.2,1214.5 L810.1,1212.3 L809.8,1210 L809.3,1207.7 L788.2,1207.9 L787.9,1211.1 L787.9,1214.2 L788.4,1217.3 L789.3,1220.3Z" fill="url(#hat6)" stroke="url(#hat6)" stroke-width="2" stroke-linejoin="round"/><path d="M810.2,1199.4 L811.2,1197.2 L812,1195.1 L812.6,1192.9 L813,1190.7 L790.1,1184 L789,1187.1 L788.4,1190.2 L788.2,1193.4 L788.4,1196.6Z" fill="url(#hat6)" stroke="url(#hat6)" stroke-width="2" stroke-linejoin="round"/><path d="M816.5,1183.4 L818.1,1181.7 L819.4,1180 L820.6,1178.2 L821.5,1176.3 L799.5,1160.7 L797.4,1163.4 L795.7,1166.2 L794.4,1169.4 L793.5,1172.7Z" fill="url(#hat6)" stroke="url(#hat6)" stroke-width="2" stroke-linejoin="round"/><path d="M826.9,1170.9 L828.9,1170 L830.6,1169 L832.1,1167.8 L833.6,1166.4 L818.7,1141.3 L815.3,1143.1 L812.3,1145.2 L809.6,1147.8 L807.3,1150.7Z" fill="url(#hat6)" stroke="url(#hat6)" stroke-width="2" stroke-linejoin="round"/><path d="M840.1,1163.9 L842.1,1163.9 L843.9,1163.8 L845.7,1163.4 L847.5,1162.9 L846.8,1132.7 L842.7,1132.4 L838.7,1132.8 L834.8,1133.8 L831.3,1135.4Z" fill="url(#hat6)" stroke="url(#hat6)" stroke-width="2" stroke-linejoin="round"/><path d="M854.1,1163.6 L855.8,1164.5 L857.5,1165.3 L859.3,1165.8 L861.2,1166.1 L875.6,1140 L872.3,1137.7 L868.8,1136 L865.1,1134.8 L861.2,1134.2Z" fill="url(#hat6)" stroke="url(#hat6)" stroke-width="2" stroke-linejoin="round"/><path d="M867.3,1170 L868.5,1171.6 L869.9,1173.1 L871.5,1174.4 L873.2,1175.6 L895.7,1158.6 L894,1155.5 L891.9,1152.6 L889.3,1150.1 L886.4,1147.9Z" fill="url(#hat6)" stroke="url(#hat6)" stroke-width="2" stroke-linejoin="round"/><path d="M877.9,1181.9 L878.5,1183.9 L879.4,1185.8 L880.5,1187.7 L881.9,1189.6 L906.1,1181.9 L905.7,1178.7 L904.8,1175.4 L903.5,1172.3 L901.8,1169.4Z" fill="url(#hat6)" stroke="url(#hat6)" stroke-width="2" stroke-linejoin="round"/><path d="M884.5,1197.3 L884.7,1199.6 L885,1201.8 L885.5,1204 L886.2,1206.3 L908.2,1206.1 L908.8,1202.9 L909,1199.7 L908.7,1196.5 L908.1,1193.5Z" fill="url(#hat6)" stroke="url(#hat6)" stroke-width="2" stroke-linejoin="round"/><path d="M886.2,1214.7 L885.4,1216.9 L884.9,1219.1 L884.5,1221.4 L884.3,1223.7 L904.6,1229.6 L905.9,1226.6 L906.7,1223.6 L907.1,1220.5 L907.2,1217.4Z" fill="url(#hat6)" stroke="url(#hat6)" stroke-width="2" stroke-linejoin="round"/><path d="M881.4,1231.5 L880,1233.4 L878.8,1235.3 L877.7,1237.3 L876.8,1239.4 L894.1,1251.6 L896.3,1249.1 L898.1,1246.5 L899.5,1243.5 L900.6,1240.4Z" fill="url(#hat6)" stroke="url(#hat6)" stroke-width="2" stroke-linejoin="round"/><path d="M871.5,1245.6 L869.6,1246.8 L867.8,1248.1 L866.1,1249.5 L864.5,1251 L875.3,1269.2 L878.5,1267.7 L881.4,1265.8 L884,1263.4 L886.2,1260.8Z" fill="url(#hat6)" stroke="url(#hat6)" stroke-width="2" stroke-linejoin="round"/><path d="M857.2,1254.3 L855,1254.4 L852.9,1254.7 L850.9,1255.1 L848.8,1255.6 L848.7,1276.7 L852.6,1277 L856.5,1276.7 L860.1,1275.8 L863.4,1274.5Z" fill="url(#hat6)" stroke="url(#hat6)" stroke-width="2" stroke-linejoin="round"/></g><ellipse cx="848" cy="1207" rx="19" ry="29" fill="#2e2e2e"/><g filter="url(#wob)"><ellipse cx="847" cy="1207" rx="12.5" ry="26" fill="#fff" transform="rotate(5 847 1207)"/></g><g filter="url(#wob)"><path d="M691,1287 L705,1250 L719,1281 Z" fill="#fff" stroke="#fff" stroke-width="2" stroke-linejoin="round"/></g></g>
<g id="worm7"><path d="M62.8,630.3 L61.8,640.5 L62.9,645.1 L64.3,648.6 L65.8,651.6 L67.3,654.1 L68.9,656.2 L70.6,658 L72.2,659.4 L73.8,660.5 L75.4,661.5 L77.3,662.3 L79,663.8 L80.8,665.1 L82.5,666.3 L84.2,667.6 L86,668.7 L87.7,669.8 L89.5,670.8 L91.3,671.8 L93.1,672.7 L94.9,673.6 L96.7,674.5 L98.2,676.1 L99.7,677.8 L101.2,679.3 L102.7,680.8 L104.1,682.2 L105.6,683.5 L107.3,684.9 L108.9,686.1 L110.4,687.2 L111.9,688.3 L113.4,689.3 L114.2,690.9 L115.2,692.6 L116.2,694.3 L117.2,696 L118.3,697.6 L119.6,699.4 L120.7,700.9 L121.9,702.4 L123,703.8 L124.2,705.1 L125.3,706.4 L126,708.4 L126.3,709.9 L126.5,711.3 L126.8,712.7 L127.1,714.1 L127.5,715.5 L127.8,716.5 L128.4,718 L128.9,719.5 L129.4,721.1 L129.9,722.8 L129.7,724.5 L129.4,726.2 L129.1,728 L128.8,729.6 L128.6,730.6 L128.5,732.1 L128.3,733.7 L128.2,735.3 L128.2,736.5 L128.1,738.2 L127.9,740 L127,741.5 L126,743.1 L125.2,744.3 L124.3,745.9 L123.4,747.4 L122.6,749 L121.8,750.6 L121,752.2 L120.3,753.9 L119.6,755.6 L118.8,757.2 L117.5,758.4 L116.2,759.5 L115.2,760.2 L114,761.3 L112.7,762.4 L111.4,763.5 L110.1,764.6 L108.9,765.8 L107.7,767 L106.5,768.2 L105.7,769.2 L104.1,769.7 L102.5,770.2 L101,770.6 L99.5,771 L98,771.5 L96.4,772 L94.9,772.6 L93.4,773.3 L92.3,773.8 L90.8,774.5 L89.3,775.2 L87.6,775.1 L86,774.9 L84.5,774.7 L83.1,774.6 L81.6,774.4 L80,774.4 L78.4,774.4 L76.7,774.4 L74.6,774.5 L72.9,774.6 L71.3,774.7 L69.7,774.1 L68.3,773.5 L67.1,772.8 L65.9,772.3 L65,771.9 L64.4,771.6 L41,822.9 L44.9,824.5 L48.7,825.7 L52.4,826.5 L55.9,827.1 L59.4,827.5 L62.8,827.7 L66,828.6 L69.3,829.3 L72.1,829.8 L75.4,830.2 L78.8,830.3 L82.2,830.3 L85.7,830 L89.2,829.5 L92.7,828.7 L96,827.8 L99.3,826.8 L102.6,826.4 L105.9,825.9 L109.6,825.1 L112.8,824.2 L116,823.1 L119.1,821.8 L122.1,820.3 L125.1,818.6 L128,816.7 L130.7,814.6 L133.4,812.5 L136.6,810.7 L139.5,809 L142.2,807.2 L144.9,805.2 L147.4,803 L149.7,800.7 L151.9,798.3 L154.1,795.7 L156.4,792.7 L158.2,789.9 L159.8,787.1 L162,784.7 L164.1,782.2 L166,779.7 L167.8,777.1 L169.4,774.3 L170.9,771.5 L172.2,768.6 L173.4,765.6 L174.5,762.2 L175.3,759.1 L176,756 L177.4,753 L178.6,749.9 L179.7,746.3 L180.6,743 L181.2,739.6 L181.6,736.2 L181.8,732.3 L181.8,728.9 L181.5,725.7 L181.1,722.4 L180.5,719.2 L180.6,715.9 L180.5,712.5 L180.3,709.1 L179.8,705.8 L179,701.9 L178.1,698.5 L176.9,695.2 L175.5,691.9 L173.8,688.7 L172.1,685.7 L170.4,683.2 L169.2,680.1 L167.9,677.1 L166.4,674.3 L164.9,671.5 L163.3,668.9 L161.7,666.7 L159.8,664.3 L157.8,662 L155.7,659.8 L153.5,657.7 L151.1,655.5 L149.2,652.8 L147.2,650.3 L145.2,648 L143.1,645.7 L141.1,643.8 L138.8,641.8 L136.5,640 L134.1,638.4 L131.6,636.9 L129.2,635.5 L126.7,634.1 L124.5,632.1 L122.2,630.1 L119.9,628.3 L117.5,626.5 L115,624.9 L112.5,623.5 L109.9,622.2 L107.3,621 L104.6,619.9 L101.9,618.9 L99.3,618.1 L96.7,616.8 L93.7,615.6 L90.8,614.8 L87.8,614.4 L84.8,614.4 L81.7,614.8 L78.6,615.6 L75.3,616.9 L72,618.8 L68.4,621.8 L62.8,630.3Z" fill="#323232" stroke="#323232" stroke-width="1" stroke-linejoin="round"/><g filter="url(#rough7)"><path d="M73.8,641 L75.3,642.6 L76.8,644 L78.3,645.2 L79.9,646.2 L87.2,629.7 L85,629.2 L82.8,628.9 L80.6,628.8 L78.3,629Z" fill="url(#hat7)" stroke="url(#hat7)" stroke-width="3" stroke-linejoin="round"/><path d="M88.2,651.5 L90.1,652.9 L92,654.2 L93.9,655.4 L95.8,656.6 L97.7,657.7 L99.7,658.8 L101.6,659.8 L113.3,642.8 L111.2,641.1 L109.1,639.6 L106.9,638.2 L104.7,636.9 L102.4,635.7 L100.1,634.7 L97.7,633.7Z" fill="url(#hat7)" stroke="url(#hat7)" stroke-width="3" stroke-linejoin="round"/><path d="M109.5,665.8 L111.1,667.4 L112.7,669 L114.3,670.5 L115.9,672 L117.7,673.4 L119.4,674.8 L121.2,676.1 L136.1,661.1 L134.4,659.1 L132.6,657.1 L130.8,655.3 L128.8,653.6 L126.7,652.1 L124.6,650.6 L122.4,649.2Z" fill="url(#hat7)" stroke="url(#hat7)" stroke-width="3" stroke-linejoin="round"/><path d="M127.4,683.1 L128.6,685 L129.7,686.9 L131,688.7 L132.3,690.5 L133.6,692.3 L134.9,694 L136.2,695.7 L154.4,684.9 L153.3,682.4 L152,680.1 L150.5,677.8 L149.1,675.7 L147.4,673.7 L145.7,671.7 L143.9,669.8Z" fill="url(#hat7)" stroke="url(#hat7)" stroke-width="3" stroke-linejoin="round"/><path d="M140.4,703.7 L140.9,705.6 L141.4,707.5 L141.9,709.4 L142.5,711.6 L143.1,713.5 L143.6,715.4 L144.2,717.4 L165.1,714.2 L165,711.4 L164.6,708.6 L164,705.9 L163.3,703.3 L162.4,700.6 L161.3,698 L159.9,695.5Z" fill="url(#hat7)" stroke="url(#hat7)" stroke-width="3" stroke-linejoin="round"/><path d="M144.9,726.4 L144.6,728.5 L144.3,730.4 L144.1,732.3 L143.8,734.3 L143.6,736.4 L143.4,738.4 L143.1,740.5 L163.7,745.6 L164.6,742.9 L165.3,740.2 L165.9,737.5 L166.2,734.7 L166.3,731.9 L166.3,728.9 L166,726.2Z" fill="url(#hat7)" stroke="url(#hat7)" stroke-width="3" stroke-linejoin="round"/><path d="M140.3,748.9 L139.2,750.8 L138.2,752.7 L137.2,754.5 L136.2,756.4 L135.2,758.3 L134.3,760.2 L133.4,762.2 L151.2,773.7 L152.8,771.5 L154.4,769.3 L155.8,767 L157,764.6 L158.1,762.1 L159.1,759.6 L159.9,757Z" fill="url(#hat7)" stroke="url(#hat7)" stroke-width="3" stroke-linejoin="round"/><path d="M128,769.5 L126.4,770.9 L124.9,772.2 L123.3,773.6 L121.8,775 L120.2,776.4 L118.7,777.8 L117.2,779.3 L130.3,796.6 L132.6,795 L134.8,793.4 L136.9,791.6 L138.8,789.7 L140.7,787.6 L142.5,785.5 L144.1,783.2Z" fill="url(#hat7)" stroke="url(#hat7)" stroke-width="3" stroke-linejoin="round"/><path d="M109.6,783.9 L107.7,784.5 L105.8,785.2 L103.8,785.8 L101.9,786.5 L100,787.3 L98.1,788 L96.2,788.8 L102.3,810.8 L105.1,810.3 L107.8,809.6 L110.4,808.7 L113,807.6 L115.5,806.3 L117.9,804.9 L120.2,803.3Z" fill="url(#hat7)" stroke="url(#hat7)" stroke-width="3" stroke-linejoin="round"/><path d="M87.5,790.3 L85.5,790.1 L83.6,790 L81.6,789.9 L79.6,789.9 L77.6,789.9 L75.5,789.9 L73.3,789.9 L70.9,813.9 L73.5,814.4 L76.3,814.7 L79,814.8 L81.9,814.8 L84.7,814.5 L87.6,814.1 L90.4,813.5Z" fill="url(#hat7)" stroke="url(#hat7)" stroke-width="3" stroke-linejoin="round"/><path d="M64.5,788.4 L62.7,787.7 L61,787 L59.3,786.3 L57.8,785.7 L56.4,785.1 L55,784.5 L53.7,784 L39,803.1 L41.7,805.4 L44.4,807.2 L47.3,808.8 L50.3,810 L53.2,810.9 L56.1,811.5 L59,812Z" fill="url(#hat7)" stroke="url(#hat7)" stroke-width="3" stroke-linejoin="round"/></g><path d="M64.4,771.6 L63.8,771.5 L63.2,771.3 L63.1,771.6 L62.1,771.3 L61.1,770.9 L61.1,770.3 L60.6,769.2 L60.5,768.6 L60,767.4 L59.8,766.9 L59.5,766.4 L59.7,767 L59.5,767.1 L59,766.1 L58.6,765.5 L58.1,764.6 L58.4,762.9 L58.8,761.4 L59.2,759.8 L59.5,758.3 L59.7,757.1 L59.9,756.1 L59.9,755.2 L60.1,753.9 L59.9,753.4 L59.7,753 L59.4,752.9 L59.6,753.4 L59.9,753.6 L60.4,753.6 L60.9,753.4 L61.6,753 L62.3,752.5 L63.4,751.7 L64.1,751.1 L64.7,750.5 L65,750 L65.5,749.4 L66.5,749.5 L68.1,749.6 L69.3,749.7 L70.6,749.8 L71.9,749.8 L73.2,749.8 L74.6,749.8 L75.9,749.7 L77.1,749.6 L78.2,749.5 L79.7,749.4 L80.6,749.3 L80.3,749.6 L80.2,749.9 L79.8,750 L79.6,750.1 L79.7,750.4 L79.7,750.4 L80.5,751.1 L81.5,752 L82.6,753.1 L83.1,753.1 L83.3,752.7 L83.3,753.4 L83.5,755.1 L84,757.5 L85.1,761.1 L86.7,765.2 L89,769.6 L137.5,740.8 L137.5,740.8 L137.2,740.4 L136.6,739.3 L135.5,737 L134,733.9 L132,730.1 L129.9,725.3 L127.5,721.1 L125.7,718.2 L123.6,715.2 L121,712.1 L117.5,708.6 L113.8,705.7 L109.6,702.9 L104.8,700.6 L100.1,698.9 L95.1,697.7 L91.1,696.3 L87.7,695.3 L83.9,694.5 L80.2,693.9 L76.5,693.5 L72.8,693.4 L69.2,693.6 L65.5,694 L61.8,694.6 L58.1,695.5 L54.8,696.5 L50.9,697.8 L46.8,698.8 L42.4,700.1 L38.4,701.7 L34.8,703.4 L31.7,705.2 L28.3,707.6 L25,710.3 L21.8,713.4 L18.8,716.9 L15.9,721 L13.3,725.6 L10.5,729.8 L8.3,734.1 L6.6,738.3 L5.4,741.8 L4.5,745.8 L3.9,749.7 L3.6,753.5 L3.5,757 L3.7,760.3 L4.1,763.9 L4.5,767.2 L4.5,771.2 L4.7,775.5 L5.2,779.5 L6.3,784.4 L8.2,789.6 L10.2,793.6 L12.5,797.4 L14.8,800.4 L17.7,803.7 L20.4,806.4 L23.8,809.5 L26.5,812.4 L29.4,815.3 L33.4,818.4 L37,820.8 L41,822.9Z" fill="#323232" stroke="#323232" stroke-width="1" stroke-linejoin="round"/><g filter="url(#rough7)"><path d="M48.3,778.6 L47.6,777.2 L46.8,775.5 L46.1,774.1 L45.4,772.8 L44.9,771.8 L44.4,770.6 L43.8,769 L20,773.1 L20.3,776.1 L21.1,779.6 L22.3,783.2 L23.8,786.2 L25.5,789 L27.3,791.3 L29.5,793.8Z" fill="url(#hat7)" stroke="url(#hat7)" stroke-width="3" stroke-linejoin="round"/><path d="M43.4,760.9 L43.7,758.8 L44.1,756.8 L44.4,755 L44.6,753.3 L44.9,751.3 L45.1,749.7 L45.4,748.2 L22.7,739.7 L21.4,742.8 L20.4,745.8 L19.7,748.6 L19.2,751.7 L19,754.7 L19,757.5 L19.2,760.2Z" fill="url(#hat7)" stroke="url(#hat7)" stroke-width="3" stroke-linejoin="round"/><path d="M48.3,743.4 L49.8,742.3 L51.1,741.4 L52.4,740.5 L53.8,739.6 L55.4,738.5 L56.8,737.5 L58.1,736.5 L48.4,714.4 L45.4,715.5 L42.5,716.8 L40,718.3 L37.4,720.1 L35,722.1 L32.7,724.4 L30.7,726.8Z" fill="url(#hat7)" stroke="url(#hat7)" stroke-width="3" stroke-linejoin="round"/><path d="M67.1,745.2 L68.8,745.2 L70.2,745.3 L71.7,745.3 L73.2,745.3 L74.6,745.3 L76.1,745.2 L77.8,745.2 L79.1,745.1 L86.3,699.6 L82.8,698.8 L79.7,698.3 L76.3,698 L72.8,697.9 L69.4,698.1 L66,698.4 L62.6,699 L59.5,699.8Z" fill="#ffffff" stroke="#ffffff" stroke-width="3" stroke-linejoin="round"/><path d="M87.3,736.2 L88.2,737 L89.2,738 L90,738.8 L91.2,740 L92.4,741.3 L93.8,742.6 L95.2,744.1 L114.9,730.1 L113.4,727.6 L111.7,725.1 L109.7,722.7 L107.4,720.4 L104.5,718.1 L101.5,716.1 L98.1,714.6Z" fill="url(#hat7)" stroke="url(#hat7)" stroke-width="3" stroke-linejoin="round"/><path d="M98.2,750.4 L98.8,752.9 L99.6,755.8 L100.9,758.9 L102.6,762 L104.2,764.5 L105.9,766.6 L107.7,768.7 L127.4,754.7 L126.3,752.7 L125.3,750.8 L124.3,749.1 L123.7,747.9 L123,746.5 L122.1,744.7 L121.1,742.6Z" fill="url(#hat7)" stroke="url(#hat7)" stroke-width="3" stroke-linejoin="round"/></g><path d="M89,769.6 L91,772.6 L92.8,774.9 L94.8,777.4 L97.1,779.9 L99.3,782.1 L101.4,785 L103.6,787.9 L105.7,790.6 L108.4,793.4 L110.9,795.8 L113.7,798.1 L116.3,800 L119,801.7 L121.9,803.3 L124.6,804.6 L127.3,805.8 L129.8,807.3 L132.2,809.1 L134.5,810.7 L137.8,812.7 L142.4,814.8 L146.6,816.2 L150.2,817.1 L153.1,817.6 L155.4,817.9 L157.1,817.9 L158.1,817.8 L158.3,817.8 L157.4,817.8 L155.5,817 L153,814.9 L149.7,809.7 L149.3,808.1 L149.5,807.6 L150,808.9 L150.5,809.5 L150.6,811.3 L150.1,812.7 L149.7,814.7 L149.3,816.5 L148.9,818.7 L148.7,820.9 L148.5,823.3 L148.4,825.9 L148.5,828.8 L148.6,831.7 L148.9,833.9 L148.4,836 L147.8,837.9 L147.2,839.9 L146.8,841.7 L146.4,843.3 L146.1,845.1 L145.8,846.9 L145.7,848.4 L145.5,850.3 L145.3,852.3 L144.8,854 L143.8,855.7 L142.8,857.4 L142,858.7 L141.2,860.3 L140.4,861.8 L139.7,863.4 L139.3,864.6 L138.7,866.2 L138.1,867.8 L183.7,897.6 L185.8,895 L187.7,892.3 L189.7,889.2 L191.2,886.3 L192.5,883.4 L193.6,880.4 L194.7,877.2 L195.4,874.2 L196,871.2 L197,868.2 L198.3,865.5 L199.4,862.6 L200.5,859.4 L201.3,856.3 L201.9,853.3 L202.3,850 L202.5,846.9 L202.6,843.9 L202.5,841 L202.4,838.1 L203,835.4 L203.5,833.4 L204,831.4 L204.4,829 L204.8,826.5 L205,823.8 L205.1,821.1 L205,818 L204.8,815 L204.5,811.5 L204.6,808.3 L204.9,804 L204.8,800.4 L204,795.1 L202.1,788.8 L196.4,779.2 L190.5,773.7 L184.5,770.1 L179.1,768 L174.6,766.3 L170.9,764.8 L167.8,763.8 L165.3,763 L163.4,762.4 L162.1,762 L161.6,761.9 L161.7,762.1 L160.6,761.8 L158.6,761.1 L156.7,760.5 L154.9,759.4 L153.4,758.1 L151.9,756.8 L150.7,755.6 L149.3,754.5 L148,753.4 L147,752.6 L145.7,751.7 L144.8,751.2 L143.5,750.3 L142.4,749.6 L141.4,748.6 L140.5,746.9 L139.9,745.4 L139.1,743.9 L138.1,742.1 L137.5,740.8Z" fill="#323232" stroke="#323232" stroke-width="1" stroke-linejoin="round"/><g filter="url(#rough7)"><path d="M115.5,778.2 L117.4,780.4 L119.5,782.7 L121.6,784.6 L123.9,786.3 L126.3,788 L128.7,789.4 L131.1,790.6 L144.2,770.3 L142.5,768.9 L140.8,767.5 L139.3,766.2 L137.6,764.9 L136,763.7 L134.5,762.6 L132.9,761.4Z" fill="url(#hat7)" stroke="url(#hat7)" stroke-width="3" stroke-linejoin="round"/><path d="M140.9,796.4 L143.2,797.9 L146.2,799.6 L149.5,800.9 L152.6,801.7 L155.3,802.3 L157.8,802.6 L160.1,802.9 L165.8,779.4 L163.2,778.5 L161,777.8 L158.9,777.2 L157.2,776.7 L155.9,776.4 L154.5,775.9 L152.4,775.2Z" fill="url(#hat7)" stroke="url(#hat7)" stroke-width="3" stroke-linejoin="round"/><path d="M157.7,813.5 L155.7,811.9 L154,809.5 L153.3,807.8 L153.3,807.1 L153.8,808.2 L200.9,802.1 L200.6,798.6 L199.5,793.5 L197.1,787.5 L192.8,781.3 L187.5,776.5Z" fill="#ffffff" stroke="#ffffff" stroke-width="3" stroke-linejoin="round"/><path d="M165.3,814.9 L164.9,816.9 L164.5,818.9 L164.2,821 L164,823.1 L163.9,825.3 L163.9,827.6 L163.9,830 L188.1,832 L188.5,830 L188.9,827.8 L189.3,825.7 L189.5,823.4 L189.6,821.1 L189.6,818.7 L189.5,816.3Z" fill="url(#hat7)" stroke="url(#hat7)" stroke-width="3" stroke-linejoin="round"/><path d="M163.1,840.1 L162.6,842 L162.1,843.9 L161.7,845.8 L161.4,847.6 L161.1,849.5 L160.8,851.4 L160.6,853.3 L184,859.8 L184.8,857.4 L185.6,855.1 L186.2,852.7 L186.7,850.1 L187,847.6 L187.2,845.2 L187.2,842.7Z" fill="url(#hat7)" stroke="url(#hat7)" stroke-width="3" stroke-linejoin="round"/><path d="M157.7,862.2 L156.8,863.9 L155.9,865.6 L155,867.3 L154.2,868.9 L153.4,870.6 L152.7,872.3 L152,874.1 L172.7,886.7 L174.2,884.6 L175.6,882.5 L176.9,880.3 L178,878 L178.9,875.6 L179.7,873.3 L180.4,870.9Z" fill="url(#hat7)" stroke="url(#hat7)" stroke-width="3" stroke-linejoin="round"/></g><path d="M138.1,867.8 L137.4,869.5 L136,871 L134.6,872.3 L133.2,873.6 L131.9,874.8 L130.8,876.1 L129.7,877.3 L128.7,878.5 L127.9,879.7 L127.1,880.9 L126.3,882 L125.4,882.8 L124,883.4 L122.5,884 L121,884.6 L119.5,885.3 L117.7,886.2 L116.4,887 L115.1,887.8 L113.9,888.6 L112.7,889.5 L111.7,890.3 L110,890.7 L108.9,890.5 L109,890.2 L108.2,890.1 L107.4,890 L106.5,890 L105.5,890.1 L104.5,890.2 L103.4,890.3 L102.4,890.5 L102.1,890.7 L101.4,890.1 L100.9,889.5 L101.7,889.6 L72.4,937.1 L77.5,939.5 L81.4,940.8 L85.4,941.7 L89.8,943.3 L93.5,944.5 L97.3,945.4 L101.1,946 L105,946.3 L109,946.3 L113,945.9 L117,945.2 L121.9,943.9 L125.6,942.5 L128.5,941.5 L132.1,940.6 L135.5,939.6 L138.7,938.4 L141.8,937.1 L144.8,935.7 L147.3,934.2 L150,932.4 L152.6,930.4 L155.1,928.3 L157.7,926 L160.7,923.9 L163.6,921.8 L166.4,919.7 L169,917.5 L171.4,915.1 L173.6,912.7 L175.5,910.2 L177.3,907.6 L178.9,905 L180.4,902.4 L181.7,899.8 L183.7,897.6Z" fill="#323232" stroke="#323232" stroke-width="1" stroke-linejoin="round"/><g filter="url(#rough7)"><path d="M146.8,881.7 L145.4,883.1 L144,884.6 L142.7,886 L141.5,887.3 L140.3,888.7 L139.1,890.3 L138,891.7 L154.5,909.4 L156.6,907.8 L158.4,906.2 L160.2,904.4 L161.9,902.4 L163.5,900.4 L164.8,898.5 L166.1,896.4Z" fill="url(#hat7)" stroke="url(#hat7)" stroke-width="3" stroke-linejoin="round"/><path d="M131.3,896.8 L129.5,897.6 L127.8,898.4 L126.2,899.2 L124.4,900.2 L122.9,901.1 L121.1,902.1 L119.6,903.1 L129.1,925.4 L131.6,924.6 L133.9,923.7 L136.2,922.6 L138.4,921.5 L140.5,920.1 L142.6,918.6 L144.5,917.1Z" fill="url(#hat7)" stroke="url(#hat7)" stroke-width="3" stroke-linejoin="round"/><path d="M111.9,905.6 L110.4,905.5 L109,905.5 L107.5,905.5 L106,905.5 L104.4,905.5 L102.8,905.6 L101.3,905.6 L96.9,929.4 L99.6,930.1 L102.5,930.6 L105.3,930.8 L108.2,930.8 L111.1,930.6 L114,930.1 L116.9,929.3Z" fill="url(#hat7)" stroke="url(#hat7)" stroke-width="3" stroke-linejoin="round"/></g><path d="M101.7,889.6 L101.8,889.4 L101.7,889.2 L102,889.5 L101.3,889 L100.4,888.3 L99.7,887.9 L98.6,886.9 L97.9,885.5 L97.7,884.2 L97.3,882.6 L97.3,881.9 L97,880.7 L96.9,880.1 L96.6,879.4 L96.2,878.2 L95.8,877.8 L95.4,876.8 L95.1,876.7 L95.5,877.4 L95.2,879.7 L95.1,880.6 L95,881.2 L94.9,881.5 L94.2,882.2 L94.1,882 L94.1,881.7 L92.8,882 L92.6,881.6 L93,881.6 L93.7,881.7 L94.6,881.9 L96.1,881.9 L97.2,882 L98.4,882 L99.7,882 L101.2,882 L102.9,882 L104.1,881.9 L105.1,881.8 L106.5,881.8 L107.1,881.6 L108,882.1 L107.7,882.4 L106.8,882.3 L106.2,882.1 L106.7,882.7 L107.1,883.1 L108.3,884.2 L109.5,885.3 L111.2,886.9 L113.2,888.7 L115.3,890.6 L117.1,893.1 L118,894.7 L119.2,896.5 L120.4,898.3 L121.9,900.2 L123.6,902.2 L125.6,904.4 L127.7,906.5 L130.3,908.8 L132.9,910.9 L170.8,872.2 L169.9,870.8 L169.1,869.4 L168,867.8 L166.8,866.2 L165.4,864.4 L163.7,862.5 L161.7,860.5 L159.7,858.5 L157.3,856.4 L155.7,855.2 L154.6,853.4 L153.4,851.4 L151.9,849.2 L149.9,846.5 L147.7,844 L144.5,841 L141.3,838.4 L136.6,835.3 L131.3,832.8 L126.5,831.1 L122.7,830.1 L118.5,828.7 L115,827.7 L111.2,826.8 L107.4,826.2 L104.2,825.9 L100.7,825.7 L97.1,825.7 L93.3,826 L89.4,826.5 L86,827.2 L82.1,828.3 L78,829.6 L73.7,831.2 L68.9,832.8 L63.4,835.6 L59.3,838.2 L55.5,841.3 L51.4,845.6 L48.3,849.8 L45.6,854.7 L43.5,860.1 L41.9,867.2 L41.5,872.8 L41.1,877.7 L40.9,881.6 L41,886.1 L41.4,889.8 L42.3,894 L43.5,898.1 L44.8,901.6 L46.7,905.5 L48.4,908.4 L50.5,911.5 L52.3,914.4 L53.8,917.6 L55.9,921.3 L58.1,924.5 L60.6,927.7 L64.4,931.5 L68.1,934.5 L72.4,937.1Z" fill="#323232" stroke="#323232" stroke-width="1" stroke-linejoin="round"/><g filter="url(#rough7)"><path d="M94.2,903.4 L93.2,902.6 L92.8,902.1 L91.9,901.3 L91,900.4 L89.9,899.4 L88.8,898.4 L87.7,897.2 L67.9,911.2 L69.3,913.6 L71,916 L72.9,918.2 L75.2,920.3 L77.8,922.3 L81.1,924.2 L83.9,925.4Z" fill="url(#hat7)" stroke="url(#hat7)" stroke-width="3" stroke-linejoin="round"/><path d="M83.5,889.9 L83,888.2 L82.7,886.9 L82.3,885.3 L81.8,883.7 L81.4,882.1 L80.9,880.8 L80.5,879.2 L56.3,881.5 L56.4,884.3 L56.7,887.3 L57.3,890 L58,892.7 L58.9,895.2 L60.2,898 L61.6,900.3Z" fill="url(#hat7)" stroke="url(#hat7)" stroke-width="3" stroke-linejoin="round"/><path d="M80.7,874.3 L81.4,873.3 L82,872.7 L82.6,872 L83.2,871.3 L84,870.5 L84.7,869.6 L85.5,868.7 L72.7,848.1 L69.9,849.8 L67.2,851.7 L64.8,853.9 L62.5,856.5 L60.6,859.4 L59,862.7 L58,865.7Z" fill="url(#hat7)" stroke="url(#hat7)" stroke-width="3" stroke-linejoin="round"/><path d="M92.9,875.4 L94.2,875.4 L95.8,875.4 L97.2,875.5 L98.6,875.5 L100.1,875.5 L102,875.5 L103.5,875.5 L105.2,875.5 L106.5,875.4 L114.1,834.1 L110.6,833.3 L107.6,832.8 L104.3,832.4 L101.4,832.2 L98.2,832.2 L94.8,832.4 L91.4,832.8 L88.3,833.3 L84.8,834.2Z" fill="#ffffff" stroke="#ffffff" stroke-width="3" stroke-linejoin="round"/><path d="M114.6,868.7 L115.2,869.3 L116.2,870.3 L117.1,871.2 L118.3,872.4 L119.7,873.8 L121.1,875.1 L122.8,876.6 L141.3,861 L140,859 L138.4,856.9 L136.6,854.8 L134.6,852.9 L132,850.7 L129.3,848.9 L125.8,847.2Z" fill="url(#hat7)" stroke="url(#hat7)" stroke-width="3" stroke-linejoin="round"/><path d="M129.8,884.7 L131,886.5 L132.2,888.3 L133.6,890.1 L135.1,891.9 L136.8,893.7 L138.6,895.5 L140.6,897.3 L158.3,880.8 L157.2,879.2 L155.9,877.4 L154.6,875.7 L153.2,874 L151.6,872.3 L149.9,870.5 L148.1,868.8Z" fill="url(#hat7)" stroke="url(#hat7)" stroke-width="3" stroke-linejoin="round"/></g><path d="M132.9,910.9 L136,913.5 L138.3,916 L140.8,918.4 L142.9,920.3 L144.7,921.9 L146.3,923.2 L147.8,924.3 L148.8,924.9 L150,925.7 L151.5,926.6 L153.4,928.1 L155,929.8 L156.2,931.7 L157.4,933.4 L158.5,934.9 L159.5,936.3 L160.4,937.6 L161.2,938.6 L162,939.4 L162.2,939.2 L162.8,939.5 L163.5,940.2 L163.4,941.2 L163.2,941.8 L163.1,943.1 L163.1,944.5 L163.2,946 L163.2,947.2 L163.4,948.9 L163.7,950.8 L163.9,952.7 L164.3,954.3 L164.4,956 L163.8,957.7 L163.3,958.9 L162.7,960.5 L162.2,962.1 L161.7,963.7 L161.4,965 L161.1,966.6 L160.7,968.3 L160.4,970 L211.4,990.2 L212.9,987.2 L214.2,984.2 L215.3,981.1 L216.4,977.5 L217.1,974.3 L217.5,971 L217.8,967.7 L218,964 L217.9,960.7 L218.4,957.5 L218.9,954 L219.3,951 L219.5,947.9 L219.5,944.6 L219.3,940.8 L218.8,937.4 L218.1,933.8 L217.1,930.3 L215.6,926 L214.1,922.3 L213,918.3 L211.4,914.1 L209.2,909.6 L207.2,906.2 L205.1,903.2 L202.9,900.5 L200.7,898.1 L198.4,896 L196.2,894 L194,892.3 L192.1,890.4 L190.5,888.3 L188.5,885.8 L186,883.1 L183.2,880.6 L180.8,878.6 L178.4,876.8 L176.2,875.5 L174.4,874.4 L172.9,873.7 L171.4,873 L170.8,872.2Z" fill="#323232" stroke="#323232" stroke-width="1" stroke-linejoin="round"/><g filter="url(#rough7)"><path d="M149.8,905.7 L151.6,907.4 L153.4,909 L155.1,910.3 L156.7,911.6 L158.3,912.8 L159.9,913.9 L161.2,914.8 L178.3,897.7 L176.3,895.4 L174.4,893.5 L172.4,891.7 L170.4,890.2 L168.4,888.8 L166.4,887.6 L164.5,886.5Z" fill="url(#hat7)" stroke="url(#hat7)" stroke-width="3" stroke-linejoin="round"/><path d="M168.2,922 L169.4,923.7 L170.6,925.4 L171.7,926.9 L172.9,928.3 L174,929.7 L175,930.9 L176,932.1 L197.6,921.1 L196.3,918.3 L194.9,915.7 L193.3,913.3 L191.5,911.1 L189.7,909.1 L187.9,907.2 L186,905.5Z" fill="url(#hat7)" stroke="url(#hat7)" stroke-width="3" stroke-linejoin="round"/><path d="M178.4,939 L178.4,940.8 L178.5,942.7 L178.6,944.5 L178.7,946.3 L178.9,948.2 L179.1,950.2 L179.4,952.3 L203.6,952.9 L203.9,950.3 L204,947.7 L204,945.1 L203.8,942.2 L203.5,939.5 L202.9,936.7 L202.1,934Z" fill="url(#hat7)" stroke="url(#hat7)" stroke-width="3" stroke-linejoin="round"/><path d="M178.6,961.3 L178,963 L177.5,964.9 L176.9,966.7 L176.4,968.6 L176,970.5 L175.6,972.4 L175.2,974.4 L197.8,983 L199,980.6 L200,978.1 L200.8,975.5 L201.5,973 L202,970.3 L202.4,967.7 L202.6,964.8Z" fill="url(#hat7)" stroke="url(#hat7)" stroke-width="3" stroke-linejoin="round"/></g><path d="M160.4,970 L160.1,971.7 L159.4,973.3 L158.3,974.8 L157.2,976.2 L156.1,977.7 L155.1,979.2 L154.1,980.7 L153.2,982.3 L152.3,983.9 L151.5,985.6 L150.7,987.2 L149.9,988.9 L148.4,990.6 L146.6,992.2 L144.9,993.8 L143.4,995.3 L142,996.6 L140.9,997.9 L139.9,999.1 L139.1,1000.2 L138,1001.6 L137.4,1002.5 L137,1003.3 L136.4,1003.3 L136,1003.1 L135.6,1003 L134.9,1003 L134,1003.2 L132.3,1003.6 L131.2,1003.9 L130,1004.4 L128.2,1004.9 L126.8,1005.4 L125.4,1005.9 L123.9,1005.5 L121.9,1005.2 L120.5,1004.8 L119.1,1004.6 L117.9,1004.3 L116.7,1004.2 L115.5,1004.1 L114.3,1004 L113,1004 L111.8,1003.9 L110.6,1003.7 L109.8,1002.9 L109.2,1002.2 L108.7,1001.6 L108.4,1001.1 L109.3,1001.7 L70.3,1042.4 L74.9,1046.2 L78.6,1048.6 L82.3,1050.5 L86.1,1052.1 L89.8,1053.3 L93.2,1054.9 L96.6,1056.4 L100.1,1057.8 L103.7,1058.9 L107.3,1059.7 L111,1060.3 L114.7,1060.5 L118.3,1060.6 L121.8,1060.4 L124.7,1060 L128.1,1059.5 L131.6,1059.6 L135.2,1059.6 L138.2,1059.5 L141.9,1059.1 L145.6,1058.4 L148.7,1057.6 L152.5,1056.3 L156.5,1054.6 L160.5,1052.4 L164.5,1049.8 L168,1047.2 L171.5,1045 L174.8,1042.8 L177.3,1040.9 L180,1038.5 L182.4,1036.1 L184.5,1033.6 L186.4,1031.2 L188,1028.9 L189.4,1026.7 L190.7,1024.4 L192.2,1022.2 L194.4,1020 L196.5,1017.7 L198.5,1015.3 L200.4,1012.8 L202.1,1010.2 L203.7,1007.5 L205.1,1004.7 L206.3,1001.9 L207.5,998.9 L208.5,995.9 L209.8,993 L211.4,990.2Z" fill="#323232" stroke="#323232" stroke-width="1" stroke-linejoin="round"/><g filter="url(#rough7)"><path d="M171.4,982.6 L170.2,984.4 L169,986.1 L167.9,987.8 L166.9,989.5 L165.9,991.3 L164.8,993.2 L163.9,995 L183.6,1009 L185.3,1007.1 L186.8,1005.1 L188.3,1003 L189.7,1000.8 L190.9,998.5 L192,996.1 L192.9,993.8Z" fill="url(#hat7)" stroke="url(#hat7)" stroke-width="3" stroke-linejoin="round"/><path d="M157.9,1002.7 L156.3,1004.2 L154.8,1005.7 L153.4,1007.2 L152,1008.8 L150.7,1010.2 L149.6,1011.6 L148.3,1013.2 L164.4,1031.2 L166.5,1029.7 L168.7,1027.8 L170.6,1025.9 L172.3,1024.1 L173.9,1022 L175.4,1020 L176.7,1017.9Z" fill="url(#hat7)" stroke="url(#hat7)" stroke-width="3" stroke-linejoin="round"/><path d="M142.3,1017.2 L140.9,1017.5 L139.5,1017.8 L137.9,1018.2 L136,1018.7 L134.3,1019.1 L132.6,1019.6 L130.6,1020.2 L133.7,1044.2 L136.2,1044.1 L139.1,1043.8 L141.9,1043.3 L144.5,1042.7 L147.4,1041.7 L150.2,1040.4 L153.1,1038.9Z" fill="url(#hat7)" stroke="url(#hat7)" stroke-width="3" stroke-linejoin="round"/><path d="M121.9,1020.7 L119.8,1020.3 L118,1020 L116.3,1019.7 L114.6,1019.5 L112.9,1019.3 L110.8,1019 L109.1,1018.8 L102.4,1042.1 L105.1,1043.1 L107.5,1043.9 L110.3,1044.5 L113.2,1044.9 L116.1,1045.1 L118.9,1045.1 L121.4,1044.9Z" fill="url(#hat7)" stroke="url(#hat7)" stroke-width="3" stroke-linejoin="round"/></g><path d="M109.3,1001.7 L109.5,1002 L110.3,1003.4 L110,1003.3 L109.4,1003 L108.8,1002.3 L108.7,1002 L108.7,1000.6 L108.7,999.2 L108.7,997.7 L108.7,996.4 L108.6,994.9 L108.6,994.3 L108.4,993.1 L108.2,991.8 L107.9,991 L107.7,989.7 L108.1,988.6 L108.5,988.3 L109.1,987.6 L109.2,987.9 L109.6,987.6 L109.5,987.8 L109.3,987.8 L109.1,987.8 L109.5,987 L109.4,986.7 L110,985.8 L110.4,985.9 L111.6,985.8 L112.1,985.9 L113.1,985.8 L114.4,985.6 L115.8,985.2 L117.3,984.8 L118.9,984.3 L120.9,983.7 L122.5,983.1 L124.2,982.6 L125.9,982.9 L127.5,983.2 L129,983.5 L130.2,983.6 L131,983.7 L131.7,983.6 L131.8,983.3 L132.9,983.2 L133.7,983.1 L134.7,984 L136.2,985.1 L138,986.3 L140.3,987.6 L142.5,988.6 L167.1,938.3 L164.8,937.1 L162.7,936.2 L160.1,935.2 L157.2,934.3 L153.6,933.2 L149.7,931.4 L146.1,929.9 L141.4,928.5 L137.2,927.7 L133.1,927.4 L129.4,927.4 L125.9,927.8 L122.6,928.4 L119.4,929.1 L116.1,929.1 L112.9,929.1 L110,929.3 L106.7,929.7 L103.4,930.2 L100,931.1 L96.5,932.2 L92.9,933.7 L88.8,935.7 L85.5,937.7 L81.7,940.2 L78.1,942 L74.1,944.7 L70.8,947.2 L67.2,950.7 L63.9,954.7 L61.1,959 L59.1,962.9 L57.2,967.8 L56.2,971.8 L55.4,976.3 L54.7,979.9 L53.8,983.5 L53,987.7 L52.5,991.3 L52.3,995 L52.4,999.3 L52.8,1002.7 L53.5,1006.4 L54.3,1009.7 L55.4,1013.1 L56.7,1016.5 L58,1020.9 L59.2,1024.9 L60.8,1029 L62.9,1033.2 L66.6,1038.5 L70.3,1042.4Z" fill="#323232" stroke="#323232" stroke-width="1" stroke-linejoin="round"/><g filter="url(#rough7)"><path d="M101.9,1015.9 L100.7,1014.9 L99.6,1013.9 L98.7,1013 L97.9,1012.3 L97.6,1012 L96.7,1011.1 L95.8,1010 L74,1020.4 L75.2,1023.4 L76.9,1026.3 L79.5,1029.6 L82,1032.1 L84.6,1034.1 L87.3,1035.7 L90.1,1037.1Z" fill="url(#hat7)" stroke="url(#hat7)" stroke-width="3" stroke-linejoin="round"/><path d="M93.5,1002.7 L93.5,1001 L93.4,999.1 L93.3,997.1 L93.1,995.4 L93,993.6 L92.8,992.1 L92.7,990.3 L68.6,988 L68.1,990.8 L67.8,993.9 L67.8,996.8 L68,999.6 L68.4,1002.2 L69,1004.9 L69.8,1007.7Z" fill="url(#hat7)" stroke="url(#hat7)" stroke-width="3" stroke-linejoin="round"/><path d="M94.2,982.8 L95,981.5 L95.6,980.6 L96.4,979.4 L97.1,978.5 L98,977.3 L98.6,976.3 L99.6,975.1 L84.1,956.5 L81.6,958.3 L79.1,960.7 L77,963 L75,965.8 L73.5,968.6 L72.1,972 L71.3,974.9Z" fill="url(#hat7)" stroke="url(#hat7)" stroke-width="3" stroke-linejoin="round"/><path d="M105.6,971.6 L107.3,971.2 L108.9,970.9 L110.7,970.5 L112.4,970.1 L114.3,969.6 L116.3,969 L118.2,968.4 L114.7,944.5 L112.1,944.6 L109.6,944.9 L106.9,945.3 L104.2,946 L101.5,946.9 L98.7,948 L96.1,949.3Z" fill="url(#hat7)" stroke="url(#hat7)" stroke-width="3" stroke-linejoin="round"/><path d="M127.4,972.7 L129.1,973 L130.6,973.2 L131.9,973.2 L133.1,973.2 L134.4,973.2 L142.3,939.7 L139.1,938.7 L135.8,938.1 L132.4,937.9 L129.4,937.9 L126.4,938.3Z" fill="#ffffff" stroke="#ffffff" stroke-width="3" stroke-linejoin="round"/></g><path d="M142.5,988.6 L143.7,989 L145.4,989.6 L147.1,990.1 L149,990.8 L151.2,991.6 L153.1,993 L155.2,994.7 L157.4,996.3 L159.9,997.9 L162.1,999.2 L164.3,1000.4 L166.6,1001.5 L168.9,1002.4 L171.2,1003.3 L173.6,1004.2 L175.7,1005.4 L177.7,1006.8 L179.6,1008.2 L181.4,1009.5 L183.3,1010.8 L185.4,1011.9 L187.6,1013.1 L189.9,1014.2 L192.5,1015.4 L195.1,1016.5 L197.6,1017.6 L199.7,1019 L202,1020.4 L204.4,1021.8 L206.8,1023.2 L209.3,1024.5 L211.7,1025.6 L214.2,1026.7 L216.7,1027.8 L219.2,1028.7 L221.6,1029.5 L224.1,1030.2 L226.5,1031 L228.9,1031.7 L231.2,1032.5 L233.4,1033.4 L235.6,1034.3 L237.8,1034.9 L240.1,1035.5 L242.6,1036 L245.1,1036.3 L247.8,1036.5 L250.6,1036.5 L253.5,1036.4 L256.5,1036 L259.8,1035.3 L263.3,1034 L268.9,1029.1 L268.9,1029.1 L270.1,1021.9 L269.3,1018.2 L268.2,1015 L266.9,1012.2 L265.5,1009.6 L263.9,1007.3 L262.2,1005.1 L260.4,1003 L258.5,1001.2 L256.4,999.4 L254.2,997.8 L252,996.4 L249.7,995.1 L247.5,993.7 L245.5,992.2 L243.4,990.8 L241.4,989.3 L239.4,988 L237.4,986.6 L235.5,985.4 L233.6,984.2 L231.7,983 L229.8,981.9 L227.8,980.8 L225.9,979.7 L223.9,978.6 L221.8,977.5 L220.1,976 L218.5,974.4 L216.8,972.9 L215,971.3 L213.1,969.8 L210.9,968.2 L208.7,966.8 L206.3,965.4 L204,964.2 L201.7,963 L199.6,961.6 L197.7,959.9 L195.8,958.2 L193.8,956.6 L191.9,955.1 L189.8,953.7 L187.8,952.4 L186,951.4 L184.1,950.3 L182,949.2 L179.8,947.9 L177.8,946 L175.5,944 L172.9,942 L170.3,940.1 L167.1,938.3Z" fill="#323232" stroke="#323232" stroke-width="1" stroke-linejoin="round"/><g filter="url(#rough7)"><path d="M142.9,971.1 L144.6,972.2 L146.5,973.4 L148.5,974.3 L150.1,975 L151.8,975.7 L153.6,976.3 L155.4,977 L167.6,957.3 L165.7,955.8 L163.8,954.3 L161.7,953 L159.4,951.7 L157.6,950.8 L155.6,950 L153.4,949.2Z" fill="url(#hat7)" stroke="url(#hat7)" stroke-width="3" stroke-linejoin="round"/><path d="M164.3,982.1 L166.2,983.5 L168.1,984.8 L170,985.9 L171.9,986.9 L173.8,987.9 L175.8,988.7 L177.8,989.5 L188.5,972.1 L186.8,970.6 L185.1,969.3 L183.4,968 L181.6,966.8 L179.8,965.6 L178,964.6 L176.3,963.7Z" fill="url(#hat7)" stroke="url(#hat7)" stroke-width="3" stroke-linejoin="round"/><path d="M187,994.5 L188.7,995.7 L190.4,996.9 L192.2,998 L194,999.1 L195.9,1000.1 L197.9,1001 L200,1002 L209.6,987 L208,985.6 L206.4,984.2 L204.7,982.8 L202.9,981.5 L201.1,980.3 L199.2,979.1 L197.2,978.1Z" fill="url(#hat7)" stroke="url(#hat7)" stroke-width="3" stroke-linejoin="round"/><path d="M203.8,1016.8 L206,1018.1 L208.2,1019.4 L210.5,1020.6 L212.8,1021.7 L215,1022.7 L217.5,1023.8 L219.8,1024.6 L222.1,1025.4 L224.4,1026.2 L226.7,1026.9 L242.4,994.9 L240.4,993.5 L238.5,992.2 L236.6,990.9 L234.7,989.7 L233,988.5 L231.1,987.4 L229.2,986.2 L227.3,985.1 L225.5,984.1 L223.6,983.1Z" fill="#ffffff" stroke="#ffffff" stroke-width="3" stroke-linejoin="round"/></g><g filter="url(#wob)"><path d="M108,996 C104,984 116,975 130,975 C144,974 152,980 150,988 C146,994 136,992 128,996 C120,1002 112,1006 108,996Z" fill="#fff" stroke="#323232" stroke-width="2"/></g></g>
<text x="607" y="262" font-family="Liberation Sans, sans-serif" font-size="49.3" fill="#484848" textLength="366" lengthAdjust="spacing">HORMOGONIA</text>
<text x="289" y="873.6" font-family="Liberation Sans, sans-serif" font-size="49.3" fill="#484848" textLength="240" lengthAdjust="spacing">NECRIDIA</text>
</g>
</svg>
</body></html>
